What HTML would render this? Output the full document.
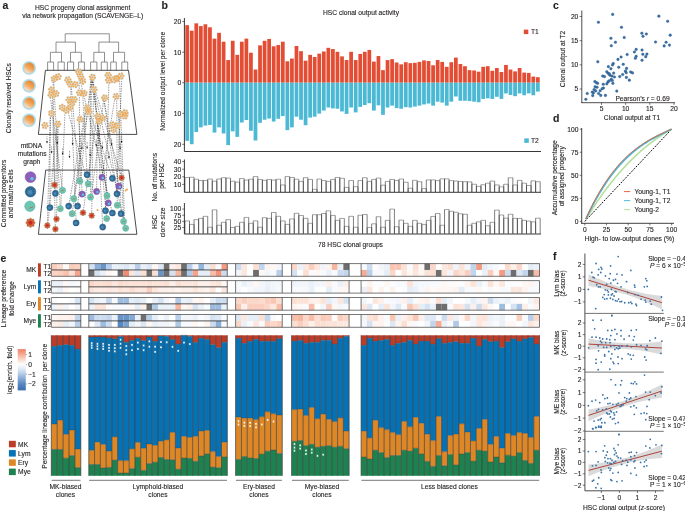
<!DOCTYPE html>
<html><head><meta charset="utf-8"><style>
html,body{margin:0;padding:0;background:#fff;overflow:hidden;}
svg{display:block;will-change:transform;}
text{font-family:"Liberation Sans", sans-serif;stroke:#231f20;stroke-width:0.12px;}
</style></head><body>
<svg width="685" height="511" viewBox="0 0 685 511">
<rect x="0" y="0" width="685" height="511" fill="#fff"/>
<rect x="185.3" y="25.17" width="3.75" height="57.53" fill="#e34d34" />
<rect x="185.3" y="82.7" width="3.75" height="58.14" fill="#4bb8d4" />
<rect x="189.85" y="30.68" width="3.75" height="52.02" fill="#e34d34" />
<rect x="189.85" y="82.7" width="3.75" height="61.51" fill="#4bb8d4" />
<rect x="194.41" y="23.34" width="3.75" height="59.36" fill="#e34d34" />
<rect x="194.41" y="82.7" width="3.75" height="49.27" fill="#4bb8d4" />
<rect x="198.96" y="26.09" width="3.75" height="56.61" fill="#e34d34" />
<rect x="198.96" y="82.7" width="3.75" height="44.68" fill="#4bb8d4" />
<rect x="203.52" y="24.25" width="3.75" height="58.45" fill="#e34d34" />
<rect x="203.52" y="82.7" width="3.75" height="42.84" fill="#4bb8d4" />
<rect x="208.07" y="27.31" width="3.75" height="55.39" fill="#e34d34" />
<rect x="208.07" y="82.7" width="3.75" height="42.23" fill="#4bb8d4" />
<rect x="212.62" y="38.64" width="3.75" height="44.06" fill="#e34d34" />
<rect x="212.62" y="82.7" width="3.75" height="49.88" fill="#4bb8d4" />
<rect x="217.18" y="32.82" width="3.75" height="49.88" fill="#e34d34" />
<rect x="217.18" y="82.7" width="3.75" height="44.68" fill="#4bb8d4" />
<rect x="221.73" y="41.7" width="3.75" height="41" fill="#e34d34" />
<rect x="221.73" y="82.7" width="3.75" height="50.8" fill="#4bb8d4" />
<rect x="226.29" y="60.06" width="3.75" height="22.64" fill="#e34d34" />
<rect x="226.29" y="82.7" width="3.75" height="62.42" fill="#4bb8d4" />
<rect x="230.84" y="40.78" width="3.75" height="41.92" fill="#e34d34" />
<rect x="230.84" y="82.7" width="3.75" height="48.65" fill="#4bb8d4" />
<rect x="235.39" y="54.85" width="3.75" height="27.85" fill="#e34d34" />
<rect x="235.39" y="82.7" width="3.75" height="54.16" fill="#4bb8d4" />
<rect x="239.95" y="41.7" width="3.75" height="41" fill="#e34d34" />
<rect x="239.95" y="82.7" width="3.75" height="39.78" fill="#4bb8d4" />
<rect x="244.5" y="38.64" width="3.75" height="44.06" fill="#e34d34" />
<rect x="244.5" y="82.7" width="3.75" height="37.33" fill="#4bb8d4" />
<rect x="249.06" y="52.71" width="3.75" height="29.99" fill="#e34d34" />
<rect x="249.06" y="82.7" width="3.75" height="48.04" fill="#4bb8d4" />
<rect x="253.61" y="69.54" width="3.75" height="13.16" fill="#e34d34" />
<rect x="253.61" y="82.7" width="3.75" height="57.83" fill="#4bb8d4" />
<rect x="258.16" y="45.37" width="3.75" height="37.33" fill="#e34d34" />
<rect x="258.16" y="82.7" width="3.75" height="40.09" fill="#4bb8d4" />
<rect x="262.72" y="40.78" width="3.75" height="41.92" fill="#e34d34" />
<rect x="262.72" y="82.7" width="3.75" height="37.03" fill="#4bb8d4" />
<rect x="267.27" y="38.94" width="3.75" height="43.76" fill="#e34d34" />
<rect x="267.27" y="82.7" width="3.75" height="35.8" fill="#4bb8d4" />
<rect x="271.83" y="46.29" width="3.75" height="36.41" fill="#e34d34" />
<rect x="271.83" y="82.7" width="3.75" height="38.86" fill="#4bb8d4" />
<rect x="276.38" y="45.06" width="3.75" height="37.64" fill="#e34d34" />
<rect x="276.38" y="82.7" width="3.75" height="36.11" fill="#4bb8d4" />
<rect x="280.93" y="41.7" width="3.75" height="41" fill="#e34d34" />
<rect x="280.93" y="82.7" width="3.75" height="33.35" fill="#4bb8d4" />
<rect x="285.49" y="61.28" width="3.75" height="21.42" fill="#e34d34" />
<rect x="285.49" y="82.7" width="3.75" height="47.43" fill="#4bb8d4" />
<rect x="290.04" y="58.53" width="3.75" height="24.17" fill="#e34d34" />
<rect x="290.04" y="82.7" width="3.75" height="44.68" fill="#4bb8d4" />
<rect x="294.6" y="45.98" width="3.75" height="36.72" fill="#e34d34" />
<rect x="294.6" y="82.7" width="3.75" height="33.97" fill="#4bb8d4" />
<rect x="299.15" y="51.18" width="3.75" height="31.52" fill="#e34d34" />
<rect x="299.15" y="82.7" width="3.75" height="37.03" fill="#4bb8d4" />
<rect x="303.7" y="60.67" width="3.75" height="22.03" fill="#e34d34" />
<rect x="303.7" y="82.7" width="3.75" height="42.53" fill="#4bb8d4" />
<rect x="308.26" y="54.85" width="3.75" height="27.85" fill="#e34d34" />
<rect x="308.26" y="82.7" width="3.75" height="34.88" fill="#4bb8d4" />
<rect x="312.81" y="57" width="3.75" height="25.7" fill="#e34d34" />
<rect x="312.81" y="82.7" width="3.75" height="33.97" fill="#4bb8d4" />
<rect x="317.37" y="53.63" width="3.75" height="29.07" fill="#e34d34" />
<rect x="317.37" y="82.7" width="3.75" height="30.91" fill="#4bb8d4" />
<rect x="321.92" y="51.49" width="3.75" height="31.21" fill="#e34d34" />
<rect x="321.92" y="82.7" width="3.75" height="27.85" fill="#4bb8d4" />
<rect x="326.47" y="47.82" width="3.75" height="34.88" fill="#e34d34" />
<rect x="326.47" y="82.7" width="3.75" height="24.79" fill="#4bb8d4" />
<rect x="331.03" y="49.04" width="3.75" height="33.66" fill="#e34d34" />
<rect x="331.03" y="82.7" width="3.75" height="25.7" fill="#4bb8d4" />
<rect x="335.58" y="51.79" width="3.75" height="30.91" fill="#e34d34" />
<rect x="335.58" y="82.7" width="3.75" height="26.01" fill="#4bb8d4" />
<rect x="340.14" y="56.38" width="3.75" height="26.32" fill="#e34d34" />
<rect x="340.14" y="82.7" width="3.75" height="28.76" fill="#4bb8d4" />
<rect x="344.69" y="60.06" width="3.75" height="22.64" fill="#e34d34" />
<rect x="344.69" y="82.7" width="3.75" height="31.21" fill="#4bb8d4" />
<rect x="349.24" y="51.79" width="3.75" height="30.91" fill="#e34d34" />
<rect x="349.24" y="82.7" width="3.75" height="24.79" fill="#4bb8d4" />
<rect x="353.8" y="60.06" width="3.75" height="22.64" fill="#e34d34" />
<rect x="353.8" y="82.7" width="3.75" height="29.68" fill="#4bb8d4" />
<rect x="358.35" y="53.94" width="3.75" height="28.76" fill="#e34d34" />
<rect x="358.35" y="82.7" width="3.75" height="24.17" fill="#4bb8d4" />
<rect x="362.91" y="51.79" width="3.75" height="30.91" fill="#e34d34" />
<rect x="362.91" y="82.7" width="3.75" height="22.34" fill="#4bb8d4" />
<rect x="367.46" y="49.96" width="3.75" height="32.74" fill="#e34d34" />
<rect x="367.46" y="82.7" width="3.75" height="20.5" fill="#4bb8d4" />
<rect x="372.01" y="61.59" width="3.75" height="21.11" fill="#e34d34" />
<rect x="372.01" y="82.7" width="3.75" height="27.85" fill="#4bb8d4" />
<rect x="376.57" y="56.08" width="3.75" height="26.62" fill="#e34d34" />
<rect x="376.57" y="82.7" width="3.75" height="22.64" fill="#4bb8d4" />
<rect x="381.12" y="70.15" width="3.75" height="12.55" fill="#e34d34" />
<rect x="381.12" y="82.7" width="3.75" height="32.13" fill="#4bb8d4" />
<rect x="385.68" y="60.06" width="3.75" height="22.64" fill="#e34d34" />
<rect x="385.68" y="82.7" width="3.75" height="24.79" fill="#4bb8d4" />
<rect x="390.23" y="59.14" width="3.75" height="23.56" fill="#e34d34" />
<rect x="390.23" y="82.7" width="3.75" height="22.95" fill="#4bb8d4" />
<rect x="394.78" y="62.5" width="3.75" height="20.2" fill="#e34d34" />
<rect x="394.78" y="82.7" width="3.75" height="25.4" fill="#4bb8d4" />
<rect x="399.34" y="64.34" width="3.75" height="18.36" fill="#e34d34" />
<rect x="399.34" y="82.7" width="3.75" height="26.01" fill="#4bb8d4" />
<rect x="403.89" y="62.2" width="3.75" height="20.5" fill="#e34d34" />
<rect x="403.89" y="82.7" width="3.75" height="24.48" fill="#4bb8d4" />
<rect x="408.45" y="63.12" width="3.75" height="19.58" fill="#e34d34" />
<rect x="408.45" y="82.7" width="3.75" height="24.79" fill="#4bb8d4" />
<rect x="413" y="62.81" width="3.75" height="19.89" fill="#e34d34" />
<rect x="413" y="82.7" width="3.75" height="23.87" fill="#4bb8d4" />
<rect x="417.55" y="61.89" width="3.75" height="20.81" fill="#e34d34" />
<rect x="417.55" y="82.7" width="3.75" height="22.95" fill="#4bb8d4" />
<rect x="422.11" y="60.36" width="3.75" height="22.34" fill="#e34d34" />
<rect x="422.11" y="82.7" width="3.75" height="21.73" fill="#4bb8d4" />
<rect x="426.66" y="60.97" width="3.75" height="21.73" fill="#e34d34" />
<rect x="426.66" y="82.7" width="3.75" height="20.81" fill="#4bb8d4" />
<rect x="431.22" y="65.26" width="3.75" height="17.44" fill="#e34d34" />
<rect x="431.22" y="82.7" width="3.75" height="22.95" fill="#4bb8d4" />
<rect x="435.77" y="60.06" width="3.75" height="22.64" fill="#e34d34" />
<rect x="435.77" y="82.7" width="3.75" height="18.97" fill="#4bb8d4" />
<rect x="440.32" y="61.89" width="3.75" height="20.81" fill="#e34d34" />
<rect x="440.32" y="82.7" width="3.75" height="19.89" fill="#4bb8d4" />
<rect x="444.88" y="66.79" width="3.75" height="15.91" fill="#e34d34" />
<rect x="444.88" y="82.7" width="3.75" height="22.95" fill="#4bb8d4" />
<rect x="449.43" y="62.2" width="3.75" height="20.5" fill="#e34d34" />
<rect x="449.43" y="82.7" width="3.75" height="18.97" fill="#4bb8d4" />
<rect x="453.99" y="57.61" width="3.75" height="25.09" fill="#e34d34" />
<rect x="453.99" y="82.7" width="3.75" height="13.77" fill="#4bb8d4" />
<rect x="458.54" y="64.03" width="3.75" height="18.67" fill="#e34d34" />
<rect x="458.54" y="82.7" width="3.75" height="18.05" fill="#4bb8d4" />
<rect x="463.09" y="66.18" width="3.75" height="16.52" fill="#e34d34" />
<rect x="463.09" y="82.7" width="3.75" height="18.05" fill="#4bb8d4" />
<rect x="467.65" y="70.15" width="3.75" height="12.55" fill="#e34d34" />
<rect x="467.65" y="82.7" width="3.75" height="18.36" fill="#4bb8d4" />
<rect x="472.2" y="70.46" width="3.75" height="12.24" fill="#e34d34" />
<rect x="472.2" y="82.7" width="3.75" height="18.97" fill="#4bb8d4" />
<rect x="476.76" y="71.68" width="3.75" height="11.02" fill="#e34d34" />
<rect x="476.76" y="82.7" width="3.75" height="19.58" fill="#4bb8d4" />
<rect x="481.31" y="66.79" width="3.75" height="15.91" fill="#e34d34" />
<rect x="481.31" y="82.7" width="3.75" height="16.22" fill="#4bb8d4" />
<rect x="485.86" y="66.18" width="3.75" height="16.52" fill="#e34d34" />
<rect x="485.86" y="82.7" width="3.75" height="15.61" fill="#4bb8d4" />
<rect x="490.42" y="70.77" width="3.75" height="11.93" fill="#e34d34" />
<rect x="490.42" y="82.7" width="3.75" height="16.22" fill="#4bb8d4" />
<rect x="494.97" y="68.01" width="3.75" height="14.69" fill="#e34d34" />
<rect x="494.97" y="82.7" width="3.75" height="14.08" fill="#4bb8d4" />
<rect x="499.53" y="71.99" width="3.75" height="10.71" fill="#e34d34" />
<rect x="499.53" y="82.7" width="3.75" height="16.22" fill="#4bb8d4" />
<rect x="504.08" y="64.95" width="3.75" height="17.75" fill="#e34d34" />
<rect x="504.08" y="82.7" width="3.75" height="10.71" fill="#4bb8d4" />
<rect x="508.63" y="69.54" width="3.75" height="13.16" fill="#e34d34" />
<rect x="508.63" y="82.7" width="3.75" height="12.24" fill="#4bb8d4" />
<rect x="513.19" y="71.38" width="3.75" height="11.32" fill="#e34d34" />
<rect x="513.19" y="82.7" width="3.75" height="13.46" fill="#4bb8d4" />
<rect x="517.74" y="68.01" width="3.75" height="14.69" fill="#e34d34" />
<rect x="517.74" y="82.7" width="3.75" height="10.71" fill="#4bb8d4" />
<rect x="522.3" y="72.6" width="3.75" height="10.1" fill="#e34d34" />
<rect x="522.3" y="82.7" width="3.75" height="12.55" fill="#4bb8d4" />
<rect x="526.85" y="72.91" width="3.75" height="9.79" fill="#e34d34" />
<rect x="526.85" y="82.7" width="3.75" height="10.71" fill="#4bb8d4" />
<rect x="531.4" y="76.58" width="3.75" height="6.12" fill="#e34d34" />
<rect x="531.4" y="82.7" width="3.75" height="12.55" fill="#4bb8d4" />
<rect x="535.96" y="77.19" width="3.75" height="5.51" fill="#e34d34" />
<rect x="535.96" y="82.7" width="3.75" height="8.87" fill="#4bb8d4" />
<line x1="184.4" y1="18" x2="184.4" y2="151.5" stroke="#231f20" stroke-width="0.9" />
<line x1="184.4" y1="151.5" x2="541" y2="151.5" stroke="#231f20" stroke-width="0.9" />
<line x1="182.2" y1="21.5" x2="184.4" y2="21.5" stroke="#231f20" stroke-width="0.6" />
<text x="181.2" y="23.8" font-size="6.68" text-anchor="end" font-weight="normal" fill="#231f20" >20</text>
<line x1="182.2" y1="52.2" x2="184.4" y2="52.2" stroke="#231f20" stroke-width="0.6" />
<text x="181.2" y="54.5" font-size="6.68" text-anchor="end" font-weight="normal" fill="#231f20" >10</text>
<line x1="182.2" y1="82.7" x2="184.4" y2="82.7" stroke="#231f20" stroke-width="0.6" />
<text x="181.2" y="85" font-size="6.68" text-anchor="end" font-weight="normal" fill="#231f20" >0</text>
<line x1="182.2" y1="113.4" x2="184.4" y2="113.4" stroke="#231f20" stroke-width="0.6" />
<text x="181.2" y="115.7" font-size="6.68" text-anchor="end" font-weight="normal" fill="#231f20" >10</text>
<line x1="182.2" y1="144.3" x2="184.4" y2="144.3" stroke="#231f20" stroke-width="0.6" />
<text x="181.2" y="146.6" font-size="6.68" text-anchor="end" font-weight="normal" fill="#231f20" >20</text>
<text x="161.4" y="8.8" font-size="10.5" text-anchor="start" font-weight="bold" fill="#231f20" >b</text>
<text x="361" y="14.75" font-size="6.68" text-anchor="middle" font-weight="normal" fill="#231f20" >HSC clonal output activity</text>
<text x="164.9" y="81.2" font-size="6.68" text-anchor="middle" font-weight="normal" fill="#231f20" transform="rotate(-90 164.9 81.2)" >Normalized output level per clone</text>
<rect x="523.8" y="29.6" width="4.5" height="4.5" fill="#e34d34" />
<text x="531" y="34.2" font-size="6.68" text-anchor="start" font-weight="normal" fill="#231f20" >T1</text>
<rect x="524.3" y="138.4" width="4.5" height="4.5" fill="#4bb8d4" />
<text x="531" y="143" font-size="6.68" text-anchor="start" font-weight="normal" fill="#231f20" >T2</text>
<line x1="184.95" y1="177.48" x2="189.5" y2="177.48" stroke="#6a6a6a" stroke-width="0.6" />
<line x1="184.95" y1="177.48" x2="184.95" y2="192" stroke="#3a3a3a" stroke-width="0.65" />
<line x1="189.5" y1="177.48" x2="189.5" y2="192" stroke="#3a3a3a" stroke-width="0.65" />
<line x1="189.5" y1="177.26" x2="194.06" y2="177.26" stroke="#6a6a6a" stroke-width="0.6" />
<line x1="189.5" y1="177.26" x2="189.5" y2="192" stroke="#3a3a3a" stroke-width="0.65" />
<line x1="194.06" y1="177.26" x2="194.06" y2="192" stroke="#3a3a3a" stroke-width="0.65" />
<line x1="194.06" y1="179.23" x2="198.61" y2="179.23" stroke="#6a6a6a" stroke-width="0.6" />
<line x1="194.06" y1="179.23" x2="194.06" y2="192" stroke="#3a3a3a" stroke-width="0.65" />
<line x1="198.61" y1="179.23" x2="198.61" y2="192" stroke="#3a3a3a" stroke-width="0.65" />
<line x1="198.61" y1="180.52" x2="203.17" y2="180.52" stroke="#6a6a6a" stroke-width="0.6" />
<line x1="198.61" y1="180.52" x2="198.61" y2="192" stroke="#3a3a3a" stroke-width="0.65" />
<line x1="203.17" y1="180.52" x2="203.17" y2="192" stroke="#3a3a3a" stroke-width="0.65" />
<line x1="203.17" y1="180.52" x2="207.72" y2="180.52" stroke="#6a6a6a" stroke-width="0.6" />
<line x1="203.17" y1="180.52" x2="203.17" y2="192" stroke="#3a3a3a" stroke-width="0.65" />
<line x1="207.72" y1="180.52" x2="207.72" y2="192" stroke="#3a3a3a" stroke-width="0.65" />
<line x1="207.72" y1="179" x2="212.27" y2="179" stroke="#6a6a6a" stroke-width="0.6" />
<line x1="207.72" y1="179" x2="207.72" y2="192" stroke="#3a3a3a" stroke-width="0.65" />
<line x1="212.27" y1="179" x2="212.27" y2="192" stroke="#3a3a3a" stroke-width="0.65" />
<line x1="212.27" y1="181.21" x2="216.83" y2="181.21" stroke="#6a6a6a" stroke-width="0.6" />
<line x1="212.27" y1="181.21" x2="212.27" y2="192" stroke="#3a3a3a" stroke-width="0.65" />
<line x1="216.83" y1="181.21" x2="216.83" y2="192" stroke="#3a3a3a" stroke-width="0.65" />
<line x1="216.83" y1="179" x2="221.38" y2="179" stroke="#6a6a6a" stroke-width="0.6" />
<line x1="216.83" y1="179" x2="216.83" y2="192" stroke="#3a3a3a" stroke-width="0.65" />
<line x1="221.38" y1="179" x2="221.38" y2="192" stroke="#3a3a3a" stroke-width="0.65" />
<line x1="221.38" y1="177.71" x2="225.94" y2="177.71" stroke="#6a6a6a" stroke-width="0.6" />
<line x1="221.38" y1="177.71" x2="221.38" y2="192" stroke="#3a3a3a" stroke-width="0.65" />
<line x1="225.94" y1="177.71" x2="225.94" y2="192" stroke="#3a3a3a" stroke-width="0.65" />
<line x1="225.94" y1="178.09" x2="230.49" y2="178.09" stroke="#6a6a6a" stroke-width="0.6" />
<line x1="225.94" y1="178.09" x2="225.94" y2="192" stroke="#3a3a3a" stroke-width="0.65" />
<line x1="230.49" y1="178.09" x2="230.49" y2="192" stroke="#3a3a3a" stroke-width="0.65" />
<line x1="230.49" y1="181.21" x2="235.04" y2="181.21" stroke="#6a6a6a" stroke-width="0.6" />
<line x1="230.49" y1="181.21" x2="230.49" y2="192" stroke="#3a3a3a" stroke-width="0.65" />
<line x1="235.04" y1="181.21" x2="235.04" y2="192" stroke="#3a3a3a" stroke-width="0.65" />
<line x1="235.04" y1="182.12" x2="239.6" y2="182.12" stroke="#6a6a6a" stroke-width="0.6" />
<line x1="235.04" y1="182.12" x2="235.04" y2="192" stroke="#3a3a3a" stroke-width="0.65" />
<line x1="239.6" y1="182.12" x2="239.6" y2="192" stroke="#3a3a3a" stroke-width="0.65" />
<line x1="239.6" y1="178.55" x2="244.15" y2="178.55" stroke="#6a6a6a" stroke-width="0.6" />
<line x1="239.6" y1="178.55" x2="239.6" y2="192" stroke="#3a3a3a" stroke-width="0.65" />
<line x1="244.15" y1="178.55" x2="244.15" y2="192" stroke="#3a3a3a" stroke-width="0.65" />
<line x1="244.15" y1="180.07" x2="248.71" y2="180.07" stroke="#6a6a6a" stroke-width="0.6" />
<line x1="244.15" y1="180.07" x2="244.15" y2="192" stroke="#3a3a3a" stroke-width="0.65" />
<line x1="248.71" y1="180.07" x2="248.71" y2="192" stroke="#3a3a3a" stroke-width="0.65" />
<line x1="248.71" y1="179.23" x2="253.26" y2="179.23" stroke="#6a6a6a" stroke-width="0.6" />
<line x1="248.71" y1="179.23" x2="248.71" y2="192" stroke="#3a3a3a" stroke-width="0.65" />
<line x1="253.26" y1="179.23" x2="253.26" y2="192" stroke="#3a3a3a" stroke-width="0.65" />
<line x1="253.26" y1="176.57" x2="257.81" y2="176.57" stroke="#6a6a6a" stroke-width="0.6" />
<line x1="253.26" y1="176.57" x2="253.26" y2="192" stroke="#3a3a3a" stroke-width="0.65" />
<line x1="257.81" y1="176.57" x2="257.81" y2="192" stroke="#3a3a3a" stroke-width="0.65" />
<line x1="257.81" y1="179.46" x2="262.37" y2="179.46" stroke="#6a6a6a" stroke-width="0.6" />
<line x1="257.81" y1="179.46" x2="257.81" y2="192" stroke="#3a3a3a" stroke-width="0.65" />
<line x1="262.37" y1="179.46" x2="262.37" y2="192" stroke="#3a3a3a" stroke-width="0.65" />
<line x1="262.37" y1="180.3" x2="266.92" y2="180.3" stroke="#6a6a6a" stroke-width="0.6" />
<line x1="262.37" y1="180.3" x2="262.37" y2="192" stroke="#3a3a3a" stroke-width="0.65" />
<line x1="266.92" y1="180.3" x2="266.92" y2="192" stroke="#3a3a3a" stroke-width="0.65" />
<line x1="266.92" y1="179.46" x2="271.48" y2="179.46" stroke="#6a6a6a" stroke-width="0.6" />
<line x1="266.92" y1="179.46" x2="266.92" y2="192" stroke="#3a3a3a" stroke-width="0.65" />
<line x1="271.48" y1="179.46" x2="271.48" y2="192" stroke="#3a3a3a" stroke-width="0.65" />
<line x1="271.48" y1="180.07" x2="276.03" y2="180.07" stroke="#6a6a6a" stroke-width="0.6" />
<line x1="271.48" y1="180.07" x2="271.48" y2="192" stroke="#3a3a3a" stroke-width="0.65" />
<line x1="276.03" y1="180.07" x2="276.03" y2="192" stroke="#3a3a3a" stroke-width="0.65" />
<line x1="276.03" y1="179.23" x2="280.58" y2="179.23" stroke="#6a6a6a" stroke-width="0.6" />
<line x1="276.03" y1="179.23" x2="276.03" y2="192" stroke="#3a3a3a" stroke-width="0.65" />
<line x1="280.58" y1="179.23" x2="280.58" y2="192" stroke="#3a3a3a" stroke-width="0.65" />
<line x1="280.58" y1="184.93" x2="285.14" y2="184.93" stroke="#6a6a6a" stroke-width="0.6" />
<line x1="280.58" y1="184.93" x2="280.58" y2="192" stroke="#3a3a3a" stroke-width="0.65" />
<line x1="285.14" y1="184.93" x2="285.14" y2="192" stroke="#3a3a3a" stroke-width="0.65" />
<line x1="285.14" y1="176.57" x2="289.69" y2="176.57" stroke="#6a6a6a" stroke-width="0.6" />
<line x1="285.14" y1="176.57" x2="285.14" y2="192" stroke="#3a3a3a" stroke-width="0.65" />
<line x1="289.69" y1="176.57" x2="289.69" y2="192" stroke="#3a3a3a" stroke-width="0.65" />
<line x1="289.69" y1="177.48" x2="294.25" y2="177.48" stroke="#6a6a6a" stroke-width="0.6" />
<line x1="289.69" y1="177.48" x2="289.69" y2="192" stroke="#3a3a3a" stroke-width="0.65" />
<line x1="294.25" y1="177.48" x2="294.25" y2="192" stroke="#3a3a3a" stroke-width="0.65" />
<line x1="294.25" y1="179.23" x2="298.8" y2="179.23" stroke="#6a6a6a" stroke-width="0.6" />
<line x1="294.25" y1="179.23" x2="294.25" y2="192" stroke="#3a3a3a" stroke-width="0.65" />
<line x1="298.8" y1="179.23" x2="298.8" y2="192" stroke="#3a3a3a" stroke-width="0.65" />
<line x1="298.8" y1="181.44" x2="303.35" y2="181.44" stroke="#6a6a6a" stroke-width="0.6" />
<line x1="298.8" y1="181.44" x2="298.8" y2="192" stroke="#3a3a3a" stroke-width="0.65" />
<line x1="303.35" y1="181.44" x2="303.35" y2="192" stroke="#3a3a3a" stroke-width="0.65" />
<line x1="303.35" y1="177.71" x2="307.91" y2="177.71" stroke="#6a6a6a" stroke-width="0.6" />
<line x1="303.35" y1="177.71" x2="303.35" y2="192" stroke="#3a3a3a" stroke-width="0.65" />
<line x1="307.91" y1="177.71" x2="307.91" y2="192" stroke="#3a3a3a" stroke-width="0.65" />
<line x1="307.91" y1="179.46" x2="312.46" y2="179.46" stroke="#6a6a6a" stroke-width="0.6" />
<line x1="307.91" y1="179.46" x2="307.91" y2="192" stroke="#3a3a3a" stroke-width="0.65" />
<line x1="312.46" y1="179.46" x2="312.46" y2="192" stroke="#3a3a3a" stroke-width="0.65" />
<line x1="312.46" y1="189.34" x2="317.02" y2="189.34" stroke="#6a6a6a" stroke-width="0.6" />
<line x1="312.46" y1="189.34" x2="312.46" y2="192" stroke="#3a3a3a" stroke-width="0.65" />
<line x1="317.02" y1="189.34" x2="317.02" y2="192" stroke="#3a3a3a" stroke-width="0.65" />
<line x1="317.02" y1="179" x2="321.57" y2="179" stroke="#6a6a6a" stroke-width="0.6" />
<line x1="317.02" y1="179" x2="317.02" y2="192" stroke="#3a3a3a" stroke-width="0.65" />
<line x1="321.57" y1="179" x2="321.57" y2="192" stroke="#3a3a3a" stroke-width="0.65" />
<line x1="321.57" y1="180.52" x2="326.12" y2="180.52" stroke="#6a6a6a" stroke-width="0.6" />
<line x1="321.57" y1="180.52" x2="321.57" y2="192" stroke="#3a3a3a" stroke-width="0.65" />
<line x1="326.12" y1="180.52" x2="326.12" y2="192" stroke="#3a3a3a" stroke-width="0.65" />
<line x1="326.12" y1="181.44" x2="330.68" y2="181.44" stroke="#6a6a6a" stroke-width="0.6" />
<line x1="326.12" y1="181.44" x2="326.12" y2="192" stroke="#3a3a3a" stroke-width="0.65" />
<line x1="330.68" y1="181.44" x2="330.68" y2="192" stroke="#3a3a3a" stroke-width="0.65" />
<line x1="330.68" y1="179.46" x2="335.23" y2="179.46" stroke="#6a6a6a" stroke-width="0.6" />
<line x1="330.68" y1="179.46" x2="330.68" y2="192" stroke="#3a3a3a" stroke-width="0.65" />
<line x1="335.23" y1="179.46" x2="335.23" y2="192" stroke="#3a3a3a" stroke-width="0.65" />
<line x1="335.23" y1="177.48" x2="339.79" y2="177.48" stroke="#6a6a6a" stroke-width="0.6" />
<line x1="335.23" y1="177.48" x2="335.23" y2="192" stroke="#3a3a3a" stroke-width="0.65" />
<line x1="339.79" y1="177.48" x2="339.79" y2="192" stroke="#3a3a3a" stroke-width="0.65" />
<line x1="339.79" y1="178.32" x2="344.34" y2="178.32" stroke="#6a6a6a" stroke-width="0.6" />
<line x1="339.79" y1="178.32" x2="339.79" y2="192" stroke="#3a3a3a" stroke-width="0.65" />
<line x1="344.34" y1="178.32" x2="344.34" y2="192" stroke="#3a3a3a" stroke-width="0.65" />
<line x1="344.34" y1="187.36" x2="348.89" y2="187.36" stroke="#6a6a6a" stroke-width="0.6" />
<line x1="344.34" y1="187.36" x2="344.34" y2="192" stroke="#3a3a3a" stroke-width="0.65" />
<line x1="348.89" y1="187.36" x2="348.89" y2="192" stroke="#3a3a3a" stroke-width="0.65" />
<line x1="348.89" y1="180.52" x2="353.45" y2="180.52" stroke="#6a6a6a" stroke-width="0.6" />
<line x1="348.89" y1="180.52" x2="348.89" y2="192" stroke="#3a3a3a" stroke-width="0.65" />
<line x1="353.45" y1="180.52" x2="353.45" y2="192" stroke="#3a3a3a" stroke-width="0.65" />
<line x1="353.45" y1="186.68" x2="358" y2="186.68" stroke="#6a6a6a" stroke-width="0.6" />
<line x1="353.45" y1="186.68" x2="353.45" y2="192" stroke="#3a3a3a" stroke-width="0.65" />
<line x1="358" y1="186.68" x2="358" y2="192" stroke="#3a3a3a" stroke-width="0.65" />
<line x1="358" y1="180.52" x2="362.56" y2="180.52" stroke="#6a6a6a" stroke-width="0.6" />
<line x1="358" y1="180.52" x2="358" y2="192" stroke="#3a3a3a" stroke-width="0.65" />
<line x1="362.56" y1="180.52" x2="362.56" y2="192" stroke="#3a3a3a" stroke-width="0.65" />
<line x1="362.56" y1="177.71" x2="367.11" y2="177.71" stroke="#6a6a6a" stroke-width="0.6" />
<line x1="362.56" y1="177.71" x2="362.56" y2="192" stroke="#3a3a3a" stroke-width="0.65" />
<line x1="367.11" y1="177.71" x2="367.11" y2="192" stroke="#3a3a3a" stroke-width="0.65" />
<line x1="367.11" y1="181.44" x2="371.66" y2="181.44" stroke="#6a6a6a" stroke-width="0.6" />
<line x1="367.11" y1="181.44" x2="367.11" y2="192" stroke="#3a3a3a" stroke-width="0.65" />
<line x1="371.66" y1="181.44" x2="371.66" y2="192" stroke="#3a3a3a" stroke-width="0.65" />
<line x1="371.66" y1="179.46" x2="376.22" y2="179.46" stroke="#6a6a6a" stroke-width="0.6" />
<line x1="371.66" y1="179.46" x2="371.66" y2="192" stroke="#3a3a3a" stroke-width="0.65" />
<line x1="376.22" y1="179.46" x2="376.22" y2="192" stroke="#3a3a3a" stroke-width="0.65" />
<line x1="376.22" y1="178.09" x2="380.77" y2="178.09" stroke="#6a6a6a" stroke-width="0.6" />
<line x1="376.22" y1="178.09" x2="376.22" y2="192" stroke="#3a3a3a" stroke-width="0.65" />
<line x1="380.77" y1="178.09" x2="380.77" y2="192" stroke="#3a3a3a" stroke-width="0.65" />
<line x1="380.77" y1="185.16" x2="385.33" y2="185.16" stroke="#6a6a6a" stroke-width="0.6" />
<line x1="380.77" y1="185.16" x2="380.77" y2="192" stroke="#3a3a3a" stroke-width="0.65" />
<line x1="385.33" y1="185.16" x2="385.33" y2="192" stroke="#3a3a3a" stroke-width="0.65" />
<line x1="385.33" y1="181.44" x2="389.88" y2="181.44" stroke="#6a6a6a" stroke-width="0.6" />
<line x1="385.33" y1="181.44" x2="385.33" y2="192" stroke="#3a3a3a" stroke-width="0.65" />
<line x1="389.88" y1="181.44" x2="389.88" y2="192" stroke="#3a3a3a" stroke-width="0.65" />
<line x1="389.88" y1="179.46" x2="394.43" y2="179.46" stroke="#6a6a6a" stroke-width="0.6" />
<line x1="389.88" y1="179.46" x2="389.88" y2="192" stroke="#3a3a3a" stroke-width="0.65" />
<line x1="394.43" y1="179.46" x2="394.43" y2="192" stroke="#3a3a3a" stroke-width="0.65" />
<line x1="394.43" y1="180.52" x2="398.99" y2="180.52" stroke="#6a6a6a" stroke-width="0.6" />
<line x1="394.43" y1="180.52" x2="394.43" y2="192" stroke="#3a3a3a" stroke-width="0.65" />
<line x1="398.99" y1="180.52" x2="398.99" y2="192" stroke="#3a3a3a" stroke-width="0.65" />
<line x1="398.99" y1="179" x2="403.54" y2="179" stroke="#6a6a6a" stroke-width="0.6" />
<line x1="398.99" y1="179" x2="398.99" y2="192" stroke="#3a3a3a" stroke-width="0.65" />
<line x1="403.54" y1="179" x2="403.54" y2="192" stroke="#3a3a3a" stroke-width="0.65" />
<line x1="403.54" y1="182.27" x2="408.1" y2="182.27" stroke="#6a6a6a" stroke-width="0.6" />
<line x1="403.54" y1="182.27" x2="403.54" y2="192" stroke="#3a3a3a" stroke-width="0.65" />
<line x1="408.1" y1="182.27" x2="408.1" y2="192" stroke="#3a3a3a" stroke-width="0.65" />
<line x1="408.1" y1="188.28" x2="412.65" y2="188.28" stroke="#6a6a6a" stroke-width="0.6" />
<line x1="408.1" y1="188.28" x2="408.1" y2="192" stroke="#3a3a3a" stroke-width="0.65" />
<line x1="412.65" y1="188.28" x2="412.65" y2="192" stroke="#3a3a3a" stroke-width="0.65" />
<line x1="412.65" y1="180.3" x2="417.2" y2="180.3" stroke="#6a6a6a" stroke-width="0.6" />
<line x1="412.65" y1="180.3" x2="412.65" y2="192" stroke="#3a3a3a" stroke-width="0.65" />
<line x1="417.2" y1="180.3" x2="417.2" y2="192" stroke="#3a3a3a" stroke-width="0.65" />
<line x1="417.2" y1="181.66" x2="421.76" y2="181.66" stroke="#6a6a6a" stroke-width="0.6" />
<line x1="417.2" y1="181.66" x2="417.2" y2="192" stroke="#3a3a3a" stroke-width="0.65" />
<line x1="421.76" y1="181.66" x2="421.76" y2="192" stroke="#3a3a3a" stroke-width="0.65" />
<line x1="421.76" y1="188.58" x2="426.31" y2="188.58" stroke="#6a6a6a" stroke-width="0.6" />
<line x1="421.76" y1="188.58" x2="421.76" y2="192" stroke="#3a3a3a" stroke-width="0.65" />
<line x1="426.31" y1="188.58" x2="426.31" y2="192" stroke="#3a3a3a" stroke-width="0.65" />
<line x1="426.31" y1="179.92" x2="430.87" y2="179.92" stroke="#6a6a6a" stroke-width="0.6" />
<line x1="426.31" y1="179.92" x2="426.31" y2="192" stroke="#3a3a3a" stroke-width="0.65" />
<line x1="430.87" y1="179.92" x2="430.87" y2="192" stroke="#3a3a3a" stroke-width="0.65" />
<line x1="430.87" y1="179.92" x2="435.42" y2="179.92" stroke="#6a6a6a" stroke-width="0.6" />
<line x1="430.87" y1="179.92" x2="430.87" y2="192" stroke="#3a3a3a" stroke-width="0.65" />
<line x1="435.42" y1="179.92" x2="435.42" y2="192" stroke="#3a3a3a" stroke-width="0.65" />
<line x1="435.42" y1="180.6" x2="439.97" y2="180.6" stroke="#6a6a6a" stroke-width="0.6" />
<line x1="435.42" y1="180.6" x2="435.42" y2="192" stroke="#3a3a3a" stroke-width="0.65" />
<line x1="439.97" y1="180.6" x2="439.97" y2="192" stroke="#3a3a3a" stroke-width="0.65" />
<line x1="439.97" y1="178.85" x2="444.53" y2="178.85" stroke="#6a6a6a" stroke-width="0.6" />
<line x1="439.97" y1="178.85" x2="439.97" y2="192" stroke="#3a3a3a" stroke-width="0.65" />
<line x1="444.53" y1="178.85" x2="444.53" y2="192" stroke="#3a3a3a" stroke-width="0.65" />
<line x1="444.53" y1="178.85" x2="449.08" y2="178.85" stroke="#6a6a6a" stroke-width="0.6" />
<line x1="444.53" y1="178.85" x2="444.53" y2="192" stroke="#3a3a3a" stroke-width="0.65" />
<line x1="449.08" y1="178.85" x2="449.08" y2="192" stroke="#3a3a3a" stroke-width="0.65" />
<line x1="449.08" y1="180.6" x2="453.64" y2="180.6" stroke="#6a6a6a" stroke-width="0.6" />
<line x1="449.08" y1="180.6" x2="449.08" y2="192" stroke="#3a3a3a" stroke-width="0.65" />
<line x1="453.64" y1="180.6" x2="453.64" y2="192" stroke="#3a3a3a" stroke-width="0.65" />
<line x1="453.64" y1="181.06" x2="458.19" y2="181.06" stroke="#6a6a6a" stroke-width="0.6" />
<line x1="453.64" y1="181.06" x2="453.64" y2="192" stroke="#3a3a3a" stroke-width="0.65" />
<line x1="458.19" y1="181.06" x2="458.19" y2="192" stroke="#3a3a3a" stroke-width="0.65" />
<line x1="458.19" y1="181.44" x2="462.74" y2="181.44" stroke="#6a6a6a" stroke-width="0.6" />
<line x1="458.19" y1="181.44" x2="458.19" y2="192" stroke="#3a3a3a" stroke-width="0.65" />
<line x1="462.74" y1="181.44" x2="462.74" y2="192" stroke="#3a3a3a" stroke-width="0.65" />
<line x1="462.74" y1="181.66" x2="467.3" y2="181.66" stroke="#6a6a6a" stroke-width="0.6" />
<line x1="462.74" y1="181.66" x2="462.74" y2="192" stroke="#3a3a3a" stroke-width="0.65" />
<line x1="467.3" y1="181.66" x2="467.3" y2="192" stroke="#3a3a3a" stroke-width="0.65" />
<line x1="467.3" y1="181.89" x2="471.85" y2="181.89" stroke="#6a6a6a" stroke-width="0.6" />
<line x1="467.3" y1="181.89" x2="467.3" y2="192" stroke="#3a3a3a" stroke-width="0.65" />
<line x1="471.85" y1="181.89" x2="471.85" y2="192" stroke="#3a3a3a" stroke-width="0.65" />
<line x1="471.85" y1="184.25" x2="476.41" y2="184.25" stroke="#6a6a6a" stroke-width="0.6" />
<line x1="471.85" y1="184.25" x2="471.85" y2="192" stroke="#3a3a3a" stroke-width="0.65" />
<line x1="476.41" y1="184.25" x2="476.41" y2="192" stroke="#3a3a3a" stroke-width="0.65" />
<line x1="476.41" y1="186.38" x2="480.96" y2="186.38" stroke="#6a6a6a" stroke-width="0.6" />
<line x1="476.41" y1="186.38" x2="476.41" y2="192" stroke="#3a3a3a" stroke-width="0.65" />
<line x1="480.96" y1="186.38" x2="480.96" y2="192" stroke="#3a3a3a" stroke-width="0.65" />
<line x1="480.96" y1="184.7" x2="485.51" y2="184.7" stroke="#6a6a6a" stroke-width="0.6" />
<line x1="480.96" y1="184.7" x2="480.96" y2="192" stroke="#3a3a3a" stroke-width="0.65" />
<line x1="485.51" y1="184.7" x2="485.51" y2="192" stroke="#3a3a3a" stroke-width="0.65" />
<line x1="485.51" y1="183.18" x2="490.07" y2="183.18" stroke="#6a6a6a" stroke-width="0.6" />
<line x1="485.51" y1="183.18" x2="485.51" y2="192" stroke="#3a3a3a" stroke-width="0.65" />
<line x1="490.07" y1="183.18" x2="490.07" y2="192" stroke="#3a3a3a" stroke-width="0.65" />
<line x1="490.07" y1="181.06" x2="494.62" y2="181.06" stroke="#6a6a6a" stroke-width="0.6" />
<line x1="490.07" y1="181.06" x2="490.07" y2="192" stroke="#3a3a3a" stroke-width="0.65" />
<line x1="494.62" y1="181.06" x2="494.62" y2="192" stroke="#3a3a3a" stroke-width="0.65" />
<line x1="494.62" y1="184.93" x2="499.18" y2="184.93" stroke="#6a6a6a" stroke-width="0.6" />
<line x1="494.62" y1="184.93" x2="494.62" y2="192" stroke="#3a3a3a" stroke-width="0.65" />
<line x1="499.18" y1="184.93" x2="499.18" y2="192" stroke="#3a3a3a" stroke-width="0.65" />
<line x1="499.18" y1="186.83" x2="503.73" y2="186.83" stroke="#6a6a6a" stroke-width="0.6" />
<line x1="499.18" y1="186.83" x2="499.18" y2="192" stroke="#3a3a3a" stroke-width="0.65" />
<line x1="503.73" y1="186.83" x2="503.73" y2="192" stroke="#3a3a3a" stroke-width="0.65" />
<line x1="503.73" y1="184.25" x2="508.28" y2="184.25" stroke="#6a6a6a" stroke-width="0.6" />
<line x1="503.73" y1="184.25" x2="503.73" y2="192" stroke="#3a3a3a" stroke-width="0.65" />
<line x1="508.28" y1="184.25" x2="508.28" y2="192" stroke="#3a3a3a" stroke-width="0.65" />
<line x1="508.28" y1="177.79" x2="512.84" y2="177.79" stroke="#6a6a6a" stroke-width="0.6" />
<line x1="508.28" y1="177.79" x2="508.28" y2="192" stroke="#3a3a3a" stroke-width="0.65" />
<line x1="512.84" y1="177.79" x2="512.84" y2="192" stroke="#3a3a3a" stroke-width="0.65" />
<line x1="512.84" y1="184.93" x2="517.39" y2="184.93" stroke="#6a6a6a" stroke-width="0.6" />
<line x1="512.84" y1="184.93" x2="512.84" y2="192" stroke="#3a3a3a" stroke-width="0.65" />
<line x1="517.39" y1="184.93" x2="517.39" y2="192" stroke="#3a3a3a" stroke-width="0.65" />
<line x1="517.39" y1="180.37" x2="521.95" y2="180.37" stroke="#6a6a6a" stroke-width="0.6" />
<line x1="517.39" y1="180.37" x2="517.39" y2="192" stroke="#3a3a3a" stroke-width="0.65" />
<line x1="521.95" y1="180.37" x2="521.95" y2="192" stroke="#3a3a3a" stroke-width="0.65" />
<line x1="521.95" y1="183.18" x2="526.5" y2="183.18" stroke="#6a6a6a" stroke-width="0.6" />
<line x1="521.95" y1="183.18" x2="521.95" y2="192" stroke="#3a3a3a" stroke-width="0.65" />
<line x1="526.5" y1="183.18" x2="526.5" y2="192" stroke="#3a3a3a" stroke-width="0.65" />
<line x1="526.5" y1="185.54" x2="531.05" y2="185.54" stroke="#6a6a6a" stroke-width="0.6" />
<line x1="526.5" y1="185.54" x2="526.5" y2="192" stroke="#3a3a3a" stroke-width="0.65" />
<line x1="531.05" y1="185.54" x2="531.05" y2="192" stroke="#3a3a3a" stroke-width="0.65" />
<line x1="531.05" y1="180.83" x2="535.61" y2="180.83" stroke="#6a6a6a" stroke-width="0.6" />
<line x1="531.05" y1="180.83" x2="531.05" y2="192" stroke="#3a3a3a" stroke-width="0.65" />
<line x1="535.61" y1="180.83" x2="535.61" y2="192" stroke="#3a3a3a" stroke-width="0.65" />
<line x1="535.61" y1="181.66" x2="540.16" y2="181.66" stroke="#6a6a6a" stroke-width="0.6" />
<line x1="535.61" y1="181.66" x2="535.61" y2="192" stroke="#3a3a3a" stroke-width="0.65" />
<line x1="540.16" y1="181.66" x2="540.16" y2="192" stroke="#3a3a3a" stroke-width="0.65" />
<line x1="184.4" y1="159.5" x2="184.4" y2="192.3" stroke="#231f20" stroke-width="0.9" />
<line x1="184.4" y1="192.3" x2="541" y2="192.3" stroke="#231f20" stroke-width="0.9" />
<line x1="182.2" y1="184.4" x2="184.4" y2="184.4" stroke="#231f20" stroke-width="0.6" />
<text x="181.2" y="186.7" font-size="6.68" text-anchor="end" font-weight="normal" fill="#231f20" >10</text>
<line x1="182.2" y1="176.8" x2="184.4" y2="176.8" stroke="#231f20" stroke-width="0.6" />
<text x="181.2" y="179.1" font-size="6.68" text-anchor="end" font-weight="normal" fill="#231f20" >20</text>
<line x1="182.2" y1="169.2" x2="184.4" y2="169.2" stroke="#231f20" stroke-width="0.6" />
<text x="181.2" y="171.5" font-size="6.68" text-anchor="end" font-weight="normal" fill="#231f20" >30</text>
<line x1="182.2" y1="161.6" x2="184.4" y2="161.6" stroke="#231f20" stroke-width="0.6" />
<text x="181.2" y="163.9" font-size="6.68" text-anchor="end" font-weight="normal" fill="#231f20" >40</text>
<text x="157.5" y="177.3" font-size="6.68" text-anchor="middle" font-weight="normal" fill="#231f20" transform="rotate(-90 157.5 177.3)" >No. of mutations</text>
<text x="164.3" y="176" font-size="6.68" text-anchor="middle" font-weight="normal" fill="#231f20" transform="rotate(-90 164.3 176)" >per HSC</text>
<line x1="184.95" y1="220.86" x2="189.5" y2="220.86" stroke="#6a6a6a" stroke-width="0.6" />
<line x1="184.95" y1="220.86" x2="184.95" y2="233.6" stroke="#3a3a3a" stroke-width="0.65" />
<line x1="189.5" y1="220.86" x2="189.5" y2="233.6" stroke="#3a3a3a" stroke-width="0.65" />
<line x1="189.5" y1="224.41" x2="194.06" y2="224.41" stroke="#6a6a6a" stroke-width="0.6" />
<line x1="189.5" y1="224.41" x2="189.5" y2="233.6" stroke="#3a3a3a" stroke-width="0.65" />
<line x1="194.06" y1="224.41" x2="194.06" y2="233.6" stroke="#3a3a3a" stroke-width="0.65" />
<line x1="194.06" y1="219.63" x2="198.61" y2="219.63" stroke="#6a6a6a" stroke-width="0.6" />
<line x1="194.06" y1="219.63" x2="194.06" y2="233.6" stroke="#3a3a3a" stroke-width="0.65" />
<line x1="198.61" y1="219.63" x2="198.61" y2="233.6" stroke="#3a3a3a" stroke-width="0.65" />
<line x1="198.61" y1="218.41" x2="203.17" y2="218.41" stroke="#6a6a6a" stroke-width="0.6" />
<line x1="198.61" y1="218.41" x2="198.61" y2="233.6" stroke="#3a3a3a" stroke-width="0.65" />
<line x1="203.17" y1="218.41" x2="203.17" y2="233.6" stroke="#3a3a3a" stroke-width="0.65" />
<line x1="203.17" y1="216.33" x2="207.72" y2="216.33" stroke="#6a6a6a" stroke-width="0.6" />
<line x1="203.17" y1="216.33" x2="203.17" y2="233.6" stroke="#3a3a3a" stroke-width="0.65" />
<line x1="207.72" y1="216.33" x2="207.72" y2="233.6" stroke="#3a3a3a" stroke-width="0.65" />
<line x1="207.72" y1="227.23" x2="212.27" y2="227.23" stroke="#6a6a6a" stroke-width="0.6" />
<line x1="207.72" y1="227.23" x2="207.72" y2="233.6" stroke="#3a3a3a" stroke-width="0.65" />
<line x1="212.27" y1="227.23" x2="212.27" y2="233.6" stroke="#3a3a3a" stroke-width="0.65" />
<line x1="212.27" y1="209.83" x2="216.83" y2="209.83" stroke="#6a6a6a" stroke-width="0.6" />
<line x1="212.27" y1="209.83" x2="212.27" y2="233.6" stroke="#3a3a3a" stroke-width="0.65" />
<line x1="216.83" y1="209.83" x2="216.83" y2="233.6" stroke="#3a3a3a" stroke-width="0.65" />
<line x1="216.83" y1="225.27" x2="221.38" y2="225.27" stroke="#6a6a6a" stroke-width="0.6" />
<line x1="216.83" y1="225.27" x2="216.83" y2="233.6" stroke="#3a3a3a" stroke-width="0.65" />
<line x1="221.38" y1="225.27" x2="221.38" y2="233.6" stroke="#3a3a3a" stroke-width="0.65" />
<line x1="221.38" y1="222.33" x2="225.94" y2="222.33" stroke="#6a6a6a" stroke-width="0.6" />
<line x1="221.38" y1="222.33" x2="221.38" y2="233.6" stroke="#3a3a3a" stroke-width="0.65" />
<line x1="225.94" y1="222.33" x2="225.94" y2="233.6" stroke="#3a3a3a" stroke-width="0.65" />
<line x1="225.94" y1="219.63" x2="230.49" y2="219.63" stroke="#6a6a6a" stroke-width="0.6" />
<line x1="225.94" y1="219.63" x2="225.94" y2="233.6" stroke="#3a3a3a" stroke-width="0.65" />
<line x1="230.49" y1="219.63" x2="230.49" y2="233.6" stroke="#3a3a3a" stroke-width="0.65" />
<line x1="230.49" y1="227.47" x2="235.04" y2="227.47" stroke="#6a6a6a" stroke-width="0.6" />
<line x1="230.49" y1="227.47" x2="230.49" y2="233.6" stroke="#3a3a3a" stroke-width="0.65" />
<line x1="235.04" y1="227.47" x2="235.04" y2="233.6" stroke="#3a3a3a" stroke-width="0.65" />
<line x1="235.04" y1="226.37" x2="239.6" y2="226.37" stroke="#6a6a6a" stroke-width="0.6" />
<line x1="235.04" y1="226.37" x2="235.04" y2="233.6" stroke="#3a3a3a" stroke-width="0.65" />
<line x1="239.6" y1="226.37" x2="239.6" y2="233.6" stroke="#3a3a3a" stroke-width="0.65" />
<line x1="239.6" y1="222.33" x2="244.15" y2="222.33" stroke="#6a6a6a" stroke-width="0.6" />
<line x1="239.6" y1="222.33" x2="239.6" y2="233.6" stroke="#3a3a3a" stroke-width="0.65" />
<line x1="244.15" y1="222.33" x2="244.15" y2="233.6" stroke="#3a3a3a" stroke-width="0.65" />
<line x1="244.15" y1="217.43" x2="248.71" y2="217.43" stroke="#6a6a6a" stroke-width="0.6" />
<line x1="244.15" y1="217.43" x2="244.15" y2="233.6" stroke="#3a3a3a" stroke-width="0.65" />
<line x1="248.71" y1="217.43" x2="248.71" y2="233.6" stroke="#3a3a3a" stroke-width="0.65" />
<line x1="248.71" y1="223.31" x2="253.26" y2="223.31" stroke="#6a6a6a" stroke-width="0.6" />
<line x1="248.71" y1="223.31" x2="248.71" y2="233.6" stroke="#3a3a3a" stroke-width="0.65" />
<line x1="253.26" y1="223.31" x2="253.26" y2="233.6" stroke="#3a3a3a" stroke-width="0.65" />
<line x1="253.26" y1="220.86" x2="257.81" y2="220.86" stroke="#6a6a6a" stroke-width="0.6" />
<line x1="253.26" y1="220.86" x2="253.26" y2="233.6" stroke="#3a3a3a" stroke-width="0.65" />
<line x1="257.81" y1="220.86" x2="257.81" y2="233.6" stroke="#3a3a3a" stroke-width="0.65" />
<line x1="257.81" y1="227.23" x2="262.37" y2="227.23" stroke="#6a6a6a" stroke-width="0.6" />
<line x1="257.81" y1="227.23" x2="257.81" y2="233.6" stroke="#3a3a3a" stroke-width="0.65" />
<line x1="262.37" y1="227.23" x2="262.37" y2="233.6" stroke="#3a3a3a" stroke-width="0.65" />
<line x1="262.37" y1="217.67" x2="266.92" y2="217.67" stroke="#6a6a6a" stroke-width="0.6" />
<line x1="262.37" y1="217.67" x2="262.37" y2="233.6" stroke="#3a3a3a" stroke-width="0.65" />
<line x1="266.92" y1="217.67" x2="266.92" y2="233.6" stroke="#3a3a3a" stroke-width="0.65" />
<line x1="266.92" y1="218.41" x2="271.48" y2="218.41" stroke="#6a6a6a" stroke-width="0.6" />
<line x1="266.92" y1="218.41" x2="266.92" y2="233.6" stroke="#3a3a3a" stroke-width="0.65" />
<line x1="271.48" y1="218.41" x2="271.48" y2="233.6" stroke="#3a3a3a" stroke-width="0.65" />
<line x1="271.48" y1="212.53" x2="276.03" y2="212.53" stroke="#6a6a6a" stroke-width="0.6" />
<line x1="271.48" y1="212.53" x2="271.48" y2="233.6" stroke="#3a3a3a" stroke-width="0.65" />
<line x1="276.03" y1="212.53" x2="276.03" y2="233.6" stroke="#3a3a3a" stroke-width="0.65" />
<line x1="276.03" y1="216.33" x2="280.58" y2="216.33" stroke="#6a6a6a" stroke-width="0.6" />
<line x1="276.03" y1="216.33" x2="276.03" y2="233.6" stroke="#3a3a3a" stroke-width="0.65" />
<line x1="280.58" y1="216.33" x2="280.58" y2="233.6" stroke="#3a3a3a" stroke-width="0.65" />
<line x1="280.58" y1="220.86" x2="285.14" y2="220.86" stroke="#6a6a6a" stroke-width="0.6" />
<line x1="280.58" y1="220.86" x2="280.58" y2="233.6" stroke="#3a3a3a" stroke-width="0.65" />
<line x1="285.14" y1="220.86" x2="285.14" y2="233.6" stroke="#3a3a3a" stroke-width="0.65" />
<line x1="285.14" y1="224.41" x2="289.69" y2="224.41" stroke="#6a6a6a" stroke-width="0.6" />
<line x1="285.14" y1="224.41" x2="285.14" y2="233.6" stroke="#3a3a3a" stroke-width="0.65" />
<line x1="289.69" y1="224.41" x2="289.69" y2="233.6" stroke="#3a3a3a" stroke-width="0.65" />
<line x1="289.69" y1="218.9" x2="294.25" y2="218.9" stroke="#6a6a6a" stroke-width="0.6" />
<line x1="289.69" y1="218.9" x2="289.69" y2="233.6" stroke="#3a3a3a" stroke-width="0.65" />
<line x1="294.25" y1="218.9" x2="294.25" y2="233.6" stroke="#3a3a3a" stroke-width="0.65" />
<line x1="294.25" y1="213.26" x2="298.8" y2="213.26" stroke="#6a6a6a" stroke-width="0.6" />
<line x1="294.25" y1="213.26" x2="294.25" y2="233.6" stroke="#3a3a3a" stroke-width="0.65" />
<line x1="298.8" y1="213.26" x2="298.8" y2="233.6" stroke="#3a3a3a" stroke-width="0.65" />
<line x1="298.8" y1="215.47" x2="303.35" y2="215.47" stroke="#6a6a6a" stroke-width="0.6" />
<line x1="298.8" y1="215.47" x2="298.8" y2="233.6" stroke="#3a3a3a" stroke-width="0.65" />
<line x1="303.35" y1="215.47" x2="303.35" y2="233.6" stroke="#3a3a3a" stroke-width="0.65" />
<line x1="303.35" y1="218.41" x2="307.91" y2="218.41" stroke="#6a6a6a" stroke-width="0.6" />
<line x1="303.35" y1="218.41" x2="303.35" y2="233.6" stroke="#3a3a3a" stroke-width="0.65" />
<line x1="307.91" y1="218.41" x2="307.91" y2="233.6" stroke="#3a3a3a" stroke-width="0.65" />
<line x1="307.91" y1="223.31" x2="312.46" y2="223.31" stroke="#6a6a6a" stroke-width="0.6" />
<line x1="307.91" y1="223.31" x2="307.91" y2="233.6" stroke="#3a3a3a" stroke-width="0.65" />
<line x1="312.46" y1="223.31" x2="312.46" y2="233.6" stroke="#3a3a3a" stroke-width="0.65" />
<line x1="312.46" y1="214.73" x2="317.02" y2="214.73" stroke="#6a6a6a" stroke-width="0.6" />
<line x1="312.46" y1="214.73" x2="312.46" y2="233.6" stroke="#3a3a3a" stroke-width="0.65" />
<line x1="317.02" y1="214.73" x2="317.02" y2="233.6" stroke="#3a3a3a" stroke-width="0.65" />
<line x1="317.02" y1="214.73" x2="321.57" y2="214.73" stroke="#6a6a6a" stroke-width="0.6" />
<line x1="317.02" y1="214.73" x2="317.02" y2="233.6" stroke="#3a3a3a" stroke-width="0.65" />
<line x1="321.57" y1="214.73" x2="321.57" y2="233.6" stroke="#3a3a3a" stroke-width="0.65" />
<line x1="321.57" y1="213.51" x2="326.12" y2="213.51" stroke="#6a6a6a" stroke-width="0.6" />
<line x1="321.57" y1="213.51" x2="321.57" y2="233.6" stroke="#3a3a3a" stroke-width="0.65" />
<line x1="326.12" y1="213.51" x2="326.12" y2="233.6" stroke="#3a3a3a" stroke-width="0.65" />
<line x1="326.12" y1="210.81" x2="330.68" y2="210.81" stroke="#6a6a6a" stroke-width="0.6" />
<line x1="326.12" y1="210.81" x2="326.12" y2="233.6" stroke="#3a3a3a" stroke-width="0.65" />
<line x1="330.68" y1="210.81" x2="330.68" y2="233.6" stroke="#3a3a3a" stroke-width="0.65" />
<line x1="330.68" y1="215.47" x2="335.23" y2="215.47" stroke="#6a6a6a" stroke-width="0.6" />
<line x1="330.68" y1="215.47" x2="330.68" y2="233.6" stroke="#3a3a3a" stroke-width="0.65" />
<line x1="335.23" y1="215.47" x2="335.23" y2="233.6" stroke="#3a3a3a" stroke-width="0.65" />
<line x1="335.23" y1="220.37" x2="339.79" y2="220.37" stroke="#6a6a6a" stroke-width="0.6" />
<line x1="335.23" y1="220.37" x2="335.23" y2="233.6" stroke="#3a3a3a" stroke-width="0.65" />
<line x1="339.79" y1="220.37" x2="339.79" y2="233.6" stroke="#3a3a3a" stroke-width="0.65" />
<line x1="339.79" y1="218.41" x2="344.34" y2="218.41" stroke="#6a6a6a" stroke-width="0.6" />
<line x1="339.79" y1="218.41" x2="339.79" y2="233.6" stroke="#3a3a3a" stroke-width="0.65" />
<line x1="344.34" y1="218.41" x2="344.34" y2="233.6" stroke="#3a3a3a" stroke-width="0.65" />
<line x1="344.34" y1="226.37" x2="348.89" y2="226.37" stroke="#6a6a6a" stroke-width="0.6" />
<line x1="344.34" y1="226.37" x2="344.34" y2="233.6" stroke="#3a3a3a" stroke-width="0.65" />
<line x1="348.89" y1="226.37" x2="348.89" y2="233.6" stroke="#3a3a3a" stroke-width="0.65" />
<line x1="348.89" y1="216.33" x2="353.45" y2="216.33" stroke="#6a6a6a" stroke-width="0.6" />
<line x1="348.89" y1="216.33" x2="348.89" y2="233.6" stroke="#3a3a3a" stroke-width="0.65" />
<line x1="353.45" y1="216.33" x2="353.45" y2="233.6" stroke="#3a3a3a" stroke-width="0.65" />
<line x1="353.45" y1="227.23" x2="358" y2="227.23" stroke="#6a6a6a" stroke-width="0.6" />
<line x1="353.45" y1="227.23" x2="353.45" y2="233.6" stroke="#3a3a3a" stroke-width="0.65" />
<line x1="358" y1="227.23" x2="358" y2="233.6" stroke="#3a3a3a" stroke-width="0.65" />
<line x1="358" y1="215.22" x2="362.56" y2="215.22" stroke="#6a6a6a" stroke-width="0.6" />
<line x1="358" y1="215.22" x2="358" y2="233.6" stroke="#3a3a3a" stroke-width="0.65" />
<line x1="362.56" y1="215.22" x2="362.56" y2="233.6" stroke="#3a3a3a" stroke-width="0.65" />
<line x1="362.56" y1="214.49" x2="367.11" y2="214.49" stroke="#6a6a6a" stroke-width="0.6" />
<line x1="362.56" y1="214.49" x2="362.56" y2="233.6" stroke="#3a3a3a" stroke-width="0.65" />
<line x1="367.11" y1="214.49" x2="367.11" y2="233.6" stroke="#3a3a3a" stroke-width="0.65" />
<line x1="367.11" y1="227.47" x2="371.66" y2="227.47" stroke="#6a6a6a" stroke-width="0.6" />
<line x1="367.11" y1="227.47" x2="367.11" y2="233.6" stroke="#3a3a3a" stroke-width="0.65" />
<line x1="371.66" y1="227.47" x2="371.66" y2="233.6" stroke="#3a3a3a" stroke-width="0.65" />
<line x1="371.66" y1="223.8" x2="376.22" y2="223.8" stroke="#6a6a6a" stroke-width="0.6" />
<line x1="371.66" y1="223.8" x2="371.66" y2="233.6" stroke="#3a3a3a" stroke-width="0.65" />
<line x1="376.22" y1="223.8" x2="376.22" y2="233.6" stroke="#3a3a3a" stroke-width="0.65" />
<line x1="376.22" y1="216.69" x2="380.77" y2="216.69" stroke="#6a6a6a" stroke-width="0.6" />
<line x1="376.22" y1="216.69" x2="376.22" y2="233.6" stroke="#3a3a3a" stroke-width="0.65" />
<line x1="380.77" y1="216.69" x2="380.77" y2="233.6" stroke="#3a3a3a" stroke-width="0.65" />
<line x1="380.77" y1="227.23" x2="385.33" y2="227.23" stroke="#6a6a6a" stroke-width="0.6" />
<line x1="380.77" y1="227.23" x2="380.77" y2="233.6" stroke="#3a3a3a" stroke-width="0.65" />
<line x1="385.33" y1="227.23" x2="385.33" y2="233.6" stroke="#3a3a3a" stroke-width="0.65" />
<line x1="385.33" y1="220.37" x2="389.88" y2="220.37" stroke="#6a6a6a" stroke-width="0.6" />
<line x1="385.33" y1="220.37" x2="385.33" y2="233.6" stroke="#3a3a3a" stroke-width="0.65" />
<line x1="389.88" y1="220.37" x2="389.88" y2="233.6" stroke="#3a3a3a" stroke-width="0.65" />
<line x1="389.88" y1="209.1" x2="394.43" y2="209.1" stroke="#6a6a6a" stroke-width="0.6" />
<line x1="389.88" y1="209.1" x2="389.88" y2="233.6" stroke="#3a3a3a" stroke-width="0.65" />
<line x1="394.43" y1="209.1" x2="394.43" y2="233.6" stroke="#3a3a3a" stroke-width="0.65" />
<line x1="394.43" y1="226.74" x2="398.99" y2="226.74" stroke="#6a6a6a" stroke-width="0.6" />
<line x1="394.43" y1="226.74" x2="394.43" y2="233.6" stroke="#3a3a3a" stroke-width="0.65" />
<line x1="398.99" y1="226.74" x2="398.99" y2="233.6" stroke="#3a3a3a" stroke-width="0.65" />
<line x1="398.99" y1="220.12" x2="403.54" y2="220.12" stroke="#6a6a6a" stroke-width="0.6" />
<line x1="398.99" y1="220.12" x2="398.99" y2="233.6" stroke="#3a3a3a" stroke-width="0.65" />
<line x1="403.54" y1="220.12" x2="403.54" y2="233.6" stroke="#3a3a3a" stroke-width="0.65" />
<line x1="403.54" y1="223.31" x2="408.1" y2="223.31" stroke="#6a6a6a" stroke-width="0.6" />
<line x1="403.54" y1="223.31" x2="403.54" y2="233.6" stroke="#3a3a3a" stroke-width="0.65" />
<line x1="408.1" y1="223.31" x2="408.1" y2="233.6" stroke="#3a3a3a" stroke-width="0.65" />
<line x1="408.1" y1="226.37" x2="412.65" y2="226.37" stroke="#6a6a6a" stroke-width="0.6" />
<line x1="408.1" y1="226.37" x2="408.1" y2="233.6" stroke="#3a3a3a" stroke-width="0.65" />
<line x1="412.65" y1="226.37" x2="412.65" y2="233.6" stroke="#3a3a3a" stroke-width="0.65" />
<line x1="412.65" y1="220.37" x2="417.2" y2="220.37" stroke="#6a6a6a" stroke-width="0.6" />
<line x1="412.65" y1="220.37" x2="412.65" y2="233.6" stroke="#3a3a3a" stroke-width="0.65" />
<line x1="417.2" y1="220.37" x2="417.2" y2="233.6" stroke="#3a3a3a" stroke-width="0.65" />
<line x1="417.2" y1="223.31" x2="421.76" y2="223.31" stroke="#6a6a6a" stroke-width="0.6" />
<line x1="417.2" y1="223.31" x2="417.2" y2="233.6" stroke="#3a3a3a" stroke-width="0.65" />
<line x1="421.76" y1="223.31" x2="421.76" y2="233.6" stroke="#3a3a3a" stroke-width="0.65" />
<line x1="421.76" y1="224.41" x2="426.31" y2="224.41" stroke="#6a6a6a" stroke-width="0.6" />
<line x1="421.76" y1="224.41" x2="421.76" y2="233.6" stroke="#3a3a3a" stroke-width="0.65" />
<line x1="426.31" y1="224.41" x2="426.31" y2="233.6" stroke="#3a3a3a" stroke-width="0.65" />
<line x1="426.31" y1="220.37" x2="430.87" y2="220.37" stroke="#6a6a6a" stroke-width="0.6" />
<line x1="426.31" y1="220.37" x2="426.31" y2="233.6" stroke="#3a3a3a" stroke-width="0.65" />
<line x1="430.87" y1="220.37" x2="430.87" y2="233.6" stroke="#3a3a3a" stroke-width="0.65" />
<line x1="430.87" y1="216.45" x2="435.42" y2="216.45" stroke="#6a6a6a" stroke-width="0.6" />
<line x1="430.87" y1="216.45" x2="430.87" y2="233.6" stroke="#3a3a3a" stroke-width="0.65" />
<line x1="435.42" y1="216.45" x2="435.42" y2="233.6" stroke="#3a3a3a" stroke-width="0.65" />
<line x1="435.42" y1="213.51" x2="439.97" y2="213.51" stroke="#6a6a6a" stroke-width="0.6" />
<line x1="435.42" y1="213.51" x2="435.42" y2="233.6" stroke="#3a3a3a" stroke-width="0.65" />
<line x1="439.97" y1="213.51" x2="439.97" y2="233.6" stroke="#3a3a3a" stroke-width="0.65" />
<line x1="439.97" y1="225.27" x2="444.53" y2="225.27" stroke="#6a6a6a" stroke-width="0.6" />
<line x1="439.97" y1="225.27" x2="439.97" y2="233.6" stroke="#3a3a3a" stroke-width="0.65" />
<line x1="444.53" y1="225.27" x2="444.53" y2="233.6" stroke="#3a3a3a" stroke-width="0.65" />
<line x1="444.53" y1="209.59" x2="449.08" y2="209.59" stroke="#6a6a6a" stroke-width="0.6" />
<line x1="444.53" y1="209.59" x2="444.53" y2="233.6" stroke="#3a3a3a" stroke-width="0.65" />
<line x1="449.08" y1="209.59" x2="449.08" y2="233.6" stroke="#3a3a3a" stroke-width="0.65" />
<line x1="449.08" y1="211.31" x2="453.64" y2="211.31" stroke="#6a6a6a" stroke-width="0.6" />
<line x1="449.08" y1="211.31" x2="449.08" y2="233.6" stroke="#3a3a3a" stroke-width="0.65" />
<line x1="453.64" y1="211.31" x2="453.64" y2="233.6" stroke="#3a3a3a" stroke-width="0.65" />
<line x1="453.64" y1="212.28" x2="458.19" y2="212.28" stroke="#6a6a6a" stroke-width="0.6" />
<line x1="453.64" y1="212.28" x2="453.64" y2="233.6" stroke="#3a3a3a" stroke-width="0.65" />
<line x1="458.19" y1="212.28" x2="458.19" y2="233.6" stroke="#3a3a3a" stroke-width="0.65" />
<line x1="458.19" y1="213.75" x2="462.74" y2="213.75" stroke="#6a6a6a" stroke-width="0.6" />
<line x1="458.19" y1="213.75" x2="458.19" y2="233.6" stroke="#3a3a3a" stroke-width="0.65" />
<line x1="462.74" y1="213.75" x2="462.74" y2="233.6" stroke="#3a3a3a" stroke-width="0.65" />
<line x1="462.74" y1="214.25" x2="467.3" y2="214.25" stroke="#6a6a6a" stroke-width="0.6" />
<line x1="462.74" y1="214.25" x2="462.74" y2="233.6" stroke="#3a3a3a" stroke-width="0.65" />
<line x1="467.3" y1="214.25" x2="467.3" y2="233.6" stroke="#3a3a3a" stroke-width="0.65" />
<line x1="467.3" y1="225.27" x2="471.85" y2="225.27" stroke="#6a6a6a" stroke-width="0.6" />
<line x1="467.3" y1="225.27" x2="467.3" y2="233.6" stroke="#3a3a3a" stroke-width="0.65" />
<line x1="471.85" y1="225.27" x2="471.85" y2="233.6" stroke="#3a3a3a" stroke-width="0.65" />
<line x1="471.85" y1="223.31" x2="476.41" y2="223.31" stroke="#6a6a6a" stroke-width="0.6" />
<line x1="471.85" y1="223.31" x2="471.85" y2="233.6" stroke="#3a3a3a" stroke-width="0.65" />
<line x1="476.41" y1="223.31" x2="476.41" y2="233.6" stroke="#3a3a3a" stroke-width="0.65" />
<line x1="476.41" y1="221.84" x2="480.96" y2="221.84" stroke="#6a6a6a" stroke-width="0.6" />
<line x1="476.41" y1="221.84" x2="476.41" y2="233.6" stroke="#3a3a3a" stroke-width="0.65" />
<line x1="480.96" y1="221.84" x2="480.96" y2="233.6" stroke="#3a3a3a" stroke-width="0.65" />
<line x1="480.96" y1="220.37" x2="485.51" y2="220.37" stroke="#6a6a6a" stroke-width="0.6" />
<line x1="480.96" y1="220.37" x2="480.96" y2="233.6" stroke="#3a3a3a" stroke-width="0.65" />
<line x1="485.51" y1="220.37" x2="485.51" y2="233.6" stroke="#3a3a3a" stroke-width="0.65" />
<line x1="485.51" y1="225.76" x2="490.07" y2="225.76" stroke="#6a6a6a" stroke-width="0.6" />
<line x1="485.51" y1="225.76" x2="485.51" y2="233.6" stroke="#3a3a3a" stroke-width="0.65" />
<line x1="490.07" y1="225.76" x2="490.07" y2="233.6" stroke="#3a3a3a" stroke-width="0.65" />
<line x1="490.07" y1="222.33" x2="494.62" y2="222.33" stroke="#6a6a6a" stroke-width="0.6" />
<line x1="490.07" y1="222.33" x2="490.07" y2="233.6" stroke="#3a3a3a" stroke-width="0.65" />
<line x1="494.62" y1="222.33" x2="494.62" y2="233.6" stroke="#3a3a3a" stroke-width="0.65" />
<line x1="494.62" y1="210.08" x2="499.18" y2="210.08" stroke="#6a6a6a" stroke-width="0.6" />
<line x1="494.62" y1="210.08" x2="494.62" y2="233.6" stroke="#3a3a3a" stroke-width="0.65" />
<line x1="499.18" y1="210.08" x2="499.18" y2="233.6" stroke="#3a3a3a" stroke-width="0.65" />
<line x1="499.18" y1="214.98" x2="503.73" y2="214.98" stroke="#6a6a6a" stroke-width="0.6" />
<line x1="499.18" y1="214.98" x2="499.18" y2="233.6" stroke="#3a3a3a" stroke-width="0.65" />
<line x1="503.73" y1="214.98" x2="503.73" y2="233.6" stroke="#3a3a3a" stroke-width="0.65" />
<line x1="503.73" y1="218.16" x2="508.28" y2="218.16" stroke="#6a6a6a" stroke-width="0.6" />
<line x1="503.73" y1="218.16" x2="503.73" y2="233.6" stroke="#3a3a3a" stroke-width="0.65" />
<line x1="508.28" y1="218.16" x2="508.28" y2="233.6" stroke="#3a3a3a" stroke-width="0.65" />
<line x1="508.28" y1="214.25" x2="512.84" y2="214.25" stroke="#6a6a6a" stroke-width="0.6" />
<line x1="508.28" y1="214.25" x2="508.28" y2="233.6" stroke="#3a3a3a" stroke-width="0.65" />
<line x1="512.84" y1="214.25" x2="512.84" y2="233.6" stroke="#3a3a3a" stroke-width="0.65" />
<line x1="512.84" y1="218.41" x2="517.39" y2="218.41" stroke="#6a6a6a" stroke-width="0.6" />
<line x1="512.84" y1="218.41" x2="512.84" y2="233.6" stroke="#3a3a3a" stroke-width="0.65" />
<line x1="517.39" y1="218.41" x2="517.39" y2="233.6" stroke="#3a3a3a" stroke-width="0.65" />
<line x1="517.39" y1="218.41" x2="521.95" y2="218.41" stroke="#6a6a6a" stroke-width="0.6" />
<line x1="517.39" y1="218.41" x2="517.39" y2="233.6" stroke="#3a3a3a" stroke-width="0.65" />
<line x1="521.95" y1="218.41" x2="521.95" y2="233.6" stroke="#3a3a3a" stroke-width="0.65" />
<line x1="521.95" y1="220.37" x2="526.5" y2="220.37" stroke="#6a6a6a" stroke-width="0.6" />
<line x1="521.95" y1="220.37" x2="521.95" y2="233.6" stroke="#3a3a3a" stroke-width="0.65" />
<line x1="526.5" y1="220.37" x2="526.5" y2="233.6" stroke="#3a3a3a" stroke-width="0.65" />
<line x1="526.5" y1="221.1" x2="531.05" y2="221.1" stroke="#6a6a6a" stroke-width="0.6" />
<line x1="526.5" y1="221.1" x2="526.5" y2="233.6" stroke="#3a3a3a" stroke-width="0.65" />
<line x1="531.05" y1="221.1" x2="531.05" y2="233.6" stroke="#3a3a3a" stroke-width="0.65" />
<line x1="531.05" y1="221.84" x2="535.61" y2="221.84" stroke="#6a6a6a" stroke-width="0.6" />
<line x1="531.05" y1="221.84" x2="531.05" y2="233.6" stroke="#3a3a3a" stroke-width="0.65" />
<line x1="535.61" y1="221.84" x2="535.61" y2="233.6" stroke="#3a3a3a" stroke-width="0.65" />
<line x1="535.61" y1="218.16" x2="540.16" y2="218.16" stroke="#6a6a6a" stroke-width="0.6" />
<line x1="535.61" y1="218.16" x2="535.61" y2="233.6" stroke="#3a3a3a" stroke-width="0.65" />
<line x1="540.16" y1="218.16" x2="540.16" y2="233.6" stroke="#3a3a3a" stroke-width="0.65" />
<line x1="184.4" y1="203" x2="184.4" y2="234" stroke="#231f20" stroke-width="0.9" />
<line x1="184.4" y1="234" x2="541" y2="234" stroke="#231f20" stroke-width="0.9" />
<line x1="182.2" y1="227.47" x2="184.4" y2="227.47" stroke="#231f20" stroke-width="0.6" />
<text x="181.2" y="229.78" font-size="6.68" text-anchor="end" font-weight="normal" fill="#231f20" >25</text>
<line x1="182.2" y1="221.35" x2="184.4" y2="221.35" stroke="#231f20" stroke-width="0.6" />
<text x="181.2" y="223.65" font-size="6.68" text-anchor="end" font-weight="normal" fill="#231f20" >50</text>
<line x1="182.2" y1="215.22" x2="184.4" y2="215.22" stroke="#231f20" stroke-width="0.6" />
<text x="181.2" y="217.53" font-size="6.68" text-anchor="end" font-weight="normal" fill="#231f20" >75</text>
<line x1="182.2" y1="209.1" x2="184.4" y2="209.1" stroke="#231f20" stroke-width="0.6" />
<text x="181.2" y="211.4" font-size="6.68" text-anchor="end" font-weight="normal" fill="#231f20" >100</text>
<text x="156.6" y="221.9" font-size="6.68" text-anchor="middle" font-weight="normal" fill="#231f20" transform="rotate(-90 156.6 221.9)" >HSC</text>
<text x="165.2" y="222.4" font-size="6.68" text-anchor="middle" font-weight="normal" fill="#231f20" transform="rotate(-90 165.2 222.4)" >clone size</text>
<text x="350.5" y="246.8" font-size="6.68" text-anchor="middle" font-weight="normal" fill="#231f20" >78 HSC clonal groups</text>
<circle cx="612.68" cy="14.39" r="1.3" fill="#3a72a8" stroke="#27527e" stroke-width="0.35"/>
<circle cx="658.86" cy="16.15" r="1.3" fill="#3a72a8" stroke="#27527e" stroke-width="0.35"/>
<circle cx="598.4" cy="22.22" r="1.3" fill="#3a72a8" stroke="#27527e" stroke-width="0.35"/>
<circle cx="667.67" cy="21.24" r="1.3" fill="#3a72a8" stroke="#27527e" stroke-width="0.35"/>
<circle cx="621.49" cy="27.31" r="1.3" fill="#3a72a8" stroke="#27527e" stroke-width="0.35"/>
<circle cx="641.84" cy="33.18" r="1.3" fill="#3a72a8" stroke="#27527e" stroke-width="0.35"/>
<circle cx="646.34" cy="33.96" r="1.3" fill="#3a72a8" stroke="#27527e" stroke-width="0.35"/>
<circle cx="643.01" cy="36.31" r="1.3" fill="#3a72a8" stroke="#27527e" stroke-width="0.35"/>
<circle cx="670.22" cy="35.14" r="1.3" fill="#3a72a8" stroke="#27527e" stroke-width="0.35"/>
<circle cx="610.92" cy="38.27" r="1.3" fill="#3a72a8" stroke="#27527e" stroke-width="0.35"/>
<circle cx="624.23" cy="37.49" r="1.3" fill="#3a72a8" stroke="#27527e" stroke-width="0.35"/>
<circle cx="615.42" cy="42.18" r="1.3" fill="#3a72a8" stroke="#27527e" stroke-width="0.35"/>
<circle cx="655.54" cy="41.99" r="1.3" fill="#3a72a8" stroke="#27527e" stroke-width="0.35"/>
<circle cx="666.11" cy="42.18" r="1.3" fill="#3a72a8" stroke="#27527e" stroke-width="0.35"/>
<circle cx="611.31" cy="45.7" r="1.3" fill="#3a72a8" stroke="#27527e" stroke-width="0.35"/>
<circle cx="664.15" cy="45.9" r="1.3" fill="#3a72a8" stroke="#27527e" stroke-width="0.35"/>
<circle cx="669.43" cy="45.12" r="1.3" fill="#3a72a8" stroke="#27527e" stroke-width="0.35"/>
<circle cx="636.16" cy="49.42" r="1.3" fill="#3a72a8" stroke="#27527e" stroke-width="0.35"/>
<circle cx="634.4" cy="51.97" r="1.3" fill="#3a72a8" stroke="#27527e" stroke-width="0.35"/>
<circle cx="642.04" cy="50.01" r="1.3" fill="#3a72a8" stroke="#27527e" stroke-width="0.35"/>
<circle cx="646.93" cy="54.12" r="1.3" fill="#3a72a8" stroke="#27527e" stroke-width="0.35"/>
<circle cx="642.82" cy="54.32" r="1.3" fill="#3a72a8" stroke="#27527e" stroke-width="0.35"/>
<circle cx="636.16" cy="56.27" r="1.3" fill="#3a72a8" stroke="#27527e" stroke-width="0.35"/>
<circle cx="635.38" cy="58.23" r="1.3" fill="#3a72a8" stroke="#27527e" stroke-width="0.35"/>
<circle cx="645.75" cy="56.66" r="1.3" fill="#3a72a8" stroke="#27527e" stroke-width="0.35"/>
<circle cx="642.04" cy="60.19" r="1.3" fill="#3a72a8" stroke="#27527e" stroke-width="0.35"/>
<circle cx="627.16" cy="54.51" r="1.3" fill="#3a72a8" stroke="#27527e" stroke-width="0.35"/>
<circle cx="621.1" cy="57.05" r="1.3" fill="#3a72a8" stroke="#27527e" stroke-width="0.35"/>
<circle cx="617.96" cy="59.4" r="1.3" fill="#3a72a8" stroke="#27527e" stroke-width="0.35"/>
<circle cx="597.81" cy="61.75" r="1.3" fill="#3a72a8" stroke="#27527e" stroke-width="0.35"/>
<circle cx="613.27" cy="63.51" r="1.3" fill="#3a72a8" stroke="#27527e" stroke-width="0.35"/>
<circle cx="612.49" cy="64.88" r="1.3" fill="#3a72a8" stroke="#27527e" stroke-width="0.35"/>
<circle cx="623.25" cy="64.3" r="1.3" fill="#3a72a8" stroke="#27527e" stroke-width="0.35"/>
<circle cx="608.38" cy="66.64" r="1.3" fill="#3a72a8" stroke="#27527e" stroke-width="0.35"/>
<circle cx="618.75" cy="67.23" r="1.3" fill="#3a72a8" stroke="#27527e" stroke-width="0.35"/>
<circle cx="610.92" cy="68.8" r="1.3" fill="#3a72a8" stroke="#27527e" stroke-width="0.35"/>
<circle cx="626.58" cy="68.41" r="1.3" fill="#3a72a8" stroke="#27527e" stroke-width="0.35"/>
<circle cx="625.4" cy="71.14" r="1.3" fill="#3a72a8" stroke="#27527e" stroke-width="0.35"/>
<circle cx="630.68" cy="71.93" r="1.3" fill="#3a72a8" stroke="#27527e" stroke-width="0.35"/>
<circle cx="632.45" cy="72.91" r="1.3" fill="#3a72a8" stroke="#27527e" stroke-width="0.35"/>
<circle cx="606.81" cy="71.73" r="1.3" fill="#3a72a8" stroke="#27527e" stroke-width="0.35"/>
<circle cx="608.18" cy="73.3" r="1.3" fill="#3a72a8" stroke="#27527e" stroke-width="0.35"/>
<circle cx="609.35" cy="73.88" r="1.3" fill="#3a72a8" stroke="#27527e" stroke-width="0.35"/>
<circle cx="613.66" cy="73.1" r="1.3" fill="#3a72a8" stroke="#27527e" stroke-width="0.35"/>
<circle cx="626.18" cy="72.71" r="1.3" fill="#3a72a8" stroke="#27527e" stroke-width="0.35"/>
<circle cx="622.66" cy="74.47" r="1.3" fill="#3a72a8" stroke="#27527e" stroke-width="0.35"/>
<circle cx="602.7" cy="76.04" r="1.3" fill="#3a72a8" stroke="#27527e" stroke-width="0.35"/>
<circle cx="604.46" cy="76.62" r="1.3" fill="#3a72a8" stroke="#27527e" stroke-width="0.35"/>
<circle cx="609.94" cy="75.25" r="1.3" fill="#3a72a8" stroke="#27527e" stroke-width="0.35"/>
<circle cx="611.9" cy="76.04" r="1.3" fill="#3a72a8" stroke="#27527e" stroke-width="0.35"/>
<circle cx="619.73" cy="76.62" r="1.3" fill="#3a72a8" stroke="#27527e" stroke-width="0.35"/>
<circle cx="626.38" cy="77.41" r="1.3" fill="#3a72a8" stroke="#27527e" stroke-width="0.35"/>
<circle cx="629.32" cy="80.15" r="1.3" fill="#3a72a8" stroke="#27527e" stroke-width="0.35"/>
<circle cx="614.44" cy="77.02" r="1.3" fill="#3a72a8" stroke="#27527e" stroke-width="0.35"/>
<circle cx="611.31" cy="79.36" r="1.3" fill="#3a72a8" stroke="#27527e" stroke-width="0.35"/>
<circle cx="609.35" cy="80.73" r="1.3" fill="#3a72a8" stroke="#27527e" stroke-width="0.35"/>
<circle cx="612.29" cy="80.54" r="1.3" fill="#3a72a8" stroke="#27527e" stroke-width="0.35"/>
<circle cx="607.98" cy="81.91" r="1.3" fill="#3a72a8" stroke="#27527e" stroke-width="0.35"/>
<circle cx="612.88" cy="83.28" r="1.3" fill="#3a72a8" stroke="#27527e" stroke-width="0.35"/>
<circle cx="606.81" cy="83.86" r="1.3" fill="#3a72a8" stroke="#27527e" stroke-width="0.35"/>
<circle cx="603.29" cy="84.26" r="1.3" fill="#3a72a8" stroke="#27527e" stroke-width="0.35"/>
<circle cx="594.87" cy="81.52" r="1.3" fill="#3a72a8" stroke="#27527e" stroke-width="0.35"/>
<circle cx="596.44" cy="82.69" r="1.3" fill="#3a72a8" stroke="#27527e" stroke-width="0.35"/>
<circle cx="597.61" cy="83.28" r="1.3" fill="#3a72a8" stroke="#27527e" stroke-width="0.35"/>
<circle cx="595.07" cy="86.8" r="1.3" fill="#3a72a8" stroke="#27527e" stroke-width="0.35"/>
<circle cx="597.03" cy="87.19" r="1.3" fill="#3a72a8" stroke="#27527e" stroke-width="0.35"/>
<circle cx="594.09" cy="89.54" r="1.3" fill="#3a72a8" stroke="#27527e" stroke-width="0.35"/>
<circle cx="600.16" cy="90.71" r="1.3" fill="#3a72a8" stroke="#27527e" stroke-width="0.35"/>
<circle cx="603.48" cy="87.97" r="1.3" fill="#3a72a8" stroke="#27527e" stroke-width="0.35"/>
<circle cx="602.11" cy="88.76" r="1.3" fill="#3a72a8" stroke="#27527e" stroke-width="0.35"/>
<circle cx="592.33" cy="92.08" r="1.3" fill="#3a72a8" stroke="#27527e" stroke-width="0.35"/>
<circle cx="593.31" cy="93.06" r="1.3" fill="#3a72a8" stroke="#27527e" stroke-width="0.35"/>
<circle cx="598.59" cy="93.45" r="1.3" fill="#3a72a8" stroke="#27527e" stroke-width="0.35"/>
<circle cx="587.24" cy="93.45" r="1.3" fill="#3a72a8" stroke="#27527e" stroke-width="0.35"/>
<circle cx="592.72" cy="95.61" r="1.3" fill="#3a72a8" stroke="#27527e" stroke-width="0.35"/>
<circle cx="600.74" cy="95.41" r="1.3" fill="#3a72a8" stroke="#27527e" stroke-width="0.35"/>
<circle cx="605.44" cy="95.41" r="1.3" fill="#3a72a8" stroke="#27527e" stroke-width="0.35"/>
<circle cx="616.79" cy="91.11" r="1.3" fill="#3a72a8" stroke="#27527e" stroke-width="0.35"/>
<circle cx="585.87" cy="99.32" r="1.3" fill="#3a72a8" stroke="#27527e" stroke-width="0.35"/>
<circle cx="595.66" cy="90.91" r="1.3" fill="#3a72a8" stroke="#27527e" stroke-width="0.35"/>
<line x1="581.8" y1="10.5" x2="581.8" y2="103" stroke="#231f20" stroke-width="0.8" />
<line x1="581.4" y1="102.7" x2="675" y2="102.7" stroke="#231f20" stroke-width="0.8" />
<line x1="579.6" y1="16.5" x2="581.8" y2="16.5" stroke="#231f20" stroke-width="0.6" />
<text x="578.3" y="18.8" font-size="6.68" text-anchor="end" font-weight="normal" fill="#231f20" >20</text>
<line x1="579.6" y1="40.7" x2="581.8" y2="40.7" stroke="#231f20" stroke-width="0.6" />
<text x="578.3" y="43" font-size="6.68" text-anchor="end" font-weight="normal" fill="#231f20" >15</text>
<line x1="579.6" y1="64.8" x2="581.8" y2="64.8" stroke="#231f20" stroke-width="0.6" />
<text x="578.3" y="67.1" font-size="6.68" text-anchor="end" font-weight="normal" fill="#231f20" >10</text>
<line x1="579.6" y1="89" x2="581.8" y2="89" stroke="#231f20" stroke-width="0.6" />
<text x="578.3" y="91.3" font-size="6.68" text-anchor="end" font-weight="normal" fill="#231f20" >5</text>
<line x1="601.5" y1="102.7" x2="601.5" y2="104.9" stroke="#231f20" stroke-width="0.6" />
<text x="601.5" y="111" font-size="6.68" text-anchor="middle" font-weight="normal" fill="#231f20" >5</text>
<line x1="625.6" y1="102.7" x2="625.6" y2="104.9" stroke="#231f20" stroke-width="0.6" />
<text x="625.6" y="111" font-size="6.68" text-anchor="middle" font-weight="normal" fill="#231f20" >10</text>
<line x1="649.8" y1="102.7" x2="649.8" y2="104.9" stroke="#231f20" stroke-width="0.6" />
<text x="649.8" y="111" font-size="6.68" text-anchor="middle" font-weight="normal" fill="#231f20" >15</text>
<line x1="674" y1="102.7" x2="674" y2="104.9" stroke="#231f20" stroke-width="0.6" />
<text x="674" y="111" font-size="6.68" text-anchor="middle" font-weight="normal" fill="#231f20" >20</text>
<text x="553" y="8.8" font-size="10.5" text-anchor="start" font-weight="bold" fill="#231f20" >c</text>
<text x="642.5" y="100.6" font-size="6.68" text-anchor="middle" font-weight="normal" fill="#231f20" >Pearson’s <tspan font-style="italic">r</tspan> = 0.69</text>
<text x="632" y="120.2" font-size="6.68" text-anchor="middle" font-weight="normal" fill="#231f20" >Clonal output at T1</text>
<text x="564.8" y="59" font-size="6.68" text-anchor="middle" font-weight="normal" fill="#231f20" transform="rotate(-90 564.8 59)" >Clonal output at T2</text>
<text x="553" y="121.6" font-size="10.5" text-anchor="start" font-weight="bold" fill="#231f20" >d</text>
<line x1="581.7" y1="128" x2="581.7" y2="223.7" stroke="#231f20" stroke-width="0.85" />
<line x1="581.3" y1="223.3" x2="674" y2="223.3" stroke="#231f20" stroke-width="0.85" />
<line x1="579.8" y1="221.4" x2="581.7" y2="221.4" stroke="#231f20" stroke-width="0.6" />
<text x="578.5" y="223.7" font-size="6.68" text-anchor="end" font-weight="normal" fill="#231f20" >0</text>
<line x1="584.8" y1="223.3" x2="584.8" y2="225.4" stroke="#231f20" stroke-width="0.6" />
<text x="584.8" y="231.7" font-size="6.68" text-anchor="middle" font-weight="normal" fill="#231f20" >0</text>
<line x1="579.8" y1="198.35" x2="581.7" y2="198.35" stroke="#231f20" stroke-width="0.6" />
<text x="578.5" y="200.65" font-size="6.68" text-anchor="end" font-weight="normal" fill="#231f20" >25</text>
<line x1="606.5" y1="223.3" x2="606.5" y2="225.4" stroke="#231f20" stroke-width="0.6" />
<text x="606.5" y="231.7" font-size="6.68" text-anchor="middle" font-weight="normal" fill="#231f20" >25</text>
<line x1="579.8" y1="175.3" x2="581.7" y2="175.3" stroke="#231f20" stroke-width="0.6" />
<text x="578.5" y="177.6" font-size="6.68" text-anchor="end" font-weight="normal" fill="#231f20" >50</text>
<line x1="628.2" y1="223.3" x2="628.2" y2="225.4" stroke="#231f20" stroke-width="0.6" />
<text x="628.2" y="231.7" font-size="6.68" text-anchor="middle" font-weight="normal" fill="#231f20" >50</text>
<line x1="579.8" y1="152.25" x2="581.7" y2="152.25" stroke="#231f20" stroke-width="0.6" />
<text x="578.5" y="154.55" font-size="6.68" text-anchor="end" font-weight="normal" fill="#231f20" >75</text>
<line x1="649.9" y1="223.3" x2="649.9" y2="225.4" stroke="#231f20" stroke-width="0.6" />
<text x="649.9" y="231.7" font-size="6.68" text-anchor="middle" font-weight="normal" fill="#231f20" >75</text>
<line x1="579.8" y1="129.2" x2="581.7" y2="129.2" stroke="#231f20" stroke-width="0.6" />
<text x="578.5" y="131.5" font-size="6.68" text-anchor="end" font-weight="normal" fill="#231f20" >100</text>
<line x1="671.6" y1="223.3" x2="671.6" y2="225.4" stroke="#231f20" stroke-width="0.6" />
<text x="671.6" y="231.7" font-size="6.68" text-anchor="middle" font-weight="normal" fill="#231f20" >100</text>
<line x1="584.8" y1="221.4" x2="671.6" y2="129.2" stroke="#000" stroke-width="1" stroke-dasharray="1.8 1.3"/>
<path d="M585.91 219.52 L586.77 218.07 L587.63 216.65 L588.48 215.24 L589.34 213.84 L590.2 212.46 L591.05 211.09 L591.91 209.74 L592.77 208.4 L593.62 207.07 L594.48 205.76 L595.34 204.46 L596.2 203.17 L597.05 201.9 L597.91 200.63 L598.77 199.38 L599.62 198.15 L600.48 196.92 L601.34 195.71 L602.19 194.51 L603.05 193.32 L603.91 192.14 L604.76 190.98 L605.62 189.82 L606.48 188.68 L607.33 187.55 L608.19 186.43 L609.05 185.32 L609.91 184.22 L610.76 183.13 L611.62 182.05 L612.48 180.99 L613.33 179.93 L614.19 178.89 L615.05 177.85 L615.9 176.83 L616.76 175.81 L617.62 174.81 L618.47 173.81 L619.33 172.83 L620.19 171.85 L621.04 170.89 L621.9 169.93 L622.76 168.98 L623.62 168.05 L624.47 167.12 L625.33 166.2 L626.19 165.29 L627.04 164.39 L627.9 163.5 L628.76 162.62 L629.61 161.75 L630.47 160.88 L631.33 160.03 L632.18 159.18 L633.04 158.34 L633.9 157.52 L634.75 156.7 L635.61 155.88 L636.47 155.08 L637.33 154.29 L638.18 153.5 L639.04 152.72 L639.9 151.95 L640.75 151.19 L641.61 150.44 L642.47 149.69 L643.32 148.96 L644.18 148.23 L645.04 147.51 L645.89 146.8 L646.75 146.09 L647.61 145.4 L648.46 144.71 L649.32 144.03 L650.18 143.36 L651.04 142.7 L651.89 142.04 L652.75 141.39 L653.61 140.75 L654.46 140.12 L655.32 139.5 L656.18 138.88 L657.03 138.28 L657.89 137.68 L658.75 137.09 L659.6 136.5 L660.46 135.93 L661.32 135.36 L662.17 134.8 L663.03 134.25 L663.89 133.71 L664.75 133.18 L665.6 132.65 L666.46 132.13 L667.32 131.62 L668.17 131.12 L669.03 130.63 L669.89 130.15 L670.74 129.67 L671.6 129.2" fill="none" stroke="#b5df9a" stroke-width="1.6"/>
<path d="M585.91 219.01 L586.77 217.18 L587.63 215.38 L588.48 213.61 L589.34 211.87 L590.2 210.15 L591.05 208.46 L591.91 206.79 L592.77 205.15 L593.62 203.53 L594.48 201.94 L595.34 200.37 L596.2 198.82 L597.05 197.3 L597.91 195.8 L598.77 194.33 L599.62 192.88 L600.48 191.45 L601.34 190.05 L602.19 188.66 L603.05 187.3 L603.91 185.97 L604.76 184.65 L605.62 183.36 L606.48 182.08 L607.33 180.83 L608.19 179.6 L609.05 178.4 L609.91 177.21 L610.76 176.04 L611.62 174.89 L612.48 173.76 L613.33 172.65 L614.19 171.57 L615.05 170.5 L615.9 169.45 L616.76 168.41 L617.62 167.4 L618.47 166.41 L619.33 165.43 L620.19 164.47 L621.04 163.53 L621.9 162.6 L622.76 161.7 L623.62 160.81 L624.47 159.93 L625.33 159.07 L626.19 158.23 L627.04 157.41 L627.9 156.59 L628.76 155.8 L629.61 155.02 L630.47 154.25 L631.33 153.5 L632.18 152.76 L633.04 152.04 L633.9 151.33 L634.75 150.63 L635.61 149.95 L636.47 149.28 L637.33 148.62 L638.18 147.98 L639.04 147.34 L639.9 146.72 L640.75 146.11 L641.61 145.51 L642.47 144.92 L643.32 144.34 L644.18 143.77 L645.04 143.22 L645.89 142.67 L646.75 142.13 L647.61 141.6 L648.46 141.08 L649.32 140.57 L650.18 140.06 L651.04 139.56 L651.89 139.08 L652.75 138.59 L653.61 138.12 L654.46 137.65 L655.32 137.19 L656.18 136.73 L657.03 136.28 L657.89 135.84 L658.75 135.4 L659.6 134.96 L660.46 134.53 L661.32 134.11 L662.17 133.69 L663.03 133.27 L663.89 132.85 L664.75 132.44 L665.6 132.03 L666.46 131.62 L667.32 131.21 L668.17 130.81 L669.03 130.41 L669.89 130 L670.74 129.6 L671.6 129.2" fill="none" stroke="#4cb8d5" stroke-width="1.8"/>
<path d="M585.91 218.86 L586.77 216.93 L587.63 215.03 L588.48 213.17 L589.34 211.34 L590.2 209.54 L591.05 207.77 L591.91 206.04 L592.77 204.33 L593.62 202.65 L594.48 201 L595.34 199.38 L596.2 197.79 L597.05 196.22 L597.91 194.69 L598.77 193.18 L599.62 191.69 L600.48 190.24 L601.34 188.81 L602.19 187.4 L603.05 186.02 L603.91 184.67 L604.76 183.34 L605.62 182.04 L606.48 180.75 L607.33 179.5 L608.19 178.26 L609.05 177.05 L609.91 175.86 L610.76 174.7 L611.62 173.55 L612.48 172.43 L613.33 171.33 L614.19 170.25 L615.05 169.19 L615.9 168.15 L616.76 167.13 L617.62 166.13 L618.47 165.14 L619.33 164.18 L620.19 163.24 L621.04 162.31 L621.9 161.4 L622.76 160.51 L623.62 159.64 L624.47 158.78 L625.33 157.94 L626.19 157.12 L627.04 156.31 L627.9 155.52 L628.76 154.74 L629.61 153.98 L630.47 153.23 L631.33 152.5 L632.18 151.78 L633.04 151.08 L633.9 150.39 L634.75 149.71 L635.61 149.05 L636.47 148.4 L637.33 147.76 L638.18 147.13 L639.04 146.51 L639.9 145.91 L640.75 145.32 L641.61 144.74 L642.47 144.16 L643.32 143.6 L644.18 143.05 L645.04 142.51 L645.89 141.98 L646.75 141.46 L647.61 140.95 L648.46 140.44 L649.32 139.95 L650.18 139.46 L651.04 138.98 L651.89 138.51 L652.75 138.04 L653.61 137.59 L654.46 137.14 L655.32 136.69 L656.18 136.25 L657.03 135.82 L657.89 135.4 L658.75 134.98 L659.6 134.56 L660.46 134.15 L661.32 133.75 L662.17 133.35 L663.03 132.96 L663.89 132.57 L664.75 132.18 L665.6 131.8 L666.46 131.42 L667.32 131.04 L668.17 130.67 L669.03 130.3 L669.89 129.93 L670.74 129.56 L671.6 129.2" fill="none" stroke="#e5643f" stroke-width="1"/>
<line x1="624" y1="191.6" x2="630.2" y2="191.6" stroke="#e5643f" stroke-width="1" />
<text x="634.4" y="193.9" font-size="6.68" text-anchor="start" font-weight="normal" fill="#231f20" >Young-1, T1</text>
<line x1="624" y1="200.65" x2="630.2" y2="200.65" stroke="#4cb8d5" stroke-width="1" />
<text x="634.4" y="202.95" font-size="6.68" text-anchor="start" font-weight="normal" fill="#231f20" >Young-1, T2</text>
<line x1="624" y1="209.7" x2="630.2" y2="209.7" stroke="#b5df9a" stroke-width="1" />
<text x="634.4" y="212" font-size="6.68" text-anchor="start" font-weight="normal" fill="#231f20" >Young-2</text>
<text x="557.4" y="177.8" font-size="6.68" text-anchor="middle" font-weight="normal" fill="#231f20" transform="rotate(-90 557.4 177.8)" >Accumulative percentage</text>
<text x="564.4" y="176.3" font-size="6.68" text-anchor="middle" font-weight="normal" fill="#231f20" transform="rotate(-90 564.4 176.3)" >of assigned progeny</text>
<text x="629.5" y="240.8" font-size="6.68" text-anchor="middle" font-weight="normal" fill="#231f20" >High- to low-output clones (%)</text>
<rect x="51.3" y="263.6" width="5.95" height="6.4" fill="#f9cebe" />
<rect x="57.2" y="263.6" width="5.95" height="6.4" fill="#fadbce" />
<rect x="63.1" y="263.6" width="5.95" height="6.4" fill="#fefbfa" />
<rect x="69" y="263.6" width="5.95" height="6.4" fill="#f9cebe" />
<rect x="74.9" y="263.6" width="5.95" height="6.4" fill="#fad3c3" />
<rect x="51.3" y="269.95" width="5.95" height="6.4" fill="#fad3c3" />
<rect x="57.2" y="269.95" width="5.95" height="6.4" fill="#f9cebe" />
<rect x="63.1" y="269.95" width="5.95" height="6.4" fill="#f8c2ae" />
<rect x="69" y="269.95" width="5.95" height="6.4" fill="#fbdfd3" />
<rect x="74.9" y="269.95" width="5.95" height="6.4" fill="#f4a48c" />
<line x1="51.3" y1="269.95" x2="80.8" y2="269.95" stroke="#1e1e1e" stroke-width="0.75" />
<line x1="51.3" y1="263.6" x2="51.3" y2="276.3" stroke="#3c3c3c" stroke-width="0.7" />
<line x1="80.8" y1="263.6" x2="80.8" y2="276.3" stroke="#3c3c3c" stroke-width="0.7" />
<rect x="88.8" y="263.6" width="5.82" height="6.4" fill="#d5e2f1" />
<rect x="94.57" y="263.6" width="5.82" height="6.4" fill="#8dafd7" />
<rect x="100.34" y="263.6" width="5.82" height="6.4" fill="#6a95c8" />
<rect x="106.11" y="263.6" width="5.82" height="6.4" fill="#b9cfe9" />
<rect x="111.88" y="263.6" width="5.82" height="6.4" fill="#ebf1f8" />
<rect x="117.65" y="263.6" width="5.82" height="6.4" fill="#e5edf6" />
<rect x="123.42" y="263.6" width="5.82" height="6.4" fill="#dee8f4" />
<rect x="129.19" y="263.6" width="5.82" height="6.4" fill="#ebf1f8" />
<rect x="134.96" y="263.6" width="5.82" height="6.4" fill="#b9cfe9" />
<rect x="140.73" y="263.6" width="5.82" height="6.4" fill="#ebf1f8" />
<rect x="146.5" y="263.6" width="5.82" height="6.4" fill="#dee8f4" />
<rect x="152.27" y="263.6" width="5.82" height="6.4" fill="#fef7f4" />
<rect x="158.04" y="263.6" width="5.82" height="6.4" fill="#dee8f4" />
<rect x="163.81" y="263.6" width="5.82" height="6.4" fill="#6e6e6e" />
<rect x="169.58" y="263.6" width="5.82" height="6.4" fill="#fdefe9" />
<rect x="175.35" y="263.6" width="5.82" height="6.4" fill="#fce7de" />
<rect x="181.12" y="263.6" width="5.82" height="6.4" fill="#6e6e6e" />
<rect x="186.89" y="263.6" width="5.82" height="6.4" fill="#b9cfe9" />
<rect x="192.66" y="263.6" width="5.82" height="6.4" fill="#f2f6fb" />
<rect x="198.43" y="263.6" width="5.82" height="6.4" fill="#96b6db" />
<rect x="204.2" y="263.6" width="5.82" height="6.4" fill="#e5edf6" />
<rect x="209.97" y="263.6" width="5.82" height="6.4" fill="#fbdfd3" />
<rect x="215.74" y="263.6" width="5.82" height="6.4" fill="#f8fafd" />
<rect x="221.51" y="263.6" width="5.82" height="6.4" fill="#f29c83" />
<rect x="88.8" y="269.95" width="5.82" height="6.4" fill="#6e6e6e" />
<rect x="94.57" y="269.95" width="5.82" height="6.4" fill="#d5e2f1" />
<rect x="100.34" y="269.95" width="5.82" height="6.4" fill="#ebf1f8" />
<rect x="106.11" y="269.95" width="5.82" height="6.4" fill="#fef7f4" />
<rect x="111.88" y="269.95" width="5.82" height="6.4" fill="#ffffff" />
<rect x="117.65" y="269.95" width="5.82" height="6.4" fill="#6e6e6e" />
<rect x="123.42" y="269.95" width="5.82" height="6.4" fill="#ef8c73" />
<rect x="129.19" y="269.95" width="5.82" height="6.4" fill="#fce7de" />
<rect x="134.96" y="269.95" width="5.82" height="6.4" fill="#dee8f4" />
<rect x="140.73" y="269.95" width="5.82" height="6.4" fill="#fbdfd3" />
<rect x="146.5" y="269.95" width="5.82" height="6.4" fill="#6e6e6e" />
<rect x="152.27" y="269.95" width="5.82" height="6.4" fill="#fbdfd3" />
<rect x="158.04" y="269.95" width="5.82" height="6.4" fill="#6a95c8" />
<rect x="163.81" y="269.95" width="5.82" height="6.4" fill="#6e6e6e" />
<rect x="169.58" y="269.95" width="5.82" height="6.4" fill="#d5e2f1" />
<rect x="175.35" y="269.95" width="5.82" height="6.4" fill="#f6b59e" />
<rect x="181.12" y="269.95" width="5.82" height="6.4" fill="#6e6e6e" />
<rect x="186.89" y="269.95" width="5.82" height="6.4" fill="#b0c9e6" />
<rect x="192.66" y="269.95" width="5.82" height="6.4" fill="#f4a48c" />
<rect x="198.43" y="269.95" width="5.82" height="6.4" fill="#e5edf6" />
<rect x="204.2" y="269.95" width="5.82" height="6.4" fill="#e5edf6" />
<rect x="209.97" y="269.95" width="5.82" height="6.4" fill="#f7bda9" />
<rect x="215.74" y="269.95" width="5.82" height="6.4" fill="#f0947b" />
<rect x="221.51" y="269.95" width="5.82" height="6.4" fill="#ccdcee" />
<line x1="88.8" y1="269.95" x2="227.28" y2="269.95" stroke="#1e1e1e" stroke-width="0.75" />
<line x1="88.8" y1="263.6" x2="88.8" y2="276.3" stroke="#3c3c3c" stroke-width="0.7" />
<line x1="227.28" y1="263.6" x2="227.28" y2="276.3" stroke="#3c3c3c" stroke-width="0.7" />
<rect x="235.6" y="263.6" width="5.88" height="6.4" fill="#ccdcee" />
<rect x="241.43" y="263.6" width="5.88" height="6.4" fill="#fce7de" />
<rect x="247.26" y="263.6" width="5.88" height="6.4" fill="#ffffff" />
<rect x="253.09" y="263.6" width="5.88" height="6.4" fill="#fbdfd3" />
<rect x="258.92" y="263.6" width="5.88" height="6.4" fill="#c2d5ec" />
<rect x="264.75" y="263.6" width="5.88" height="6.4" fill="#fef3ee" />
<rect x="270.58" y="263.6" width="5.88" height="6.4" fill="#fef7f4" />
<rect x="276.41" y="263.6" width="5.88" height="6.4" fill="#f2f6fb" />
<rect x="235.6" y="269.95" width="5.88" height="6.4" fill="#f2f6fb" />
<rect x="241.43" y="269.95" width="5.88" height="6.4" fill="#fce7de" />
<rect x="247.26" y="269.95" width="5.88" height="6.4" fill="#ffffff" />
<rect x="253.09" y="269.95" width="5.88" height="6.4" fill="#6e6e6e" />
<rect x="258.92" y="269.95" width="5.88" height="6.4" fill="#fef7f4" />
<rect x="264.75" y="269.95" width="5.88" height="6.4" fill="#f2f6fb" />
<rect x="270.58" y="269.95" width="5.88" height="6.4" fill="#f8fafd" />
<rect x="276.41" y="269.95" width="5.88" height="6.4" fill="#b9cfe9" />
<line x1="235.6" y1="263.6" x2="235.6" y2="276.3" stroke="#3c3c3c" stroke-width="0.7" />
<line x1="282.24" y1="263.6" x2="282.24" y2="276.3" stroke="#3c3c3c" stroke-width="0.7" />
<rect x="291.6" y="263.6" width="5.8" height="6.4" fill="#fad7c8" />
<rect x="297.35" y="263.6" width="5.8" height="6.4" fill="#ebf1f8" />
<rect x="303.1" y="263.6" width="5.8" height="6.4" fill="#fce7de" />
<rect x="308.85" y="263.6" width="5.8" height="6.4" fill="#f9cebe" />
<rect x="314.6" y="263.6" width="5.8" height="6.4" fill="#fce7de" />
<rect x="320.35" y="263.6" width="5.8" height="6.4" fill="#f2f6fb" />
<rect x="326.1" y="263.6" width="5.8" height="6.4" fill="#fef3ee" />
<rect x="331.85" y="263.6" width="5.8" height="6.4" fill="#f6b59e" />
<rect x="337.6" y="263.6" width="5.8" height="6.4" fill="#ebf1f8" />
<rect x="343.35" y="263.6" width="5.8" height="6.4" fill="#6e6e6e" />
<rect x="291.6" y="269.95" width="5.8" height="6.4" fill="#d5e2f1" />
<rect x="297.35" y="269.95" width="5.8" height="6.4" fill="#fcfdfe" />
<rect x="303.1" y="269.95" width="5.8" height="6.4" fill="#fbdfd3" />
<rect x="308.85" y="269.95" width="5.8" height="6.4" fill="#f8fafd" />
<rect x="314.6" y="269.95" width="5.8" height="6.4" fill="#fef7f4" />
<rect x="320.35" y="269.95" width="5.8" height="6.4" fill="#f8fafd" />
<rect x="326.1" y="269.95" width="5.8" height="6.4" fill="#ebf1f8" />
<rect x="331.85" y="269.95" width="5.8" height="6.4" fill="#f8fafd" />
<rect x="337.6" y="269.95" width="5.8" height="6.4" fill="#ccdcee" />
<rect x="343.35" y="269.95" width="5.8" height="6.4" fill="#c2d5ec" />
<line x1="291.6" y1="263.6" x2="291.6" y2="276.3" stroke="#3c3c3c" stroke-width="0.7" />
<line x1="349.1" y1="263.6" x2="349.1" y2="276.3" stroke="#3c3c3c" stroke-width="0.7" />
<rect x="361.1" y="263.6" width="5.8" height="6.4" fill="#f8fafd" />
<rect x="366.86" y="263.6" width="5.8" height="6.4" fill="#ccdcee" />
<rect x="372.61" y="263.6" width="5.8" height="6.4" fill="#fefbfa" />
<rect x="378.37" y="263.6" width="5.8" height="6.4" fill="#f2f6fb" />
<rect x="384.12" y="263.6" width="5.8" height="6.4" fill="#ebf1f8" />
<rect x="389.88" y="263.6" width="5.8" height="6.4" fill="#f8c6b3" />
<rect x="395.63" y="263.6" width="5.8" height="6.4" fill="#f8c6b3" />
<rect x="401.38" y="263.6" width="5.8" height="6.4" fill="#fce3d8" />
<rect x="407.14" y="263.6" width="5.8" height="6.4" fill="#f8fafd" />
<rect x="412.9" y="263.6" width="5.8" height="6.4" fill="#fbdfd3" />
<rect x="418.65" y="263.6" width="5.8" height="6.4" fill="#fef7f4" />
<rect x="424.41" y="263.6" width="5.8" height="6.4" fill="#6e6e6e" />
<rect x="430.16" y="263.6" width="5.8" height="6.4" fill="#fad7c8" />
<rect x="435.92" y="263.6" width="5.8" height="6.4" fill="#ffffff" />
<rect x="441.67" y="263.6" width="5.8" height="6.4" fill="#fce7de" />
<rect x="447.43" y="263.6" width="5.8" height="6.4" fill="#fbdfd3" />
<rect x="453.18" y="263.6" width="5.8" height="6.4" fill="#eef4fa" />
<rect x="458.94" y="263.6" width="5.8" height="6.4" fill="#fce3d8" />
<rect x="464.69" y="263.6" width="5.8" height="6.4" fill="#f2f6fb" />
<rect x="470.45" y="263.6" width="5.8" height="6.4" fill="#c2d5ec" />
<rect x="476.2" y="263.6" width="5.8" height="6.4" fill="#f29c83" />
<rect x="481.96" y="263.6" width="5.8" height="6.4" fill="#e5edf6" />
<rect x="487.71" y="263.6" width="5.8" height="6.4" fill="#f2f6fb" />
<rect x="493.47" y="263.6" width="5.8" height="6.4" fill="#f5f8fc" />
<rect x="499.22" y="263.6" width="5.8" height="6.4" fill="#ffffff" />
<rect x="504.98" y="263.6" width="5.8" height="6.4" fill="#fadbce" />
<rect x="510.73" y="263.6" width="5.8" height="6.4" fill="#fdefe9" />
<rect x="516.49" y="263.6" width="5.8" height="6.4" fill="#fad7c8" />
<rect x="522.24" y="263.6" width="5.8" height="6.4" fill="#ffffff" />
<rect x="528" y="263.6" width="5.8" height="6.4" fill="#e5edf6" />
<rect x="533.75" y="263.6" width="5.8" height="6.4" fill="#ebf1f8" />
<rect x="361.1" y="269.95" width="5.8" height="6.4" fill="#f5ac94" />
<rect x="366.86" y="269.95" width="5.8" height="6.4" fill="#b9cfe9" />
<rect x="372.61" y="269.95" width="5.8" height="6.4" fill="#f5f8fc" />
<rect x="378.37" y="269.95" width="5.8" height="6.4" fill="#f5f8fc" />
<rect x="384.12" y="269.95" width="5.8" height="6.4" fill="#e5edf6" />
<rect x="389.88" y="269.95" width="5.8" height="6.4" fill="#fad7c8" />
<rect x="395.63" y="269.95" width="5.8" height="6.4" fill="#ffffff" />
<rect x="401.38" y="269.95" width="5.8" height="6.4" fill="#fce7de" />
<rect x="407.14" y="269.95" width="5.8" height="6.4" fill="#fef7f4" />
<rect x="412.9" y="269.95" width="5.8" height="6.4" fill="#fce7de" />
<rect x="418.65" y="269.95" width="5.8" height="6.4" fill="#fef7f4" />
<rect x="424.41" y="269.95" width="5.8" height="6.4" fill="#fce3d8" />
<rect x="430.16" y="269.95" width="5.8" height="6.4" fill="#fbdfd3" />
<rect x="435.92" y="269.95" width="5.8" height="6.4" fill="#6e6e6e" />
<rect x="441.67" y="269.95" width="5.8" height="6.4" fill="#fce7de" />
<rect x="447.43" y="269.95" width="5.8" height="6.4" fill="#f2f6fb" />
<rect x="453.18" y="269.95" width="5.8" height="6.4" fill="#fad7c8" />
<rect x="458.94" y="269.95" width="5.8" height="6.4" fill="#fce3d8" />
<rect x="464.69" y="269.95" width="5.8" height="6.4" fill="#f9cebe" />
<rect x="470.45" y="269.95" width="5.8" height="6.4" fill="#c2d5ec" />
<rect x="476.2" y="269.95" width="5.8" height="6.4" fill="#ffffff" />
<rect x="481.96" y="269.95" width="5.8" height="6.4" fill="#ebf1f8" />
<rect x="487.71" y="269.95" width="5.8" height="6.4" fill="#f9cebe" />
<rect x="493.47" y="269.95" width="5.8" height="6.4" fill="#fef7f4" />
<rect x="499.22" y="269.95" width="5.8" height="6.4" fill="#f29c83" />
<rect x="504.98" y="269.95" width="5.8" height="6.4" fill="#ccdcee" />
<rect x="510.73" y="269.95" width="5.8" height="6.4" fill="#6e6e6e" />
<rect x="516.49" y="269.95" width="5.8" height="6.4" fill="#dee8f4" />
<rect x="522.24" y="269.95" width="5.8" height="6.4" fill="#c2d5ec" />
<rect x="528" y="269.95" width="5.8" height="6.4" fill="#6e6e6e" />
<rect x="533.75" y="269.95" width="5.8" height="6.4" fill="#f7bda9" />
<line x1="361.1" y1="263.6" x2="361.1" y2="276.3" stroke="#3c3c3c" stroke-width="0.7" />
<line x1="539.5" y1="263.6" x2="539.5" y2="276.3" stroke="#3c3c3c" stroke-width="0.7" />
<line x1="51.3" y1="263.6" x2="539.6" y2="263.6" stroke="#3c3c3c" stroke-width="0.7" />
<line x1="51.3" y1="276.3" x2="539.6" y2="276.3" stroke="#555" stroke-width="0.8" />
<rect x="51.3" y="280.6" width="5.95" height="6.3" fill="#ebf1f8" />
<rect x="57.2" y="280.6" width="5.95" height="6.3" fill="#ebf1f8" />
<rect x="63.1" y="280.6" width="5.95" height="6.3" fill="#fef7f4" />
<rect x="69" y="280.6" width="5.95" height="6.3" fill="#f5f8fc" />
<rect x="74.9" y="280.6" width="5.95" height="6.3" fill="#f8fafd" />
<rect x="51.3" y="286.85" width="5.95" height="6.3" fill="#f2f6fb" />
<rect x="57.2" y="286.85" width="5.95" height="6.3" fill="#ebf1f8" />
<rect x="63.1" y="286.85" width="5.95" height="6.3" fill="#fef7f4" />
<rect x="69" y="286.85" width="5.95" height="6.3" fill="#ffffff" />
<rect x="74.9" y="286.85" width="5.95" height="6.3" fill="#fefbfa" />
<line x1="51.3" y1="286.85" x2="80.8" y2="286.85" stroke="#1e1e1e" stroke-width="0.75" />
<line x1="51.3" y1="280.6" x2="51.3" y2="293.1" stroke="#3c3c3c" stroke-width="0.7" />
<line x1="80.8" y1="280.6" x2="80.8" y2="293.1" stroke="#3c3c3c" stroke-width="0.7" />
<rect x="88.8" y="280.6" width="5.82" height="6.3" fill="#fad7c8" />
<rect x="94.57" y="280.6" width="5.82" height="6.3" fill="#fbdfd3" />
<rect x="100.34" y="280.6" width="5.82" height="6.3" fill="#fbdfd3" />
<rect x="106.11" y="280.6" width="5.82" height="6.3" fill="#fadbce" />
<rect x="111.88" y="280.6" width="5.82" height="6.3" fill="#fce7de" />
<rect x="117.65" y="280.6" width="5.82" height="6.3" fill="#fadbce" />
<rect x="123.42" y="280.6" width="5.82" height="6.3" fill="#fbdfd3" />
<rect x="129.19" y="280.6" width="5.82" height="6.3" fill="#fce3d8" />
<rect x="134.96" y="280.6" width="5.82" height="6.3" fill="#fce3d8" />
<rect x="140.73" y="280.6" width="5.82" height="6.3" fill="#fce3d8" />
<rect x="146.5" y="280.6" width="5.82" height="6.3" fill="#fbdfd3" />
<rect x="152.27" y="280.6" width="5.82" height="6.3" fill="#fce3d8" />
<rect x="158.04" y="280.6" width="5.82" height="6.3" fill="#fce3d8" />
<rect x="163.81" y="280.6" width="5.82" height="6.3" fill="#fbdfd3" />
<rect x="169.58" y="280.6" width="5.82" height="6.3" fill="#fdefe9" />
<rect x="175.35" y="280.6" width="5.82" height="6.3" fill="#fbdfd3" />
<rect x="181.12" y="280.6" width="5.82" height="6.3" fill="#fce7de" />
<rect x="186.89" y="280.6" width="5.82" height="6.3" fill="#fce7de" />
<rect x="192.66" y="280.6" width="5.82" height="6.3" fill="#fce3d8" />
<rect x="198.43" y="280.6" width="5.82" height="6.3" fill="#fdefe9" />
<rect x="204.2" y="280.6" width="5.82" height="6.3" fill="#fdefe9" />
<rect x="209.97" y="280.6" width="5.82" height="6.3" fill="#fce7de" />
<rect x="215.74" y="280.6" width="5.82" height="6.3" fill="#fce3d8" />
<rect x="221.51" y="280.6" width="5.82" height="6.3" fill="#fef7f4" />
<rect x="88.8" y="286.85" width="5.82" height="6.3" fill="#fce3d8" />
<rect x="94.57" y="286.85" width="5.82" height="6.3" fill="#fcebe4" />
<rect x="100.34" y="286.85" width="5.82" height="6.3" fill="#fcebe4" />
<rect x="106.11" y="286.85" width="5.82" height="6.3" fill="#fce7de" />
<rect x="111.88" y="286.85" width="5.82" height="6.3" fill="#fcebe4" />
<rect x="117.65" y="286.85" width="5.82" height="6.3" fill="#fce3d8" />
<rect x="123.42" y="286.85" width="5.82" height="6.3" fill="#fce7de" />
<rect x="129.19" y="286.85" width="5.82" height="6.3" fill="#fbdfd3" />
<rect x="134.96" y="286.85" width="5.82" height="6.3" fill="#fce7de" />
<rect x="140.73" y="286.85" width="5.82" height="6.3" fill="#fce7de" />
<rect x="146.5" y="286.85" width="5.82" height="6.3" fill="#f9cebe" />
<rect x="152.27" y="286.85" width="5.82" height="6.3" fill="#fce7de" />
<rect x="158.04" y="286.85" width="5.82" height="6.3" fill="#fdefe9" />
<rect x="163.81" y="286.85" width="5.82" height="6.3" fill="#fdefe9" />
<rect x="169.58" y="286.85" width="5.82" height="6.3" fill="#fdefe9" />
<rect x="175.35" y="286.85" width="5.82" height="6.3" fill="#fef3ee" />
<rect x="181.12" y="286.85" width="5.82" height="6.3" fill="#fdefe9" />
<rect x="186.89" y="286.85" width="5.82" height="6.3" fill="#fdefe9" />
<rect x="192.66" y="286.85" width="5.82" height="6.3" fill="#fce7de" />
<rect x="198.43" y="286.85" width="5.82" height="6.3" fill="#fdefe9" />
<rect x="204.2" y="286.85" width="5.82" height="6.3" fill="#fef3ee" />
<rect x="209.97" y="286.85" width="5.82" height="6.3" fill="#fce7de" />
<rect x="215.74" y="286.85" width="5.82" height="6.3" fill="#ffffff" />
<rect x="221.51" y="286.85" width="5.82" height="6.3" fill="#fce7de" />
<line x1="88.8" y1="286.85" x2="227.28" y2="286.85" stroke="#1e1e1e" stroke-width="0.75" />
<line x1="88.8" y1="280.6" x2="88.8" y2="293.1" stroke="#3c3c3c" stroke-width="0.7" />
<line x1="227.28" y1="280.6" x2="227.28" y2="293.1" stroke="#3c3c3c" stroke-width="0.7" />
<rect x="235.6" y="280.6" width="5.88" height="6.3" fill="#f8fafd" />
<rect x="241.43" y="280.6" width="5.88" height="6.3" fill="#ebf1f8" />
<rect x="247.26" y="280.6" width="5.88" height="6.3" fill="#f2f6fb" />
<rect x="253.09" y="280.6" width="5.88" height="6.3" fill="#fef7f4" />
<rect x="258.92" y="280.6" width="5.88" height="6.3" fill="#f2f6fb" />
<rect x="264.75" y="280.6" width="5.88" height="6.3" fill="#ebf1f8" />
<rect x="270.58" y="280.6" width="5.88" height="6.3" fill="#f2f6fb" />
<rect x="276.41" y="280.6" width="5.88" height="6.3" fill="#f2f6fb" />
<rect x="235.6" y="286.85" width="5.88" height="6.3" fill="#f5f8fc" />
<rect x="241.43" y="286.85" width="5.88" height="6.3" fill="#ffffff" />
<rect x="247.26" y="286.85" width="5.88" height="6.3" fill="#f8fafd" />
<rect x="253.09" y="286.85" width="5.88" height="6.3" fill="#f2f6fb" />
<rect x="258.92" y="286.85" width="5.88" height="6.3" fill="#f2f6fb" />
<rect x="264.75" y="286.85" width="5.88" height="6.3" fill="#e8eff7" />
<rect x="270.58" y="286.85" width="5.88" height="6.3" fill="#f2f6fb" />
<rect x="276.41" y="286.85" width="5.88" height="6.3" fill="#f5f8fc" />
<line x1="235.6" y1="280.6" x2="235.6" y2="293.1" stroke="#3c3c3c" stroke-width="0.7" />
<line x1="282.24" y1="280.6" x2="282.24" y2="293.1" stroke="#3c3c3c" stroke-width="0.7" />
<rect x="291.6" y="280.6" width="5.8" height="6.3" fill="#eef4fa" />
<rect x="297.35" y="280.6" width="5.8" height="6.3" fill="#f2f6fb" />
<rect x="303.1" y="280.6" width="5.8" height="6.3" fill="#f2f6fb" />
<rect x="308.85" y="280.6" width="5.8" height="6.3" fill="#ebf1f8" />
<rect x="314.6" y="280.6" width="5.8" height="6.3" fill="#f2f6fb" />
<rect x="320.35" y="280.6" width="5.8" height="6.3" fill="#f2f6fb" />
<rect x="326.1" y="280.6" width="5.8" height="6.3" fill="#fdefe9" />
<rect x="331.85" y="280.6" width="5.8" height="6.3" fill="#f8fafd" />
<rect x="337.6" y="280.6" width="5.8" height="6.3" fill="#ebf1f8" />
<rect x="343.35" y="280.6" width="5.8" height="6.3" fill="#fdefe9" />
<rect x="291.6" y="286.85" width="5.8" height="6.3" fill="#f8fafd" />
<rect x="297.35" y="286.85" width="5.8" height="6.3" fill="#f8fafd" />
<rect x="303.1" y="286.85" width="5.8" height="6.3" fill="#f5f8fc" />
<rect x="308.85" y="286.85" width="5.8" height="6.3" fill="#ebf1f8" />
<rect x="314.6" y="286.85" width="5.8" height="6.3" fill="#fcfdfe" />
<rect x="320.35" y="286.85" width="5.8" height="6.3" fill="#ffffff" />
<rect x="326.1" y="286.85" width="5.8" height="6.3" fill="#e5edf6" />
<rect x="331.85" y="286.85" width="5.8" height="6.3" fill="#f8fafd" />
<rect x="337.6" y="286.85" width="5.8" height="6.3" fill="#fef7f4" />
<rect x="343.35" y="286.85" width="5.8" height="6.3" fill="#fef7f4" />
<line x1="291.6" y1="280.6" x2="291.6" y2="293.1" stroke="#3c3c3c" stroke-width="0.7" />
<line x1="349.1" y1="280.6" x2="349.1" y2="293.1" stroke="#3c3c3c" stroke-width="0.7" />
<rect x="361.1" y="280.6" width="5.8" height="6.3" fill="#fcfdfe" />
<rect x="366.86" y="280.6" width="5.8" height="6.3" fill="#fef3ee" />
<rect x="372.61" y="280.6" width="5.8" height="6.3" fill="#fcfdfe" />
<rect x="378.37" y="280.6" width="5.8" height="6.3" fill="#fcfdfe" />
<rect x="384.12" y="280.6" width="5.8" height="6.3" fill="#fef7f4" />
<rect x="389.88" y="280.6" width="5.8" height="6.3" fill="#fcfdfe" />
<rect x="395.63" y="280.6" width="5.8" height="6.3" fill="#f8fafd" />
<rect x="401.38" y="280.6" width="5.8" height="6.3" fill="#f8fafd" />
<rect x="407.14" y="280.6" width="5.8" height="6.3" fill="#fce3d8" />
<rect x="412.9" y="280.6" width="5.8" height="6.3" fill="#f2f6fb" />
<rect x="418.65" y="280.6" width="5.8" height="6.3" fill="#f5f8fc" />
<rect x="424.41" y="280.6" width="5.8" height="6.3" fill="#f5f8fc" />
<rect x="430.16" y="280.6" width="5.8" height="6.3" fill="#f8fafd" />
<rect x="435.92" y="280.6" width="5.8" height="6.3" fill="#f8fafd" />
<rect x="441.67" y="280.6" width="5.8" height="6.3" fill="#fef7f4" />
<rect x="447.43" y="280.6" width="5.8" height="6.3" fill="#fefbfa" />
<rect x="453.18" y="280.6" width="5.8" height="6.3" fill="#fefbfa" />
<rect x="458.94" y="280.6" width="5.8" height="6.3" fill="#fcfdfe" />
<rect x="464.69" y="280.6" width="5.8" height="6.3" fill="#fef3ee" />
<rect x="470.45" y="280.6" width="5.8" height="6.3" fill="#fce3d8" />
<rect x="476.2" y="280.6" width="5.8" height="6.3" fill="#ebf1f8" />
<rect x="481.96" y="280.6" width="5.8" height="6.3" fill="#f8fafd" />
<rect x="487.71" y="280.6" width="5.8" height="6.3" fill="#fce3d8" />
<rect x="493.47" y="280.6" width="5.8" height="6.3" fill="#fef7f4" />
<rect x="499.22" y="280.6" width="5.8" height="6.3" fill="#fce7de" />
<rect x="504.98" y="280.6" width="5.8" height="6.3" fill="#fcfdfe" />
<rect x="510.73" y="280.6" width="5.8" height="6.3" fill="#fcfdfe" />
<rect x="516.49" y="280.6" width="5.8" height="6.3" fill="#fcfdfe" />
<rect x="522.24" y="280.6" width="5.8" height="6.3" fill="#fef7f4" />
<rect x="528" y="280.6" width="5.8" height="6.3" fill="#fef3ee" />
<rect x="533.75" y="280.6" width="5.8" height="6.3" fill="#f5f8fc" />
<rect x="361.1" y="286.85" width="5.8" height="6.3" fill="#ebf1f8" />
<rect x="366.86" y="286.85" width="5.8" height="6.3" fill="#fce7de" />
<rect x="372.61" y="286.85" width="5.8" height="6.3" fill="#ffffff" />
<rect x="378.37" y="286.85" width="5.8" height="6.3" fill="#fef3ee" />
<rect x="384.12" y="286.85" width="5.8" height="6.3" fill="#fcfdfe" />
<rect x="389.88" y="286.85" width="5.8" height="6.3" fill="#fef3ee" />
<rect x="395.63" y="286.85" width="5.8" height="6.3" fill="#ffffff" />
<rect x="401.38" y="286.85" width="5.8" height="6.3" fill="#fcfdfe" />
<rect x="407.14" y="286.85" width="5.8" height="6.3" fill="#e5edf6" />
<rect x="412.9" y="286.85" width="5.8" height="6.3" fill="#ebf1f8" />
<rect x="418.65" y="286.85" width="5.8" height="6.3" fill="#f8fafd" />
<rect x="424.41" y="286.85" width="5.8" height="6.3" fill="#fef3ee" />
<rect x="430.16" y="286.85" width="5.8" height="6.3" fill="#fefbfa" />
<rect x="435.92" y="286.85" width="5.8" height="6.3" fill="#fef7f4" />
<rect x="441.67" y="286.85" width="5.8" height="6.3" fill="#fef7f4" />
<rect x="447.43" y="286.85" width="5.8" height="6.3" fill="#fef7f4" />
<rect x="453.18" y="286.85" width="5.8" height="6.3" fill="#fef3ee" />
<rect x="458.94" y="286.85" width="5.8" height="6.3" fill="#e5edf6" />
<rect x="464.69" y="286.85" width="5.8" height="6.3" fill="#f8fafd" />
<rect x="470.45" y="286.85" width="5.8" height="6.3" fill="#f8fafd" />
<rect x="476.2" y="286.85" width="5.8" height="6.3" fill="#fef7f4" />
<rect x="481.96" y="286.85" width="5.8" height="6.3" fill="#fcfdfe" />
<rect x="487.71" y="286.85" width="5.8" height="6.3" fill="#f8fafd" />
<rect x="493.47" y="286.85" width="5.8" height="6.3" fill="#fefbfa" />
<rect x="499.22" y="286.85" width="5.8" height="6.3" fill="#f8fafd" />
<rect x="504.98" y="286.85" width="5.8" height="6.3" fill="#f8fafd" />
<rect x="510.73" y="286.85" width="5.8" height="6.3" fill="#fce7de" />
<rect x="516.49" y="286.85" width="5.8" height="6.3" fill="#fce7de" />
<rect x="522.24" y="286.85" width="5.8" height="6.3" fill="#fef3ee" />
<rect x="528" y="286.85" width="5.8" height="6.3" fill="#f8fafd" />
<rect x="533.75" y="286.85" width="5.8" height="6.3" fill="#f8fafd" />
<line x1="361.1" y1="280.6" x2="361.1" y2="293.1" stroke="#3c3c3c" stroke-width="0.7" />
<line x1="539.5" y1="280.6" x2="539.5" y2="293.1" stroke="#3c3c3c" stroke-width="0.7" />
<line x1="51.3" y1="280.6" x2="539.6" y2="280.6" stroke="#3c3c3c" stroke-width="0.7" />
<line x1="51.3" y1="293.1" x2="539.6" y2="293.1" stroke="#555" stroke-width="0.8" />
<rect x="51.3" y="297.5" width="5.95" height="6.4" fill="#f8fafd" />
<rect x="57.2" y="297.5" width="5.95" height="6.4" fill="#ffffff" />
<rect x="63.1" y="297.5" width="5.95" height="6.4" fill="#ffffff" />
<rect x="69" y="297.5" width="5.95" height="6.4" fill="#f8fafd" />
<rect x="74.9" y="297.5" width="5.95" height="6.4" fill="#d5e2f1" />
<rect x="51.3" y="303.85" width="5.95" height="6.4" fill="#eef4fa" />
<rect x="57.2" y="303.85" width="5.95" height="6.4" fill="#fdefe9" />
<rect x="63.1" y="303.85" width="5.95" height="6.4" fill="#f2f6fb" />
<rect x="69" y="303.85" width="5.95" height="6.4" fill="#ffffff" />
<rect x="74.9" y="303.85" width="5.95" height="6.4" fill="#f2f6fb" />
<line x1="51.3" y1="303.85" x2="80.8" y2="303.85" stroke="#1e1e1e" stroke-width="0.75" />
<line x1="51.3" y1="297.5" x2="51.3" y2="310.2" stroke="#3c3c3c" stroke-width="0.7" />
<line x1="80.8" y1="297.5" x2="80.8" y2="310.2" stroke="#3c3c3c" stroke-width="0.7" />
<rect x="88.8" y="297.5" width="5.82" height="6.4" fill="#d5e2f1" />
<rect x="94.57" y="297.5" width="5.82" height="6.4" fill="#ebf1f8" />
<rect x="100.34" y="297.5" width="5.82" height="6.4" fill="#f2f6fb" />
<rect x="106.11" y="297.5" width="5.82" height="6.4" fill="#c2d5ec" />
<rect x="111.88" y="297.5" width="5.82" height="6.4" fill="#f8fafd" />
<rect x="117.65" y="297.5" width="5.82" height="6.4" fill="#9ebcde" />
<rect x="123.42" y="297.5" width="5.82" height="6.4" fill="#9ebcde" />
<rect x="129.19" y="297.5" width="5.82" height="6.4" fill="#e5edf6" />
<rect x="134.96" y="297.5" width="5.82" height="6.4" fill="#dee8f4" />
<rect x="140.73" y="297.5" width="5.82" height="6.4" fill="#e5edf6" />
<rect x="146.5" y="297.5" width="5.82" height="6.4" fill="#ffffff" />
<rect x="152.27" y="297.5" width="5.82" height="6.4" fill="#ebf1f8" />
<rect x="158.04" y="297.5" width="5.82" height="6.4" fill="#d5e2f1" />
<rect x="163.81" y="297.5" width="5.82" height="6.4" fill="#f2f6fb" />
<rect x="169.58" y="297.5" width="5.82" height="6.4" fill="#fefbfa" />
<rect x="175.35" y="297.5" width="5.82" height="6.4" fill="#b0c9e6" />
<rect x="181.12" y="297.5" width="5.82" height="6.4" fill="#ebf1f8" />
<rect x="186.89" y="297.5" width="5.82" height="6.4" fill="#e5edf6" />
<rect x="192.66" y="297.5" width="5.82" height="6.4" fill="#fef7f4" />
<rect x="198.43" y="297.5" width="5.82" height="6.4" fill="#fef3ee" />
<rect x="204.2" y="297.5" width="5.82" height="6.4" fill="#ffffff" />
<rect x="209.97" y="297.5" width="5.82" height="6.4" fill="#e5edf6" />
<rect x="215.74" y="297.5" width="5.82" height="6.4" fill="#ccdcee" />
<rect x="221.51" y="297.5" width="5.82" height="6.4" fill="#ccdcee" />
<rect x="88.8" y="303.85" width="5.82" height="6.4" fill="#ebf1f8" />
<rect x="94.57" y="303.85" width="5.82" height="6.4" fill="#fce3d8" />
<rect x="100.34" y="303.85" width="5.82" height="6.4" fill="#fce3d8" />
<rect x="106.11" y="303.85" width="5.82" height="6.4" fill="#fefbfa" />
<rect x="111.88" y="303.85" width="5.82" height="6.4" fill="#f8fafd" />
<rect x="117.65" y="303.85" width="5.82" height="6.4" fill="#f8fafd" />
<rect x="123.42" y="303.85" width="5.82" height="6.4" fill="#f8fafd" />
<rect x="129.19" y="303.85" width="5.82" height="6.4" fill="#fef7f4" />
<rect x="134.96" y="303.85" width="5.82" height="6.4" fill="#e5edf6" />
<rect x="140.73" y="303.85" width="5.82" height="6.4" fill="#fdefe9" />
<rect x="146.5" y="303.85" width="5.82" height="6.4" fill="#6e6e6e" />
<rect x="152.27" y="303.85" width="5.82" height="6.4" fill="#b0c9e6" />
<rect x="158.04" y="303.85" width="5.82" height="6.4" fill="#ebf1f8" />
<rect x="163.81" y="303.85" width="5.82" height="6.4" fill="#ebf1f8" />
<rect x="169.58" y="303.85" width="5.82" height="6.4" fill="#ebf1f8" />
<rect x="175.35" y="303.85" width="5.82" height="6.4" fill="#f6b59e" />
<rect x="181.12" y="303.85" width="5.82" height="6.4" fill="#fef7f4" />
<rect x="186.89" y="303.85" width="5.82" height="6.4" fill="#fdefe9" />
<rect x="192.66" y="303.85" width="5.82" height="6.4" fill="#d5e2f1" />
<rect x="198.43" y="303.85" width="5.82" height="6.4" fill="#ebf1f8" />
<rect x="204.2" y="303.85" width="5.82" height="6.4" fill="#f8fafd" />
<rect x="209.97" y="303.85" width="5.82" height="6.4" fill="#9ebcde" />
<rect x="215.74" y="303.85" width="5.82" height="6.4" fill="#9ebcde" />
<rect x="221.51" y="303.85" width="5.82" height="6.4" fill="#ebf1f8" />
<line x1="88.8" y1="303.85" x2="227.28" y2="303.85" stroke="#1e1e1e" stroke-width="0.75" />
<line x1="88.8" y1="297.5" x2="88.8" y2="310.2" stroke="#3c3c3c" stroke-width="0.7" />
<line x1="227.28" y1="297.5" x2="227.28" y2="310.2" stroke="#3c3c3c" stroke-width="0.7" />
<rect x="235.6" y="297.5" width="5.88" height="6.4" fill="#fad7c8" />
<rect x="241.43" y="297.5" width="5.88" height="6.4" fill="#f9cebe" />
<rect x="247.26" y="297.5" width="5.88" height="6.4" fill="#fad7c8" />
<rect x="253.09" y="297.5" width="5.88" height="6.4" fill="#fad7c8" />
<rect x="258.92" y="297.5" width="5.88" height="6.4" fill="#fadbce" />
<rect x="264.75" y="297.5" width="5.88" height="6.4" fill="#f9cebe" />
<rect x="270.58" y="297.5" width="5.88" height="6.4" fill="#f8c6b3" />
<rect x="276.41" y="297.5" width="5.88" height="6.4" fill="#fbdfd3" />
<rect x="235.6" y="303.85" width="5.88" height="6.4" fill="#f8c6b3" />
<rect x="241.43" y="303.85" width="5.88" height="6.4" fill="#fdefe9" />
<rect x="247.26" y="303.85" width="5.88" height="6.4" fill="#f9cebe" />
<rect x="253.09" y="303.85" width="5.88" height="6.4" fill="#f9cebe" />
<rect x="258.92" y="303.85" width="5.88" height="6.4" fill="#f9cebe" />
<rect x="264.75" y="303.85" width="5.88" height="6.4" fill="#fad7c8" />
<rect x="270.58" y="303.85" width="5.88" height="6.4" fill="#fce7de" />
<rect x="276.41" y="303.85" width="5.88" height="6.4" fill="#f7bda9" />
<line x1="235.6" y1="297.5" x2="235.6" y2="310.2" stroke="#3c3c3c" stroke-width="0.7" />
<line x1="282.24" y1="297.5" x2="282.24" y2="310.2" stroke="#3c3c3c" stroke-width="0.7" />
<rect x="291.6" y="297.5" width="5.8" height="6.4" fill="#fbdfd3" />
<rect x="297.35" y="297.5" width="5.8" height="6.4" fill="#fce3d8" />
<rect x="303.1" y="297.5" width="5.8" height="6.4" fill="#fce3d8" />
<rect x="308.85" y="297.5" width="5.8" height="6.4" fill="#fdefe9" />
<rect x="314.6" y="297.5" width="5.8" height="6.4" fill="#fdefe9" />
<rect x="320.35" y="297.5" width="5.8" height="6.4" fill="#fce3d8" />
<rect x="326.1" y="297.5" width="5.8" height="6.4" fill="#e5edf6" />
<rect x="331.85" y="297.5" width="5.8" height="6.4" fill="#f2f6fb" />
<rect x="337.6" y="297.5" width="5.8" height="6.4" fill="#fce7de" />
<rect x="343.35" y="297.5" width="5.8" height="6.4" fill="#d5e2f1" />
<rect x="291.6" y="303.85" width="5.8" height="6.4" fill="#fef3ee" />
<rect x="297.35" y="303.85" width="5.8" height="6.4" fill="#fef7f4" />
<rect x="303.1" y="303.85" width="5.8" height="6.4" fill="#f8fafd" />
<rect x="308.85" y="303.85" width="5.8" height="6.4" fill="#f7bda9" />
<rect x="314.6" y="303.85" width="5.8" height="6.4" fill="#ffffff" />
<rect x="320.35" y="303.85" width="5.8" height="6.4" fill="#f2f6fb" />
<rect x="326.1" y="303.85" width="5.8" height="6.4" fill="#f9cebe" />
<rect x="331.85" y="303.85" width="5.8" height="6.4" fill="#fef7f4" />
<rect x="337.6" y="303.85" width="5.8" height="6.4" fill="#f2f6fb" />
<rect x="343.35" y="303.85" width="5.8" height="6.4" fill="#f8fafd" />
<line x1="291.6" y1="297.5" x2="291.6" y2="310.2" stroke="#3c3c3c" stroke-width="0.7" />
<line x1="349.1" y1="297.5" x2="349.1" y2="310.2" stroke="#3c3c3c" stroke-width="0.7" />
<rect x="361.1" y="297.5" width="5.8" height="6.4" fill="#f2f6fb" />
<rect x="366.86" y="297.5" width="5.8" height="6.4" fill="#fcfdfe" />
<rect x="372.61" y="297.5" width="5.8" height="6.4" fill="#fce7de" />
<rect x="378.37" y="297.5" width="5.8" height="6.4" fill="#fdefe9" />
<rect x="384.12" y="297.5" width="5.8" height="6.4" fill="#f8fafd" />
<rect x="389.88" y="297.5" width="5.8" height="6.4" fill="#f5f8fc" />
<rect x="395.63" y="297.5" width="5.8" height="6.4" fill="#f2f6fb" />
<rect x="401.38" y="297.5" width="5.8" height="6.4" fill="#fdefe9" />
<rect x="407.14" y="297.5" width="5.8" height="6.4" fill="#e5edf6" />
<rect x="412.9" y="297.5" width="5.8" height="6.4" fill="#f8fafd" />
<rect x="418.65" y="297.5" width="5.8" height="6.4" fill="#fef3ee" />
<rect x="424.41" y="297.5" width="5.8" height="6.4" fill="#fdefe9" />
<rect x="430.16" y="297.5" width="5.8" height="6.4" fill="#f8fafd" />
<rect x="435.92" y="297.5" width="5.8" height="6.4" fill="#fbdfd3" />
<rect x="441.67" y="297.5" width="5.8" height="6.4" fill="#e5edf6" />
<rect x="447.43" y="297.5" width="5.8" height="6.4" fill="#f2f6fb" />
<rect x="453.18" y="297.5" width="5.8" height="6.4" fill="#ffffff" />
<rect x="458.94" y="297.5" width="5.8" height="6.4" fill="#ffffff" />
<rect x="464.69" y="297.5" width="5.8" height="6.4" fill="#f5f8fc" />
<rect x="470.45" y="297.5" width="5.8" height="6.4" fill="#e5edf6" />
<rect x="476.2" y="297.5" width="5.8" height="6.4" fill="#f2f6fb" />
<rect x="481.96" y="297.5" width="5.8" height="6.4" fill="#fef3ee" />
<rect x="487.71" y="297.5" width="5.8" height="6.4" fill="#ccdcee" />
<rect x="493.47" y="297.5" width="5.8" height="6.4" fill="#ebf1f8" />
<rect x="499.22" y="297.5" width="5.8" height="6.4" fill="#f2f6fb" />
<rect x="504.98" y="297.5" width="5.8" height="6.4" fill="#ebf1f8" />
<rect x="510.73" y="297.5" width="5.8" height="6.4" fill="#f8fafd" />
<rect x="516.49" y="297.5" width="5.8" height="6.4" fill="#fefbfa" />
<rect x="522.24" y="297.5" width="5.8" height="6.4" fill="#ffffff" />
<rect x="528" y="297.5" width="5.8" height="6.4" fill="#f2f6fb" />
<rect x="533.75" y="297.5" width="5.8" height="6.4" fill="#fce7de" />
<rect x="361.1" y="303.85" width="5.8" height="6.4" fill="#fce7de" />
<rect x="366.86" y="303.85" width="5.8" height="6.4" fill="#dee8f4" />
<rect x="372.61" y="303.85" width="5.8" height="6.4" fill="#ffffff" />
<rect x="378.37" y="303.85" width="5.8" height="6.4" fill="#e5edf6" />
<rect x="384.12" y="303.85" width="5.8" height="6.4" fill="#fce3d8" />
<rect x="389.88" y="303.85" width="5.8" height="6.4" fill="#f2f6fb" />
<rect x="395.63" y="303.85" width="5.8" height="6.4" fill="#dee8f4" />
<rect x="401.38" y="303.85" width="5.8" height="6.4" fill="#f8fafd" />
<rect x="407.14" y="303.85" width="5.8" height="6.4" fill="#f8c6b3" />
<rect x="412.9" y="303.85" width="5.8" height="6.4" fill="#fbdfd3" />
<rect x="418.65" y="303.85" width="5.8" height="6.4" fill="#e5edf6" />
<rect x="424.41" y="303.85" width="5.8" height="6.4" fill="#d5e2f1" />
<rect x="430.16" y="303.85" width="5.8" height="6.4" fill="#ebf1f8" />
<rect x="435.92" y="303.85" width="5.8" height="6.4" fill="#6e6e6e" />
<rect x="441.67" y="303.85" width="5.8" height="6.4" fill="#6e6e6e" />
<rect x="447.43" y="303.85" width="5.8" height="6.4" fill="#f8fafd" />
<rect x="453.18" y="303.85" width="5.8" height="6.4" fill="#fce3d8" />
<rect x="458.94" y="303.85" width="5.8" height="6.4" fill="#fce7de" />
<rect x="464.69" y="303.85" width="5.8" height="6.4" fill="#d5e2f1" />
<rect x="470.45" y="303.85" width="5.8" height="6.4" fill="#fdefe9" />
<rect x="476.2" y="303.85" width="5.8" height="6.4" fill="#ccdcee" />
<rect x="481.96" y="303.85" width="5.8" height="6.4" fill="#fce7de" />
<rect x="487.71" y="303.85" width="5.8" height="6.4" fill="#fef7f4" />
<rect x="493.47" y="303.85" width="5.8" height="6.4" fill="#ffffff" />
<rect x="499.22" y="303.85" width="5.8" height="6.4" fill="#9ebcde" />
<rect x="504.98" y="303.85" width="5.8" height="6.4" fill="#ffffff" />
<rect x="510.73" y="303.85" width="5.8" height="6.4" fill="#d5e2f1" />
<rect x="516.49" y="303.85" width="5.8" height="6.4" fill="#a7c2e2" />
<rect x="522.24" y="303.85" width="5.8" height="6.4" fill="#fdefe9" />
<rect x="528" y="303.85" width="5.8" height="6.4" fill="#f8fafd" />
<rect x="533.75" y="303.85" width="5.8" height="6.4" fill="#fef3ee" />
<line x1="361.1" y1="297.5" x2="361.1" y2="310.2" stroke="#3c3c3c" stroke-width="0.7" />
<line x1="539.5" y1="297.5" x2="539.5" y2="310.2" stroke="#3c3c3c" stroke-width="0.7" />
<line x1="51.3" y1="297.5" x2="539.6" y2="297.5" stroke="#3c3c3c" stroke-width="0.7" />
<line x1="51.3" y1="310.2" x2="539.6" y2="310.2" stroke="#555" stroke-width="0.8" />
<rect x="51.3" y="314.5" width="5.95" height="6.45" fill="#fef7f4" />
<rect x="57.2" y="314.5" width="5.95" height="6.45" fill="#fef3ee" />
<rect x="63.1" y="314.5" width="5.95" height="6.45" fill="#fef3ee" />
<rect x="69" y="314.5" width="5.95" height="6.45" fill="#fdefe9" />
<rect x="74.9" y="314.5" width="5.95" height="6.45" fill="#c2d5ec" />
<rect x="51.3" y="320.9" width="5.95" height="6.45" fill="#fdefe9" />
<rect x="57.2" y="320.9" width="5.95" height="6.45" fill="#fcebe4" />
<rect x="63.1" y="320.9" width="5.95" height="6.45" fill="#e5edf6" />
<rect x="69" y="320.9" width="5.95" height="6.45" fill="#f2f6fb" />
<rect x="74.9" y="320.9" width="5.95" height="6.45" fill="#b9cfe9" />
<line x1="51.3" y1="320.9" x2="80.8" y2="320.9" stroke="#1e1e1e" stroke-width="0.75" />
<line x1="51.3" y1="314.5" x2="51.3" y2="327.3" stroke="#3c3c3c" stroke-width="0.7" />
<line x1="80.8" y1="314.5" x2="80.8" y2="327.3" stroke="#3c3c3c" stroke-width="0.7" />
<rect x="88.8" y="314.5" width="5.82" height="6.45" fill="#9ebcde" />
<rect x="94.57" y="314.5" width="5.82" height="6.45" fill="#ccdcee" />
<rect x="100.34" y="314.5" width="5.82" height="6.45" fill="#ccdcee" />
<rect x="106.11" y="314.5" width="5.82" height="6.45" fill="#c2d5ec" />
<rect x="111.88" y="314.5" width="5.82" height="6.45" fill="#ebf1f8" />
<rect x="117.65" y="314.5" width="5.82" height="6.45" fill="#6a95c8" />
<rect x="123.42" y="314.5" width="5.82" height="6.45" fill="#6a95c8" />
<rect x="129.19" y="314.5" width="5.82" height="6.45" fill="#84a8d3" />
<rect x="134.96" y="314.5" width="5.82" height="6.45" fill="#ebf1f8" />
<rect x="140.73" y="314.5" width="5.82" height="6.45" fill="#6e6e6e" />
<rect x="146.5" y="314.5" width="5.82" height="6.45" fill="#b9cfe9" />
<rect x="152.27" y="314.5" width="5.82" height="6.45" fill="#e5edf6" />
<rect x="158.04" y="314.5" width="5.82" height="6.45" fill="#f8fafd" />
<rect x="163.81" y="314.5" width="5.82" height="6.45" fill="#ebf1f8" />
<rect x="169.58" y="314.5" width="5.82" height="6.45" fill="#ffffff" />
<rect x="175.35" y="314.5" width="5.82" height="6.45" fill="#b9cfe9" />
<rect x="181.12" y="314.5" width="5.82" height="6.45" fill="#f2f6fb" />
<rect x="186.89" y="314.5" width="5.82" height="6.45" fill="#f2f6fb" />
<rect x="192.66" y="314.5" width="5.82" height="6.45" fill="#ebf1f8" />
<rect x="198.43" y="314.5" width="5.82" height="6.45" fill="#f8fafd" />
<rect x="204.2" y="314.5" width="5.82" height="6.45" fill="#f2f6fb" />
<rect x="209.97" y="314.5" width="5.82" height="6.45" fill="#d5e2f1" />
<rect x="215.74" y="314.5" width="5.82" height="6.45" fill="#dee8f4" />
<rect x="221.51" y="314.5" width="5.82" height="6.45" fill="#f8fafd" />
<rect x="88.8" y="320.9" width="5.82" height="6.45" fill="#ffffff" />
<rect x="94.57" y="320.9" width="5.82" height="6.45" fill="#dee8f4" />
<rect x="100.34" y="320.9" width="5.82" height="6.45" fill="#9ebcde" />
<rect x="106.11" y="320.9" width="5.82" height="6.45" fill="#ccdcee" />
<rect x="111.88" y="320.9" width="5.82" height="6.45" fill="#ffffff" />
<rect x="117.65" y="320.9" width="5.82" height="6.45" fill="#5888c0" />
<rect x="123.42" y="320.9" width="5.82" height="6.45" fill="#7ba2cf" />
<rect x="129.19" y="320.9" width="5.82" height="6.45" fill="#e5edf6" />
<rect x="134.96" y="320.9" width="5.82" height="6.45" fill="#f2f6fb" />
<rect x="140.73" y="320.9" width="5.82" height="6.45" fill="#dee8f4" />
<rect x="146.5" y="320.9" width="5.82" height="6.45" fill="#fef7f4" />
<rect x="152.27" y="320.9" width="5.82" height="6.45" fill="#ebf1f8" />
<rect x="158.04" y="320.9" width="5.82" height="6.45" fill="#f2f6fb" />
<rect x="163.81" y="320.9" width="5.82" height="6.45" fill="#f2f6fb" />
<rect x="169.58" y="320.9" width="5.82" height="6.45" fill="#f8fafd" />
<rect x="175.35" y="320.9" width="5.82" height="6.45" fill="#b0c9e6" />
<rect x="181.12" y="320.9" width="5.82" height="6.45" fill="#f8fafd" />
<rect x="186.89" y="320.9" width="5.82" height="6.45" fill="#f8fafd" />
<rect x="192.66" y="320.9" width="5.82" height="6.45" fill="#fef7f4" />
<rect x="198.43" y="320.9" width="5.82" height="6.45" fill="#ffffff" />
<rect x="204.2" y="320.9" width="5.82" height="6.45" fill="#fef3ee" />
<rect x="209.97" y="320.9" width="5.82" height="6.45" fill="#ccdcee" />
<rect x="215.74" y="320.9" width="5.82" height="6.45" fill="#8dafd7" />
<rect x="221.51" y="320.9" width="5.82" height="6.45" fill="#f8fafd" />
<line x1="88.8" y1="320.9" x2="227.28" y2="320.9" stroke="#1e1e1e" stroke-width="0.75" />
<line x1="88.8" y1="314.5" x2="88.8" y2="327.3" stroke="#3c3c3c" stroke-width="0.7" />
<line x1="227.28" y1="314.5" x2="227.28" y2="327.3" stroke="#3c3c3c" stroke-width="0.7" />
<rect x="235.6" y="314.5" width="5.88" height="6.45" fill="#dee8f4" />
<rect x="241.43" y="314.5" width="5.88" height="6.45" fill="#fce7de" />
<rect x="247.26" y="314.5" width="5.88" height="6.45" fill="#e5edf6" />
<rect x="253.09" y="314.5" width="5.88" height="6.45" fill="#e5edf6" />
<rect x="258.92" y="314.5" width="5.88" height="6.45" fill="#fbdfd3" />
<rect x="264.75" y="314.5" width="5.88" height="6.45" fill="#c2d5ec" />
<rect x="270.58" y="314.5" width="5.88" height="6.45" fill="#f8fafd" />
<rect x="276.41" y="314.5" width="5.88" height="6.45" fill="#ffffff" />
<rect x="235.6" y="320.9" width="5.88" height="6.45" fill="#fad7c8" />
<rect x="241.43" y="320.9" width="5.88" height="6.45" fill="#ebf1f8" />
<rect x="247.26" y="320.9" width="5.88" height="6.45" fill="#f8fafd" />
<rect x="253.09" y="320.9" width="5.88" height="6.45" fill="#fce7de" />
<rect x="258.92" y="320.9" width="5.88" height="6.45" fill="#f8fafd" />
<rect x="264.75" y="320.9" width="5.88" height="6.45" fill="#f9cebe" />
<rect x="270.58" y="320.9" width="5.88" height="6.45" fill="#fad7c8" />
<rect x="276.41" y="320.9" width="5.88" height="6.45" fill="#f9cebe" />
<line x1="235.6" y1="314.5" x2="235.6" y2="327.3" stroke="#3c3c3c" stroke-width="0.7" />
<line x1="282.24" y1="314.5" x2="282.24" y2="327.3" stroke="#3c3c3c" stroke-width="0.7" />
<rect x="291.6" y="314.5" width="5.8" height="6.45" fill="#f7bda9" />
<rect x="297.35" y="314.5" width="5.8" height="6.45" fill="#f6b59e" />
<rect x="303.1" y="314.5" width="5.8" height="6.45" fill="#fad7c8" />
<rect x="308.85" y="314.5" width="5.8" height="6.45" fill="#f7bda9" />
<rect x="314.6" y="314.5" width="5.8" height="6.45" fill="#fbdfd3" />
<rect x="320.35" y="314.5" width="5.8" height="6.45" fill="#f8cab8" />
<rect x="326.1" y="314.5" width="5.8" height="6.45" fill="#f9cebe" />
<rect x="331.85" y="314.5" width="5.8" height="6.45" fill="#fefbfa" />
<rect x="337.6" y="314.5" width="5.8" height="6.45" fill="#f9cebe" />
<rect x="343.35" y="314.5" width="5.8" height="6.45" fill="#fad7c8" />
<rect x="291.6" y="320.9" width="5.8" height="6.45" fill="#fbdfd3" />
<rect x="297.35" y="320.9" width="5.8" height="6.45" fill="#f9cebe" />
<rect x="303.1" y="320.9" width="5.8" height="6.45" fill="#fbdfd3" />
<rect x="308.85" y="320.9" width="5.8" height="6.45" fill="#fdefe9" />
<rect x="314.6" y="320.9" width="5.8" height="6.45" fill="#fbdfd3" />
<rect x="320.35" y="320.9" width="5.8" height="6.45" fill="#fbdfd3" />
<rect x="326.1" y="320.9" width="5.8" height="6.45" fill="#fce3d8" />
<rect x="331.85" y="320.9" width="5.8" height="6.45" fill="#fce3d8" />
<rect x="337.6" y="320.9" width="5.8" height="6.45" fill="#fce7de" />
<rect x="343.35" y="320.9" width="5.8" height="6.45" fill="#fce7de" />
<line x1="291.6" y1="314.5" x2="291.6" y2="327.3" stroke="#3c3c3c" stroke-width="0.7" />
<line x1="349.1" y1="314.5" x2="349.1" y2="327.3" stroke="#3c3c3c" stroke-width="0.7" />
<rect x="361.1" y="314.5" width="5.8" height="6.45" fill="#f2f6fb" />
<rect x="366.86" y="314.5" width="5.8" height="6.45" fill="#fce3d8" />
<rect x="372.61" y="314.5" width="5.8" height="6.45" fill="#fadbce" />
<rect x="378.37" y="314.5" width="5.8" height="6.45" fill="#fef3ee" />
<rect x="384.12" y="314.5" width="5.8" height="6.45" fill="#f8fafd" />
<rect x="389.88" y="314.5" width="5.8" height="6.45" fill="#f8c6b3" />
<rect x="395.63" y="314.5" width="5.8" height="6.45" fill="#ebf1f8" />
<rect x="401.38" y="314.5" width="5.8" height="6.45" fill="#fdefe9" />
<rect x="407.14" y="314.5" width="5.8" height="6.45" fill="#fce3d8" />
<rect x="412.9" y="314.5" width="5.8" height="6.45" fill="#f8c6b3" />
<rect x="418.65" y="314.5" width="5.8" height="6.45" fill="#fdefe9" />
<rect x="424.41" y="314.5" width="5.8" height="6.45" fill="#dee8f4" />
<rect x="430.16" y="314.5" width="5.8" height="6.45" fill="#dee8f4" />
<rect x="435.92" y="314.5" width="5.8" height="6.45" fill="#f8fafd" />
<rect x="441.67" y="314.5" width="5.8" height="6.45" fill="#ccdcee" />
<rect x="447.43" y="314.5" width="5.8" height="6.45" fill="#fce7de" />
<rect x="453.18" y="314.5" width="5.8" height="6.45" fill="#ebf1f8" />
<rect x="458.94" y="314.5" width="5.8" height="6.45" fill="#fef7f4" />
<rect x="464.69" y="314.5" width="5.8" height="6.45" fill="#fad7c8" />
<rect x="470.45" y="314.5" width="5.8" height="6.45" fill="#f2f6fb" />
<rect x="476.2" y="314.5" width="5.8" height="6.45" fill="#fce7de" />
<rect x="481.96" y="314.5" width="5.8" height="6.45" fill="#fce3d8" />
<rect x="487.71" y="314.5" width="5.8" height="6.45" fill="#ebf1f8" />
<rect x="493.47" y="314.5" width="5.8" height="6.45" fill="#f2f6fb" />
<rect x="499.22" y="314.5" width="5.8" height="6.45" fill="#ebf1f8" />
<rect x="504.98" y="314.5" width="5.8" height="6.45" fill="#fcfdfe" />
<rect x="510.73" y="314.5" width="5.8" height="6.45" fill="#fcfdfe" />
<rect x="516.49" y="314.5" width="5.8" height="6.45" fill="#f9cebe" />
<rect x="522.24" y="314.5" width="5.8" height="6.45" fill="#f8fafd" />
<rect x="528" y="314.5" width="5.8" height="6.45" fill="#b9cfe9" />
<rect x="533.75" y="314.5" width="5.8" height="6.45" fill="#fad7c8" />
<rect x="361.1" y="320.9" width="5.8" height="6.45" fill="#f5f8fc" />
<rect x="366.86" y="320.9" width="5.8" height="6.45" fill="#d5e2f1" />
<rect x="372.61" y="320.9" width="5.8" height="6.45" fill="#fef3ee" />
<rect x="378.37" y="320.9" width="5.8" height="6.45" fill="#fef3ee" />
<rect x="384.12" y="320.9" width="5.8" height="6.45" fill="#fcfdfe" />
<rect x="389.88" y="320.9" width="5.8" height="6.45" fill="#dee8f4" />
<rect x="395.63" y="320.9" width="5.8" height="6.45" fill="#fef3ee" />
<rect x="401.38" y="320.9" width="5.8" height="6.45" fill="#fbdfd3" />
<rect x="407.14" y="320.9" width="5.8" height="6.45" fill="#fef7f4" />
<rect x="412.9" y="320.9" width="5.8" height="6.45" fill="#f8fafd" />
<rect x="418.65" y="320.9" width="5.8" height="6.45" fill="#ffffff" />
<rect x="424.41" y="320.9" width="5.8" height="6.45" fill="#f2f6fb" />
<rect x="430.16" y="320.9" width="5.8" height="6.45" fill="#c2d5ec" />
<rect x="435.92" y="320.9" width="5.8" height="6.45" fill="#f5ac94" />
<rect x="441.67" y="320.9" width="5.8" height="6.45" fill="#ebf1f8" />
<rect x="447.43" y="320.9" width="5.8" height="6.45" fill="#f8fafd" />
<rect x="453.18" y="320.9" width="5.8" height="6.45" fill="#b0c9e6" />
<rect x="458.94" y="320.9" width="5.8" height="6.45" fill="#ffffff" />
<rect x="464.69" y="320.9" width="5.8" height="6.45" fill="#fcfdfe" />
<rect x="470.45" y="320.9" width="5.8" height="6.45" fill="#f2f6fb" />
<rect x="476.2" y="320.9" width="5.8" height="6.45" fill="#fce7de" />
<rect x="481.96" y="320.9" width="5.8" height="6.45" fill="#fdefe9" />
<rect x="487.71" y="320.9" width="5.8" height="6.45" fill="#f2f6fb" />
<rect x="493.47" y="320.9" width="5.8" height="6.45" fill="#f8fafd" />
<rect x="499.22" y="320.9" width="5.8" height="6.45" fill="#ebf1f8" />
<rect x="504.98" y="320.9" width="5.8" height="6.45" fill="#fef7f4" />
<rect x="510.73" y="320.9" width="5.8" height="6.45" fill="#fef7f4" />
<rect x="516.49" y="320.9" width="5.8" height="6.45" fill="#ffffff" />
<rect x="522.24" y="320.9" width="5.8" height="6.45" fill="#f2f6fb" />
<rect x="528" y="320.9" width="5.8" height="6.45" fill="#fce7de" />
<rect x="533.75" y="320.9" width="5.8" height="6.45" fill="#fdefe9" />
<line x1="361.1" y1="314.5" x2="361.1" y2="327.3" stroke="#3c3c3c" stroke-width="0.7" />
<line x1="539.5" y1="314.5" x2="539.5" y2="327.3" stroke="#3c3c3c" stroke-width="0.7" />
<line x1="51.3" y1="314.5" x2="539.6" y2="314.5" stroke="#3c3c3c" stroke-width="0.7" />
<line x1="51.3" y1="327.3" x2="539.6" y2="327.3" stroke="#555" stroke-width="0.8" />
<rect x="38" y="263.3" width="2.9" height="13.3" fill="#bc3c2a" />
<text x="36.2" y="272.35" font-size="6.68" text-anchor="end" font-weight="normal" fill="#231f20" >MK</text>
<text x="43.4" y="268.9" font-size="6.68" text-anchor="start" font-weight="normal" fill="#231f20" >T1</text>
<text x="43.4" y="275.7" font-size="6.68" text-anchor="start" font-weight="normal" fill="#231f20" >T2</text>
<rect x="38" y="280.3" width="2.9" height="13.1" fill="#0572b6" />
<text x="36.2" y="289.25" font-size="6.68" text-anchor="end" font-weight="normal" fill="#231f20" >Lym</text>
<text x="43.4" y="285.9" font-size="6.68" text-anchor="start" font-weight="normal" fill="#231f20" >T1</text>
<text x="43.4" y="292.5" font-size="6.68" text-anchor="start" font-weight="normal" fill="#231f20" >T2</text>
<rect x="38" y="297.2" width="2.9" height="13.3" fill="#de8726" />
<text x="36.2" y="306.25" font-size="6.68" text-anchor="end" font-weight="normal" fill="#231f20" >Ery</text>
<text x="43.4" y="302.8" font-size="6.68" text-anchor="start" font-weight="normal" fill="#231f20" >T1</text>
<text x="43.4" y="309.6" font-size="6.68" text-anchor="start" font-weight="normal" fill="#231f20" >T2</text>
<rect x="38" y="314.2" width="2.9" height="13.4" fill="#1e8250" />
<text x="36.2" y="323.3" font-size="6.68" text-anchor="end" font-weight="normal" fill="#231f20" >Mye</text>
<text x="43.4" y="319.8" font-size="6.68" text-anchor="start" font-weight="normal" fill="#231f20" >T1</text>
<text x="43.4" y="326.7" font-size="6.68" text-anchor="start" font-weight="normal" fill="#231f20" >T2</text>
<text x="0.6" y="261.6" font-size="10.5" text-anchor="start" font-weight="bold" fill="#231f20" >e</text>
<text x="6" y="298.5" font-size="6.68" text-anchor="middle" font-weight="normal" fill="#231f20" transform="rotate(-90 6 298.5)" >Lineage preference</text>
<text x="13.6" y="298.5" font-size="6.68" text-anchor="middle" font-weight="normal" fill="#231f20" transform="rotate(-90 13.6 298.5)" >fold change</text>
<rect x="51.3" y="335.3" width="5.95" height="10.9" fill="#bc3c2a" />
<rect x="51.3" y="346.2" width="5.95" height="77.9" fill="#0572b6" />
<rect x="51.3" y="424.1" width="5.95" height="25.3" fill="#de8726" />
<rect x="51.3" y="449.4" width="5.95" height="26.4" fill="#1e8250" />
<line x1="51.3" y1="346.2" x2="57.2" y2="346.2" stroke="#3a3a3a" stroke-width="0.45" stroke-opacity="0.8"/>
<line x1="51.3" y1="424.1" x2="57.2" y2="424.1" stroke="#3a3a3a" stroke-width="0.45" stroke-opacity="0.8"/>
<line x1="51.3" y1="449.4" x2="57.2" y2="449.4" stroke="#3a3a3a" stroke-width="0.45" stroke-opacity="0.8"/>
<rect x="57.2" y="335.3" width="5.95" height="10" fill="#bc3c2a" />
<rect x="57.2" y="345.3" width="5.95" height="75" fill="#0572b6" />
<rect x="57.2" y="420.3" width="5.95" height="29.1" fill="#de8726" />
<rect x="57.2" y="449.4" width="5.95" height="26.4" fill="#1e8250" />
<line x1="57.2" y1="345.3" x2="63.1" y2="345.3" stroke="#3a3a3a" stroke-width="0.45" stroke-opacity="0.8"/>
<line x1="57.2" y1="420.3" x2="63.1" y2="420.3" stroke="#3a3a3a" stroke-width="0.45" stroke-opacity="0.8"/>
<line x1="57.2" y1="449.4" x2="63.1" y2="449.4" stroke="#3a3a3a" stroke-width="0.45" stroke-opacity="0.8"/>
<rect x="63.1" y="335.3" width="5.95" height="9.4" fill="#bc3c2a" />
<rect x="63.1" y="344.7" width="5.95" height="89.7" fill="#0572b6" />
<rect x="63.1" y="434.4" width="5.95" height="23.8" fill="#de8726" />
<rect x="63.1" y="458.2" width="5.95" height="17.6" fill="#1e8250" />
<line x1="63.1" y1="344.7" x2="69" y2="344.7" stroke="#3a3a3a" stroke-width="0.45" stroke-opacity="0.8"/>
<line x1="63.1" y1="434.4" x2="69" y2="434.4" stroke="#3a3a3a" stroke-width="0.45" stroke-opacity="0.8"/>
<line x1="63.1" y1="458.2" x2="69" y2="458.2" stroke="#3a3a3a" stroke-width="0.45" stroke-opacity="0.8"/>
<rect x="69" y="335.3" width="5.95" height="10" fill="#bc3c2a" />
<rect x="69" y="345.3" width="5.95" height="84.7" fill="#0572b6" />
<rect x="69" y="430" width="5.95" height="25.6" fill="#de8726" />
<rect x="69" y="455.6" width="5.95" height="20.2" fill="#1e8250" />
<line x1="69" y1="345.3" x2="74.9" y2="345.3" stroke="#3a3a3a" stroke-width="0.45" stroke-opacity="0.8"/>
<line x1="69" y1="430" x2="74.9" y2="430" stroke="#3a3a3a" stroke-width="0.45" stroke-opacity="0.8"/>
<line x1="69" y1="455.6" x2="74.9" y2="455.6" stroke="#3a3a3a" stroke-width="0.45" stroke-opacity="0.8"/>
<rect x="74.9" y="335.3" width="5.95" height="13.8" fill="#bc3c2a" />
<rect x="74.9" y="349.1" width="5.95" height="100" fill="#0572b6" />
<rect x="74.9" y="449.1" width="5.95" height="18.5" fill="#de8726" />
<rect x="74.9" y="467.6" width="5.95" height="8.2" fill="#1e8250" />
<line x1="74.9" y1="349.1" x2="80.8" y2="349.1" stroke="#3a3a3a" stroke-width="0.45" stroke-opacity="0.8"/>
<line x1="74.9" y1="449.1" x2="80.8" y2="449.1" stroke="#3a3a3a" stroke-width="0.45" stroke-opacity="0.8"/>
<line x1="74.9" y1="467.6" x2="80.8" y2="467.6" stroke="#3a3a3a" stroke-width="0.45" stroke-opacity="0.8"/>
<line x1="51.3" y1="335.3" x2="51.3" y2="475.8" stroke="#3c3c3c" stroke-width="0.7" />
<line x1="57.2" y1="335.3" x2="57.2" y2="475.8" stroke="#3c3c3c" stroke-width="0.7" />
<line x1="63.1" y1="335.3" x2="63.1" y2="475.8" stroke="#3c3c3c" stroke-width="0.7" />
<line x1="69" y1="335.3" x2="69" y2="475.8" stroke="#3c3c3c" stroke-width="0.7" />
<line x1="74.9" y1="335.3" x2="74.9" y2="475.8" stroke="#3c3c3c" stroke-width="0.7" />
<line x1="80.8" y1="335.3" x2="80.8" y2="475.8" stroke="#3c3c3c" stroke-width="0.7" />
<line x1="51.6" y1="480.3" x2="80.5" y2="480.3" stroke="#555" stroke-width="0.8" />
<rect x="88.8" y="335.3" width="5.82" height="1.7" fill="#bc3c2a" />
<rect x="88.8" y="337" width="5.82" height="113.4" fill="#0572b6" />
<rect x="88.8" y="450.4" width="5.82" height="14.1" fill="#de8726" />
<rect x="88.8" y="464.5" width="5.82" height="11.3" fill="#1e8250" />
<line x1="88.8" y1="337" x2="94.57" y2="337" stroke="#3a3a3a" stroke-width="0.45" stroke-opacity="0.8"/>
<line x1="88.8" y1="450.4" x2="94.57" y2="450.4" stroke="#3a3a3a" stroke-width="0.45" stroke-opacity="0.8"/>
<line x1="88.8" y1="464.5" x2="94.57" y2="464.5" stroke="#3a3a3a" stroke-width="0.45" stroke-opacity="0.8"/>
<rect x="94.57" y="335.3" width="5.82" height="1.7" fill="#bc3c2a" />
<rect x="94.57" y="337" width="5.82" height="105.2" fill="#0572b6" />
<rect x="94.57" y="442.2" width="5.82" height="22.3" fill="#de8726" />
<rect x="94.57" y="464.5" width="5.82" height="11.3" fill="#1e8250" />
<line x1="94.57" y1="337" x2="100.34" y2="337" stroke="#3a3a3a" stroke-width="0.45" stroke-opacity="0.8"/>
<line x1="94.57" y1="442.2" x2="100.34" y2="442.2" stroke="#3a3a3a" stroke-width="0.45" stroke-opacity="0.8"/>
<line x1="94.57" y1="464.5" x2="100.34" y2="464.5" stroke="#3a3a3a" stroke-width="0.45" stroke-opacity="0.8"/>
<rect x="100.34" y="335.3" width="5.82" height="1.7" fill="#bc3c2a" />
<rect x="100.34" y="337" width="5.82" height="107.5" fill="#0572b6" />
<rect x="100.34" y="444.5" width="5.82" height="23.5" fill="#de8726" />
<rect x="100.34" y="468" width="5.82" height="7.8" fill="#1e8250" />
<line x1="100.34" y1="337" x2="106.11" y2="337" stroke="#3a3a3a" stroke-width="0.45" stroke-opacity="0.8"/>
<line x1="100.34" y1="444.5" x2="106.11" y2="444.5" stroke="#3a3a3a" stroke-width="0.45" stroke-opacity="0.8"/>
<line x1="100.34" y1="468" x2="106.11" y2="468" stroke="#3a3a3a" stroke-width="0.45" stroke-opacity="0.8"/>
<rect x="106.11" y="335.3" width="5.82" height="2.6" fill="#bc3c2a" />
<rect x="106.11" y="337.9" width="5.82" height="113.1" fill="#0572b6" />
<rect x="106.11" y="451" width="5.82" height="16.4" fill="#de8726" />
<rect x="106.11" y="467.4" width="5.82" height="8.4" fill="#1e8250" />
<line x1="106.11" y1="337.9" x2="111.88" y2="337.9" stroke="#3a3a3a" stroke-width="0.45" stroke-opacity="0.8"/>
<line x1="106.11" y1="451" x2="111.88" y2="451" stroke="#3a3a3a" stroke-width="0.45" stroke-opacity="0.8"/>
<line x1="106.11" y1="467.4" x2="111.88" y2="467.4" stroke="#3a3a3a" stroke-width="0.45" stroke-opacity="0.8"/>
<rect x="111.88" y="335.3" width="5.82" height="3.5" fill="#bc3c2a" />
<rect x="111.88" y="338.8" width="5.82" height="98.1" fill="#0572b6" />
<rect x="111.88" y="436.9" width="5.82" height="23.2" fill="#de8726" />
<rect x="111.88" y="460.1" width="5.82" height="15.7" fill="#1e8250" />
<line x1="111.88" y1="338.8" x2="117.65" y2="338.8" stroke="#3a3a3a" stroke-width="0.45" stroke-opacity="0.8"/>
<line x1="111.88" y1="436.9" x2="117.65" y2="436.9" stroke="#3a3a3a" stroke-width="0.45" stroke-opacity="0.8"/>
<line x1="111.88" y1="460.1" x2="117.65" y2="460.1" stroke="#3a3a3a" stroke-width="0.45" stroke-opacity="0.8"/>
<rect x="117.65" y="335.3" width="5.82" height="1.2" fill="#bc3c2a" />
<rect x="117.65" y="336.5" width="5.82" height="124.2" fill="#0572b6" />
<rect x="117.65" y="460.7" width="5.82" height="12.3" fill="#de8726" />
<rect x="117.65" y="473" width="5.82" height="2.8" fill="#1e8250" />
<line x1="117.65" y1="336.5" x2="123.42" y2="336.5" stroke="#3a3a3a" stroke-width="0.45" stroke-opacity="0.8"/>
<line x1="117.65" y1="460.7" x2="123.42" y2="460.7" stroke="#3a3a3a" stroke-width="0.45" stroke-opacity="0.8"/>
<line x1="117.65" y1="473" x2="123.42" y2="473" stroke="#3a3a3a" stroke-width="0.45" stroke-opacity="0.8"/>
<rect x="123.42" y="335.3" width="5.82" height="7" fill="#bc3c2a" />
<rect x="123.42" y="342.3" width="5.82" height="118.4" fill="#0572b6" />
<rect x="123.42" y="460.7" width="5.82" height="12.3" fill="#de8726" />
<rect x="123.42" y="473" width="5.82" height="2.8" fill="#1e8250" />
<line x1="123.42" y1="342.3" x2="129.19" y2="342.3" stroke="#3a3a3a" stroke-width="0.45" stroke-opacity="0.8"/>
<line x1="123.42" y1="460.7" x2="129.19" y2="460.7" stroke="#3a3a3a" stroke-width="0.45" stroke-opacity="0.8"/>
<line x1="123.42" y1="473" x2="129.19" y2="473" stroke="#3a3a3a" stroke-width="0.45" stroke-opacity="0.8"/>
<rect x="129.19" y="335.3" width="5.82" height="5" fill="#bc3c2a" />
<rect x="129.19" y="340.3" width="5.82" height="108.6" fill="#0572b6" />
<rect x="129.19" y="448.9" width="5.82" height="19.7" fill="#de8726" />
<rect x="129.19" y="468.6" width="5.82" height="7.2" fill="#1e8250" />
<line x1="129.19" y1="340.3" x2="134.96" y2="340.3" stroke="#3a3a3a" stroke-width="0.45" stroke-opacity="0.8"/>
<line x1="129.19" y1="448.9" x2="134.96" y2="448.9" stroke="#3a3a3a" stroke-width="0.45" stroke-opacity="0.8"/>
<line x1="129.19" y1="468.6" x2="134.96" y2="468.6" stroke="#3a3a3a" stroke-width="0.45" stroke-opacity="0.8"/>
<rect x="134.96" y="335.3" width="5.82" height="2.9" fill="#bc3c2a" />
<rect x="134.96" y="338.2" width="5.82" height="104.3" fill="#0572b6" />
<rect x="134.96" y="442.5" width="5.82" height="14.7" fill="#de8726" />
<rect x="134.96" y="457.2" width="5.82" height="18.6" fill="#1e8250" />
<line x1="134.96" y1="338.2" x2="140.73" y2="338.2" stroke="#3a3a3a" stroke-width="0.45" stroke-opacity="0.8"/>
<line x1="134.96" y1="442.5" x2="140.73" y2="442.5" stroke="#3a3a3a" stroke-width="0.45" stroke-opacity="0.8"/>
<line x1="134.96" y1="457.2" x2="140.73" y2="457.2" stroke="#3a3a3a" stroke-width="0.45" stroke-opacity="0.8"/>
<rect x="140.73" y="335.3" width="5.82" height="5.3" fill="#bc3c2a" />
<rect x="140.73" y="340.6" width="5.82" height="107.8" fill="#0572b6" />
<rect x="140.73" y="448.4" width="5.82" height="22" fill="#de8726" />
<rect x="140.73" y="470.4" width="5.82" height="5.4" fill="#1e8250" />
<line x1="140.73" y1="340.6" x2="146.5" y2="340.6" stroke="#3a3a3a" stroke-width="0.45" stroke-opacity="0.8"/>
<line x1="140.73" y1="448.4" x2="146.5" y2="448.4" stroke="#3a3a3a" stroke-width="0.45" stroke-opacity="0.8"/>
<line x1="140.73" y1="470.4" x2="146.5" y2="470.4" stroke="#3a3a3a" stroke-width="0.45" stroke-opacity="0.8"/>
<rect x="146.5" y="335.3" width="5.82" height="1.7" fill="#bc3c2a" />
<rect x="146.5" y="337" width="5.82" height="107" fill="#0572b6" />
<rect x="146.5" y="444" width="5.82" height="19.6" fill="#de8726" />
<rect x="146.5" y="463.6" width="5.82" height="12.2" fill="#1e8250" />
<line x1="146.5" y1="337" x2="152.27" y2="337" stroke="#3a3a3a" stroke-width="0.45" stroke-opacity="0.8"/>
<line x1="146.5" y1="444" x2="152.27" y2="444" stroke="#3a3a3a" stroke-width="0.45" stroke-opacity="0.8"/>
<line x1="146.5" y1="463.6" x2="152.27" y2="463.6" stroke="#3a3a3a" stroke-width="0.45" stroke-opacity="0.8"/>
<rect x="152.27" y="335.3" width="5.82" height="5.9" fill="#bc3c2a" />
<rect x="152.27" y="341.2" width="5.82" height="104.2" fill="#0572b6" />
<rect x="152.27" y="445.4" width="5.82" height="16.8" fill="#de8726" />
<rect x="152.27" y="462.2" width="5.82" height="13.6" fill="#1e8250" />
<line x1="152.27" y1="341.2" x2="158.04" y2="341.2" stroke="#3a3a3a" stroke-width="0.45" stroke-opacity="0.8"/>
<line x1="152.27" y1="445.4" x2="158.04" y2="445.4" stroke="#3a3a3a" stroke-width="0.45" stroke-opacity="0.8"/>
<line x1="152.27" y1="462.2" x2="158.04" y2="462.2" stroke="#3a3a3a" stroke-width="0.45" stroke-opacity="0.8"/>
<rect x="158.04" y="335.3" width="5.82" height="0.6" fill="#bc3c2a" />
<rect x="158.04" y="335.9" width="5.82" height="105.4" fill="#0572b6" />
<rect x="158.04" y="441.3" width="5.82" height="16.2" fill="#de8726" />
<rect x="158.04" y="457.5" width="5.82" height="18.3" fill="#1e8250" />
<line x1="158.04" y1="335.9" x2="163.81" y2="335.9" stroke="#3a3a3a" stroke-width="0.45" stroke-opacity="0.8"/>
<line x1="158.04" y1="441.3" x2="163.81" y2="441.3" stroke="#3a3a3a" stroke-width="0.45" stroke-opacity="0.8"/>
<line x1="158.04" y1="457.5" x2="163.81" y2="457.5" stroke="#3a3a3a" stroke-width="0.45" stroke-opacity="0.8"/>
<rect x="163.81" y="335.3" width="5.82" height="1.1" fill="#bc3c2a" />
<rect x="163.81" y="336.4" width="5.82" height="103.5" fill="#0572b6" />
<rect x="163.81" y="439.9" width="5.82" height="19.6" fill="#de8726" />
<rect x="163.81" y="459.5" width="5.82" height="16.3" fill="#1e8250" />
<line x1="163.81" y1="336.4" x2="169.58" y2="336.4" stroke="#3a3a3a" stroke-width="0.45" stroke-opacity="0.8"/>
<line x1="163.81" y1="439.9" x2="169.58" y2="439.9" stroke="#3a3a3a" stroke-width="0.45" stroke-opacity="0.8"/>
<line x1="163.81" y1="459.5" x2="169.58" y2="459.5" stroke="#3a3a3a" stroke-width="0.45" stroke-opacity="0.8"/>
<rect x="169.58" y="335.3" width="5.82" height="4.1" fill="#bc3c2a" />
<rect x="169.58" y="339.4" width="5.82" height="93.1" fill="#0572b6" />
<rect x="169.58" y="432.5" width="5.82" height="27.3" fill="#de8726" />
<rect x="169.58" y="459.8" width="5.82" height="16" fill="#1e8250" />
<line x1="169.58" y1="339.4" x2="175.35" y2="339.4" stroke="#3a3a3a" stroke-width="0.45" stroke-opacity="0.8"/>
<line x1="169.58" y1="432.5" x2="175.35" y2="432.5" stroke="#3a3a3a" stroke-width="0.45" stroke-opacity="0.8"/>
<line x1="169.58" y1="459.8" x2="175.35" y2="459.8" stroke="#3a3a3a" stroke-width="0.45" stroke-opacity="0.8"/>
<rect x="175.35" y="335.3" width="5.82" height="8.8" fill="#bc3c2a" />
<rect x="175.35" y="344.1" width="5.82" height="104" fill="#0572b6" />
<rect x="175.35" y="448.1" width="5.82" height="21.1" fill="#de8726" />
<rect x="175.35" y="469.2" width="5.82" height="6.6" fill="#1e8250" />
<line x1="175.35" y1="344.1" x2="181.12" y2="344.1" stroke="#3a3a3a" stroke-width="0.45" stroke-opacity="0.8"/>
<line x1="175.35" y1="448.1" x2="181.12" y2="448.1" stroke="#3a3a3a" stroke-width="0.45" stroke-opacity="0.8"/>
<line x1="175.35" y1="469.2" x2="181.12" y2="469.2" stroke="#3a3a3a" stroke-width="0.45" stroke-opacity="0.8"/>
<rect x="181.12" y="335.3" width="5.82" height="0" fill="#bc3c2a" />
<rect x="181.12" y="335.3" width="5.82" height="101.1" fill="#0572b6" />
<rect x="181.12" y="436.4" width="5.82" height="21.6" fill="#de8726" />
<rect x="181.12" y="458" width="5.82" height="17.8" fill="#1e8250" />
<line x1="181.12" y1="335.3" x2="186.89" y2="335.3" stroke="#3a3a3a" stroke-width="0.45" stroke-opacity="0.8"/>
<line x1="181.12" y1="436.4" x2="186.89" y2="436.4" stroke="#3a3a3a" stroke-width="0.45" stroke-opacity="0.8"/>
<line x1="181.12" y1="458" x2="186.89" y2="458" stroke="#3a3a3a" stroke-width="0.45" stroke-opacity="0.8"/>
<rect x="186.89" y="335.3" width="5.82" height="1.1" fill="#bc3c2a" />
<rect x="186.89" y="336.4" width="5.82" height="101.1" fill="#0572b6" />
<rect x="186.89" y="437.5" width="5.82" height="20.8" fill="#de8726" />
<rect x="186.89" y="458.3" width="5.82" height="17.5" fill="#1e8250" />
<line x1="186.89" y1="336.4" x2="192.66" y2="336.4" stroke="#3a3a3a" stroke-width="0.45" stroke-opacity="0.8"/>
<line x1="186.89" y1="437.5" x2="192.66" y2="437.5" stroke="#3a3a3a" stroke-width="0.45" stroke-opacity="0.8"/>
<line x1="186.89" y1="458.3" x2="192.66" y2="458.3" stroke="#3a3a3a" stroke-width="0.45" stroke-opacity="0.8"/>
<rect x="192.66" y="335.3" width="5.82" height="7" fill="#bc3c2a" />
<rect x="192.66" y="342.3" width="5.82" height="94.1" fill="#0572b6" />
<rect x="192.66" y="436.4" width="5.82" height="24.9" fill="#de8726" />
<rect x="192.66" y="461.3" width="5.82" height="14.5" fill="#1e8250" />
<line x1="192.66" y1="342.3" x2="198.43" y2="342.3" stroke="#3a3a3a" stroke-width="0.45" stroke-opacity="0.8"/>
<line x1="192.66" y1="436.4" x2="198.43" y2="436.4" stroke="#3a3a3a" stroke-width="0.45" stroke-opacity="0.8"/>
<line x1="192.66" y1="461.3" x2="198.43" y2="461.3" stroke="#3a3a3a" stroke-width="0.45" stroke-opacity="0.8"/>
<rect x="198.43" y="335.3" width="5.82" height="2.9" fill="#bc3c2a" />
<rect x="198.43" y="338.2" width="5.82" height="92.9" fill="#0572b6" />
<rect x="198.43" y="431.1" width="5.82" height="24.9" fill="#de8726" />
<rect x="198.43" y="456" width="5.82" height="19.8" fill="#1e8250" />
<line x1="198.43" y1="338.2" x2="204.2" y2="338.2" stroke="#3a3a3a" stroke-width="0.45" stroke-opacity="0.8"/>
<line x1="198.43" y1="431.1" x2="204.2" y2="431.1" stroke="#3a3a3a" stroke-width="0.45" stroke-opacity="0.8"/>
<line x1="198.43" y1="456" x2="204.2" y2="456" stroke="#3a3a3a" stroke-width="0.45" stroke-opacity="0.8"/>
<rect x="204.2" y="335.3" width="5.82" height="4.1" fill="#bc3c2a" />
<rect x="204.2" y="339.4" width="5.82" height="91.1" fill="#0572b6" />
<rect x="204.2" y="430.5" width="5.82" height="23.4" fill="#de8726" />
<rect x="204.2" y="453.9" width="5.82" height="21.9" fill="#1e8250" />
<line x1="204.2" y1="339.4" x2="209.97" y2="339.4" stroke="#3a3a3a" stroke-width="0.45" stroke-opacity="0.8"/>
<line x1="204.2" y1="430.5" x2="209.97" y2="430.5" stroke="#3a3a3a" stroke-width="0.45" stroke-opacity="0.8"/>
<line x1="204.2" y1="453.9" x2="209.97" y2="453.9" stroke="#3a3a3a" stroke-width="0.45" stroke-opacity="0.8"/>
<rect x="209.97" y="335.3" width="5.82" height="9.4" fill="#bc3c2a" />
<rect x="209.97" y="344.7" width="5.82" height="106.9" fill="#0572b6" />
<rect x="209.97" y="451.6" width="5.82" height="15.5" fill="#de8726" />
<rect x="209.97" y="467.1" width="5.82" height="8.7" fill="#1e8250" />
<line x1="209.97" y1="344.7" x2="215.74" y2="344.7" stroke="#3a3a3a" stroke-width="0.45" stroke-opacity="0.8"/>
<line x1="209.97" y1="451.6" x2="215.74" y2="451.6" stroke="#3a3a3a" stroke-width="0.45" stroke-opacity="0.8"/>
<line x1="209.97" y1="467.1" x2="215.74" y2="467.1" stroke="#3a3a3a" stroke-width="0.45" stroke-opacity="0.8"/>
<rect x="215.74" y="335.3" width="5.82" height="12.3" fill="#bc3c2a" />
<rect x="215.74" y="347.6" width="5.82" height="109" fill="#0572b6" />
<rect x="215.74" y="456.6" width="5.82" height="11.1" fill="#de8726" />
<rect x="215.74" y="467.7" width="5.82" height="8.1" fill="#1e8250" />
<line x1="215.74" y1="347.6" x2="221.51" y2="347.6" stroke="#3a3a3a" stroke-width="0.45" stroke-opacity="0.8"/>
<line x1="215.74" y1="456.6" x2="221.51" y2="456.6" stroke="#3a3a3a" stroke-width="0.45" stroke-opacity="0.8"/>
<line x1="215.74" y1="467.7" x2="221.51" y2="467.7" stroke="#3a3a3a" stroke-width="0.45" stroke-opacity="0.8"/>
<rect x="221.51" y="335.3" width="5.82" height="7" fill="#bc3c2a" />
<rect x="221.51" y="342.3" width="5.82" height="99.9" fill="#0572b6" />
<rect x="221.51" y="442.2" width="5.82" height="14.7" fill="#de8726" />
<rect x="221.51" y="456.9" width="5.82" height="18.9" fill="#1e8250" />
<line x1="221.51" y1="342.3" x2="227.28" y2="342.3" stroke="#3a3a3a" stroke-width="0.45" stroke-opacity="0.8"/>
<line x1="221.51" y1="442.2" x2="227.28" y2="442.2" stroke="#3a3a3a" stroke-width="0.45" stroke-opacity="0.8"/>
<line x1="221.51" y1="456.9" x2="227.28" y2="456.9" stroke="#3a3a3a" stroke-width="0.45" stroke-opacity="0.8"/>
<line x1="88.8" y1="335.3" x2="88.8" y2="475.8" stroke="#3c3c3c" stroke-width="0.7" />
<line x1="94.57" y1="335.3" x2="94.57" y2="475.8" stroke="#3c3c3c" stroke-width="0.7" />
<line x1="100.34" y1="335.3" x2="100.34" y2="475.8" stroke="#3c3c3c" stroke-width="0.7" />
<line x1="106.11" y1="335.3" x2="106.11" y2="475.8" stroke="#3c3c3c" stroke-width="0.7" />
<line x1="111.88" y1="335.3" x2="111.88" y2="475.8" stroke="#3c3c3c" stroke-width="0.7" />
<line x1="117.65" y1="335.3" x2="117.65" y2="475.8" stroke="#3c3c3c" stroke-width="0.7" />
<line x1="123.42" y1="335.3" x2="123.42" y2="475.8" stroke="#3c3c3c" stroke-width="0.7" />
<line x1="129.19" y1="335.3" x2="129.19" y2="475.8" stroke="#3c3c3c" stroke-width="0.7" />
<line x1="134.96" y1="335.3" x2="134.96" y2="475.8" stroke="#3c3c3c" stroke-width="0.7" />
<line x1="140.73" y1="335.3" x2="140.73" y2="475.8" stroke="#3c3c3c" stroke-width="0.7" />
<line x1="146.5" y1="335.3" x2="146.5" y2="475.8" stroke="#3c3c3c" stroke-width="0.7" />
<line x1="152.27" y1="335.3" x2="152.27" y2="475.8" stroke="#3c3c3c" stroke-width="0.7" />
<line x1="158.04" y1="335.3" x2="158.04" y2="475.8" stroke="#3c3c3c" stroke-width="0.7" />
<line x1="163.81" y1="335.3" x2="163.81" y2="475.8" stroke="#3c3c3c" stroke-width="0.7" />
<line x1="169.58" y1="335.3" x2="169.58" y2="475.8" stroke="#3c3c3c" stroke-width="0.7" />
<line x1="175.35" y1="335.3" x2="175.35" y2="475.8" stroke="#3c3c3c" stroke-width="0.7" />
<line x1="181.12" y1="335.3" x2="181.12" y2="475.8" stroke="#3c3c3c" stroke-width="0.7" />
<line x1="186.89" y1="335.3" x2="186.89" y2="475.8" stroke="#3c3c3c" stroke-width="0.7" />
<line x1="192.66" y1="335.3" x2="192.66" y2="475.8" stroke="#3c3c3c" stroke-width="0.7" />
<line x1="198.43" y1="335.3" x2="198.43" y2="475.8" stroke="#3c3c3c" stroke-width="0.7" />
<line x1="204.2" y1="335.3" x2="204.2" y2="475.8" stroke="#3c3c3c" stroke-width="0.7" />
<line x1="209.97" y1="335.3" x2="209.97" y2="475.8" stroke="#3c3c3c" stroke-width="0.7" />
<line x1="215.74" y1="335.3" x2="215.74" y2="475.8" stroke="#3c3c3c" stroke-width="0.7" />
<line x1="221.51" y1="335.3" x2="221.51" y2="475.8" stroke="#3c3c3c" stroke-width="0.7" />
<line x1="227.28" y1="335.3" x2="227.28" y2="475.8" stroke="#3c3c3c" stroke-width="0.7" />
<line x1="89.1" y1="480.3" x2="226.98" y2="480.3" stroke="#555" stroke-width="0.8" />
<rect x="235.6" y="335.3" width="5.88" height="2.9" fill="#bc3c2a" />
<rect x="235.6" y="338.2" width="5.88" height="78.9" fill="#0572b6" />
<rect x="235.6" y="417.1" width="5.88" height="42.3" fill="#de8726" />
<rect x="235.6" y="459.4" width="5.88" height="16.4" fill="#1e8250" />
<line x1="235.6" y1="338.2" x2="241.43" y2="338.2" stroke="#3a3a3a" stroke-width="0.45" stroke-opacity="0.8"/>
<line x1="235.6" y1="417.1" x2="241.43" y2="417.1" stroke="#3a3a3a" stroke-width="0.45" stroke-opacity="0.8"/>
<line x1="235.6" y1="459.4" x2="241.43" y2="459.4" stroke="#3a3a3a" stroke-width="0.45" stroke-opacity="0.8"/>
<rect x="241.43" y="335.3" width="5.88" height="7.9" fill="#bc3c2a" />
<rect x="241.43" y="343.2" width="5.88" height="75" fill="#0572b6" />
<rect x="241.43" y="418.2" width="5.88" height="38.3" fill="#de8726" />
<rect x="241.43" y="456.5" width="5.88" height="19.3" fill="#1e8250" />
<line x1="241.43" y1="343.2" x2="247.26" y2="343.2" stroke="#3a3a3a" stroke-width="0.45" stroke-opacity="0.8"/>
<line x1="241.43" y1="418.2" x2="247.26" y2="418.2" stroke="#3a3a3a" stroke-width="0.45" stroke-opacity="0.8"/>
<line x1="241.43" y1="456.5" x2="247.26" y2="456.5" stroke="#3a3a3a" stroke-width="0.45" stroke-opacity="0.8"/>
<rect x="247.26" y="335.3" width="5.88" height="5.9" fill="#bc3c2a" />
<rect x="247.26" y="341.2" width="5.88" height="77" fill="#0572b6" />
<rect x="247.26" y="418.2" width="5.88" height="39.7" fill="#de8726" />
<rect x="247.26" y="457.9" width="5.88" height="17.9" fill="#1e8250" />
<line x1="247.26" y1="341.2" x2="253.09" y2="341.2" stroke="#3a3a3a" stroke-width="0.45" stroke-opacity="0.8"/>
<line x1="247.26" y1="418.2" x2="253.09" y2="418.2" stroke="#3a3a3a" stroke-width="0.45" stroke-opacity="0.8"/>
<line x1="247.26" y1="457.9" x2="253.09" y2="457.9" stroke="#3a3a3a" stroke-width="0.45" stroke-opacity="0.8"/>
<rect x="253.09" y="335.3" width="5.88" height="4.1" fill="#bc3c2a" />
<rect x="253.09" y="339.4" width="5.88" height="80.3" fill="#0572b6" />
<rect x="253.09" y="419.7" width="5.88" height="38.8" fill="#de8726" />
<rect x="253.09" y="458.5" width="5.88" height="17.3" fill="#1e8250" />
<line x1="253.09" y1="339.4" x2="258.92" y2="339.4" stroke="#3a3a3a" stroke-width="0.45" stroke-opacity="0.8"/>
<line x1="253.09" y1="419.7" x2="258.92" y2="419.7" stroke="#3a3a3a" stroke-width="0.45" stroke-opacity="0.8"/>
<line x1="253.09" y1="458.5" x2="258.92" y2="458.5" stroke="#3a3a3a" stroke-width="0.45" stroke-opacity="0.8"/>
<rect x="258.92" y="335.3" width="5.88" height="5.9" fill="#bc3c2a" />
<rect x="258.92" y="341.2" width="5.88" height="75.6" fill="#0572b6" />
<rect x="258.92" y="416.8" width="5.88" height="37.3" fill="#de8726" />
<rect x="258.92" y="454.1" width="5.88" height="21.7" fill="#1e8250" />
<line x1="258.92" y1="341.2" x2="264.75" y2="341.2" stroke="#3a3a3a" stroke-width="0.45" stroke-opacity="0.8"/>
<line x1="258.92" y1="416.8" x2="264.75" y2="416.8" stroke="#3a3a3a" stroke-width="0.45" stroke-opacity="0.8"/>
<line x1="258.92" y1="454.1" x2="264.75" y2="454.1" stroke="#3a3a3a" stroke-width="0.45" stroke-opacity="0.8"/>
<rect x="264.75" y="335.3" width="5.88" height="5.9" fill="#bc3c2a" />
<rect x="264.75" y="341.2" width="5.88" height="70.6" fill="#0572b6" />
<rect x="264.75" y="411.8" width="5.88" height="39.4" fill="#de8726" />
<rect x="264.75" y="451.2" width="5.88" height="24.6" fill="#1e8250" />
<line x1="264.75" y1="341.2" x2="270.58" y2="341.2" stroke="#3a3a3a" stroke-width="0.45" stroke-opacity="0.8"/>
<line x1="264.75" y1="411.8" x2="270.58" y2="411.8" stroke="#3a3a3a" stroke-width="0.45" stroke-opacity="0.8"/>
<line x1="264.75" y1="451.2" x2="270.58" y2="451.2" stroke="#3a3a3a" stroke-width="0.45" stroke-opacity="0.8"/>
<rect x="270.58" y="335.3" width="5.88" height="5.9" fill="#bc3c2a" />
<rect x="270.58" y="341.2" width="5.88" height="72.6" fill="#0572b6" />
<rect x="270.58" y="413.8" width="5.88" height="36.2" fill="#de8726" />
<rect x="270.58" y="450" width="5.88" height="25.8" fill="#1e8250" />
<line x1="270.58" y1="341.2" x2="276.41" y2="341.2" stroke="#3a3a3a" stroke-width="0.45" stroke-opacity="0.8"/>
<line x1="270.58" y1="413.8" x2="276.41" y2="413.8" stroke="#3a3a3a" stroke-width="0.45" stroke-opacity="0.8"/>
<line x1="270.58" y1="450" x2="276.41" y2="450" stroke="#3a3a3a" stroke-width="0.45" stroke-opacity="0.8"/>
<rect x="276.41" y="335.3" width="5.88" height="3.5" fill="#bc3c2a" />
<rect x="276.41" y="338.8" width="5.88" height="76.2" fill="#0572b6" />
<rect x="276.41" y="415" width="5.88" height="38.5" fill="#de8726" />
<rect x="276.41" y="453.5" width="5.88" height="22.3" fill="#1e8250" />
<line x1="276.41" y1="338.8" x2="282.24" y2="338.8" stroke="#3a3a3a" stroke-width="0.45" stroke-opacity="0.8"/>
<line x1="276.41" y1="415" x2="282.24" y2="415" stroke="#3a3a3a" stroke-width="0.45" stroke-opacity="0.8"/>
<line x1="276.41" y1="453.5" x2="282.24" y2="453.5" stroke="#3a3a3a" stroke-width="0.45" stroke-opacity="0.8"/>
<line x1="235.6" y1="335.3" x2="235.6" y2="475.8" stroke="#3c3c3c" stroke-width="0.7" />
<line x1="241.43" y1="335.3" x2="241.43" y2="475.8" stroke="#3c3c3c" stroke-width="0.7" />
<line x1="247.26" y1="335.3" x2="247.26" y2="475.8" stroke="#3c3c3c" stroke-width="0.7" />
<line x1="253.09" y1="335.3" x2="253.09" y2="475.8" stroke="#3c3c3c" stroke-width="0.7" />
<line x1="258.92" y1="335.3" x2="258.92" y2="475.8" stroke="#3c3c3c" stroke-width="0.7" />
<line x1="264.75" y1="335.3" x2="264.75" y2="475.8" stroke="#3c3c3c" stroke-width="0.7" />
<line x1="270.58" y1="335.3" x2="270.58" y2="475.8" stroke="#3c3c3c" stroke-width="0.7" />
<line x1="276.41" y1="335.3" x2="276.41" y2="475.8" stroke="#3c3c3c" stroke-width="0.7" />
<line x1="282.24" y1="335.3" x2="282.24" y2="475.8" stroke="#3c3c3c" stroke-width="0.7" />
<line x1="235.9" y1="480.3" x2="281.94" y2="480.3" stroke="#555" stroke-width="0.8" />
<rect x="291.6" y="335.3" width="5.8" height="5.8" fill="#bc3c2a" />
<rect x="291.6" y="341.1" width="5.8" height="68.6" fill="#0572b6" />
<rect x="291.6" y="409.7" width="5.8" height="31.6" fill="#de8726" />
<rect x="291.6" y="441.3" width="5.8" height="34.5" fill="#1e8250" />
<line x1="291.6" y1="341.1" x2="297.35" y2="341.1" stroke="#3a3a3a" stroke-width="0.45" stroke-opacity="0.8"/>
<line x1="291.6" y1="409.7" x2="297.35" y2="409.7" stroke="#3a3a3a" stroke-width="0.45" stroke-opacity="0.8"/>
<line x1="291.6" y1="441.3" x2="297.35" y2="441.3" stroke="#3a3a3a" stroke-width="0.45" stroke-opacity="0.8"/>
<rect x="297.35" y="335.3" width="5.8" height="5" fill="#bc3c2a" />
<rect x="297.35" y="340.3" width="5.8" height="68.8" fill="#0572b6" />
<rect x="297.35" y="409.1" width="5.8" height="31.4" fill="#de8726" />
<rect x="297.35" y="440.5" width="5.8" height="35.3" fill="#1e8250" />
<line x1="297.35" y1="340.3" x2="303.1" y2="340.3" stroke="#3a3a3a" stroke-width="0.45" stroke-opacity="0.8"/>
<line x1="297.35" y1="409.1" x2="303.1" y2="409.1" stroke="#3a3a3a" stroke-width="0.45" stroke-opacity="0.8"/>
<line x1="297.35" y1="440.5" x2="303.1" y2="440.5" stroke="#3a3a3a" stroke-width="0.45" stroke-opacity="0.8"/>
<rect x="303.1" y="335.3" width="5.8" height="7.9" fill="#bc3c2a" />
<rect x="303.1" y="343.2" width="5.8" height="72.4" fill="#0572b6" />
<rect x="303.1" y="415.6" width="5.8" height="30.1" fill="#de8726" />
<rect x="303.1" y="445.7" width="5.8" height="30.1" fill="#1e8250" />
<line x1="303.1" y1="343.2" x2="308.85" y2="343.2" stroke="#3a3a3a" stroke-width="0.45" stroke-opacity="0.8"/>
<line x1="303.1" y1="415.6" x2="308.85" y2="415.6" stroke="#3a3a3a" stroke-width="0.45" stroke-opacity="0.8"/>
<line x1="303.1" y1="445.7" x2="308.85" y2="445.7" stroke="#3a3a3a" stroke-width="0.45" stroke-opacity="0.8"/>
<rect x="308.85" y="335.3" width="5.8" height="7" fill="#bc3c2a" />
<rect x="308.85" y="342.3" width="5.8" height="65.3" fill="#0572b6" />
<rect x="308.85" y="407.6" width="5.8" height="36.7" fill="#de8726" />
<rect x="308.85" y="444.3" width="5.8" height="31.5" fill="#1e8250" />
<line x1="308.85" y1="342.3" x2="314.6" y2="342.3" stroke="#3a3a3a" stroke-width="0.45" stroke-opacity="0.8"/>
<line x1="308.85" y1="407.6" x2="314.6" y2="407.6" stroke="#3a3a3a" stroke-width="0.45" stroke-opacity="0.8"/>
<line x1="308.85" y1="444.3" x2="314.6" y2="444.3" stroke="#3a3a3a" stroke-width="0.45" stroke-opacity="0.8"/>
<rect x="314.6" y="335.3" width="5.8" height="7" fill="#bc3c2a" />
<rect x="314.6" y="342.3" width="5.8" height="76.5" fill="#0572b6" />
<rect x="314.6" y="418.8" width="5.8" height="28.4" fill="#de8726" />
<rect x="314.6" y="447.2" width="5.8" height="28.6" fill="#1e8250" />
<line x1="314.6" y1="342.3" x2="320.35" y2="342.3" stroke="#3a3a3a" stroke-width="0.45" stroke-opacity="0.8"/>
<line x1="314.6" y1="418.8" x2="320.35" y2="418.8" stroke="#3a3a3a" stroke-width="0.45" stroke-opacity="0.8"/>
<line x1="314.6" y1="447.2" x2="320.35" y2="447.2" stroke="#3a3a3a" stroke-width="0.45" stroke-opacity="0.8"/>
<rect x="320.35" y="335.3" width="5.8" height="5" fill="#bc3c2a" />
<rect x="320.35" y="340.3" width="5.8" height="73.8" fill="#0572b6" />
<rect x="320.35" y="414.1" width="5.8" height="32.2" fill="#de8726" />
<rect x="320.35" y="446.3" width="5.8" height="29.5" fill="#1e8250" />
<line x1="320.35" y1="340.3" x2="326.1" y2="340.3" stroke="#3a3a3a" stroke-width="0.45" stroke-opacity="0.8"/>
<line x1="320.35" y1="414.1" x2="326.1" y2="414.1" stroke="#3a3a3a" stroke-width="0.45" stroke-opacity="0.8"/>
<line x1="320.35" y1="446.3" x2="326.1" y2="446.3" stroke="#3a3a3a" stroke-width="0.45" stroke-opacity="0.8"/>
<rect x="326.1" y="335.3" width="5.8" height="5" fill="#bc3c2a" />
<rect x="326.1" y="340.3" width="5.8" height="79.1" fill="#0572b6" />
<rect x="326.1" y="419.4" width="5.8" height="26.3" fill="#de8726" />
<rect x="326.1" y="445.7" width="5.8" height="30.1" fill="#1e8250" />
<line x1="326.1" y1="340.3" x2="331.85" y2="340.3" stroke="#3a3a3a" stroke-width="0.45" stroke-opacity="0.8"/>
<line x1="326.1" y1="419.4" x2="331.85" y2="419.4" stroke="#3a3a3a" stroke-width="0.45" stroke-opacity="0.8"/>
<line x1="326.1" y1="445.7" x2="331.85" y2="445.7" stroke="#3a3a3a" stroke-width="0.45" stroke-opacity="0.8"/>
<rect x="331.85" y="335.3" width="5.8" height="8.8" fill="#bc3c2a" />
<rect x="331.85" y="344.1" width="5.8" height="77.6" fill="#0572b6" />
<rect x="331.85" y="421.7" width="5.8" height="25.5" fill="#de8726" />
<rect x="331.85" y="447.2" width="5.8" height="28.6" fill="#1e8250" />
<line x1="331.85" y1="344.1" x2="337.6" y2="344.1" stroke="#3a3a3a" stroke-width="0.45" stroke-opacity="0.8"/>
<line x1="331.85" y1="421.7" x2="337.6" y2="421.7" stroke="#3a3a3a" stroke-width="0.45" stroke-opacity="0.8"/>
<line x1="331.85" y1="447.2" x2="337.6" y2="447.2" stroke="#3a3a3a" stroke-width="0.45" stroke-opacity="0.8"/>
<rect x="337.6" y="335.3" width="5.8" height="2.9" fill="#bc3c2a" />
<rect x="337.6" y="338.2" width="5.8" height="79.7" fill="#0572b6" />
<rect x="337.6" y="417.9" width="5.8" height="28.4" fill="#de8726" />
<rect x="337.6" y="446.3" width="5.8" height="29.5" fill="#1e8250" />
<line x1="337.6" y1="338.2" x2="343.35" y2="338.2" stroke="#3a3a3a" stroke-width="0.45" stroke-opacity="0.8"/>
<line x1="337.6" y1="417.9" x2="343.35" y2="417.9" stroke="#3a3a3a" stroke-width="0.45" stroke-opacity="0.8"/>
<line x1="337.6" y1="446.3" x2="343.35" y2="446.3" stroke="#3a3a3a" stroke-width="0.45" stroke-opacity="0.8"/>
<rect x="343.35" y="335.3" width="5.8" height="1.1" fill="#bc3c2a" />
<rect x="343.35" y="336.4" width="5.8" height="94.7" fill="#0572b6" />
<rect x="343.35" y="431.1" width="5.8" height="17.6" fill="#de8726" />
<rect x="343.35" y="448.7" width="5.8" height="27.1" fill="#1e8250" />
<line x1="343.35" y1="336.4" x2="349.1" y2="336.4" stroke="#3a3a3a" stroke-width="0.45" stroke-opacity="0.8"/>
<line x1="343.35" y1="431.1" x2="349.1" y2="431.1" stroke="#3a3a3a" stroke-width="0.45" stroke-opacity="0.8"/>
<line x1="343.35" y1="448.7" x2="349.1" y2="448.7" stroke="#3a3a3a" stroke-width="0.45" stroke-opacity="0.8"/>
<line x1="291.6" y1="335.3" x2="291.6" y2="475.8" stroke="#3c3c3c" stroke-width="0.7" />
<line x1="297.35" y1="335.3" x2="297.35" y2="475.8" stroke="#3c3c3c" stroke-width="0.7" />
<line x1="303.1" y1="335.3" x2="303.1" y2="475.8" stroke="#3c3c3c" stroke-width="0.7" />
<line x1="308.85" y1="335.3" x2="308.85" y2="475.8" stroke="#3c3c3c" stroke-width="0.7" />
<line x1="314.6" y1="335.3" x2="314.6" y2="475.8" stroke="#3c3c3c" stroke-width="0.7" />
<line x1="320.35" y1="335.3" x2="320.35" y2="475.8" stroke="#3c3c3c" stroke-width="0.7" />
<line x1="326.1" y1="335.3" x2="326.1" y2="475.8" stroke="#3c3c3c" stroke-width="0.7" />
<line x1="331.85" y1="335.3" x2="331.85" y2="475.8" stroke="#3c3c3c" stroke-width="0.7" />
<line x1="337.6" y1="335.3" x2="337.6" y2="475.8" stroke="#3c3c3c" stroke-width="0.7" />
<line x1="343.35" y1="335.3" x2="343.35" y2="475.8" stroke="#3c3c3c" stroke-width="0.7" />
<line x1="349.1" y1="335.3" x2="349.1" y2="475.8" stroke="#3c3c3c" stroke-width="0.7" />
<line x1="291.9" y1="480.3" x2="348.8" y2="480.3" stroke="#555" stroke-width="0.8" />
<rect x="361.1" y="335.3" width="5.8" height="9.9" fill="#bc3c2a" />
<rect x="361.1" y="345.2" width="5.8" height="86" fill="#0572b6" />
<rect x="361.1" y="431.2" width="5.8" height="25.8" fill="#de8726" />
<rect x="361.1" y="457" width="5.8" height="18.8" fill="#1e8250" />
<line x1="361.1" y1="345.2" x2="366.86" y2="345.2" stroke="#3a3a3a" stroke-width="0.45" stroke-opacity="0.8"/>
<line x1="361.1" y1="431.2" x2="366.86" y2="431.2" stroke="#3a3a3a" stroke-width="0.45" stroke-opacity="0.8"/>
<line x1="361.1" y1="457" x2="366.86" y2="457" stroke="#3a3a3a" stroke-width="0.45" stroke-opacity="0.8"/>
<rect x="366.86" y="335.3" width="5.8" height="2.9" fill="#bc3c2a" />
<rect x="366.86" y="338.2" width="5.8" height="99.7" fill="#0572b6" />
<rect x="366.86" y="437.9" width="5.8" height="21.1" fill="#de8726" />
<rect x="366.86" y="459" width="5.8" height="16.8" fill="#1e8250" />
<line x1="366.86" y1="338.2" x2="372.61" y2="338.2" stroke="#3a3a3a" stroke-width="0.45" stroke-opacity="0.8"/>
<line x1="366.86" y1="437.9" x2="372.61" y2="437.9" stroke="#3a3a3a" stroke-width="0.45" stroke-opacity="0.8"/>
<line x1="366.86" y1="459" x2="372.61" y2="459" stroke="#3a3a3a" stroke-width="0.45" stroke-opacity="0.8"/>
<rect x="372.61" y="335.3" width="5.8" height="5.8" fill="#bc3c2a" />
<rect x="372.61" y="341.1" width="5.8" height="79.2" fill="#0572b6" />
<rect x="372.61" y="420.3" width="5.8" height="29.9" fill="#de8726" />
<rect x="372.61" y="450.2" width="5.8" height="25.6" fill="#1e8250" />
<line x1="372.61" y1="341.1" x2="378.37" y2="341.1" stroke="#3a3a3a" stroke-width="0.45" stroke-opacity="0.8"/>
<line x1="372.61" y1="420.3" x2="378.37" y2="420.3" stroke="#3a3a3a" stroke-width="0.45" stroke-opacity="0.8"/>
<line x1="372.61" y1="450.2" x2="378.37" y2="450.2" stroke="#3a3a3a" stroke-width="0.45" stroke-opacity="0.8"/>
<rect x="378.37" y="335.3" width="5.8" height="5" fill="#bc3c2a" />
<rect x="378.37" y="340.3" width="5.8" height="87.4" fill="#0572b6" />
<rect x="378.37" y="427.7" width="5.8" height="24.9" fill="#de8726" />
<rect x="378.37" y="452.6" width="5.8" height="23.2" fill="#1e8250" />
<line x1="378.37" y1="340.3" x2="384.12" y2="340.3" stroke="#3a3a3a" stroke-width="0.45" stroke-opacity="0.8"/>
<line x1="378.37" y1="427.7" x2="384.12" y2="427.7" stroke="#3a3a3a" stroke-width="0.45" stroke-opacity="0.8"/>
<line x1="378.37" y1="452.6" x2="384.12" y2="452.6" stroke="#3a3a3a" stroke-width="0.45" stroke-opacity="0.8"/>
<rect x="384.12" y="335.3" width="5.8" height="4.1" fill="#bc3c2a" />
<rect x="384.12" y="339.4" width="5.8" height="90.3" fill="#0572b6" />
<rect x="384.12" y="429.7" width="5.8" height="27.9" fill="#de8726" />
<rect x="384.12" y="457.6" width="5.8" height="18.2" fill="#1e8250" />
<line x1="384.12" y1="339.4" x2="389.88" y2="339.4" stroke="#3a3a3a" stroke-width="0.45" stroke-opacity="0.8"/>
<line x1="384.12" y1="429.7" x2="389.88" y2="429.7" stroke="#3a3a3a" stroke-width="0.45" stroke-opacity="0.8"/>
<line x1="384.12" y1="457.6" x2="389.88" y2="457.6" stroke="#3a3a3a" stroke-width="0.45" stroke-opacity="0.8"/>
<rect x="389.88" y="335.3" width="5.8" height="9.9" fill="#bc3c2a" />
<rect x="389.88" y="345.2" width="5.8" height="87.4" fill="#0572b6" />
<rect x="389.88" y="432.6" width="5.8" height="22.9" fill="#de8726" />
<rect x="389.88" y="455.5" width="5.8" height="20.3" fill="#1e8250" />
<line x1="389.88" y1="345.2" x2="395.63" y2="345.2" stroke="#3a3a3a" stroke-width="0.45" stroke-opacity="0.8"/>
<line x1="389.88" y1="432.6" x2="395.63" y2="432.6" stroke="#3a3a3a" stroke-width="0.45" stroke-opacity="0.8"/>
<line x1="389.88" y1="455.5" x2="395.63" y2="455.5" stroke="#3a3a3a" stroke-width="0.45" stroke-opacity="0.8"/>
<rect x="395.63" y="335.3" width="5.8" height="7.9" fill="#bc3c2a" />
<rect x="395.63" y="343.2" width="5.8" height="91.5" fill="#0572b6" />
<rect x="395.63" y="434.7" width="5.8" height="20.8" fill="#de8726" />
<rect x="395.63" y="455.5" width="5.8" height="20.3" fill="#1e8250" />
<line x1="395.63" y1="343.2" x2="401.38" y2="343.2" stroke="#3a3a3a" stroke-width="0.45" stroke-opacity="0.8"/>
<line x1="395.63" y1="434.7" x2="401.38" y2="434.7" stroke="#3a3a3a" stroke-width="0.45" stroke-opacity="0.8"/>
<line x1="395.63" y1="455.5" x2="401.38" y2="455.5" stroke="#3a3a3a" stroke-width="0.45" stroke-opacity="0.8"/>
<rect x="401.38" y="335.3" width="5.8" height="7" fill="#bc3c2a" />
<rect x="401.38" y="342.3" width="5.8" height="79.2" fill="#0572b6" />
<rect x="401.38" y="421.5" width="5.8" height="28.7" fill="#de8726" />
<rect x="401.38" y="450.2" width="5.8" height="25.6" fill="#1e8250" />
<line x1="401.38" y1="342.3" x2="407.14" y2="342.3" stroke="#3a3a3a" stroke-width="0.45" stroke-opacity="0.8"/>
<line x1="401.38" y1="421.5" x2="407.14" y2="421.5" stroke="#3a3a3a" stroke-width="0.45" stroke-opacity="0.8"/>
<line x1="401.38" y1="450.2" x2="407.14" y2="450.2" stroke="#3a3a3a" stroke-width="0.45" stroke-opacity="0.8"/>
<rect x="407.14" y="335.3" width="5.8" height="5" fill="#bc3c2a" />
<rect x="407.14" y="340.3" width="5.8" height="86.5" fill="#0572b6" />
<rect x="407.14" y="426.8" width="5.8" height="24.3" fill="#de8726" />
<rect x="407.14" y="451.1" width="5.8" height="24.7" fill="#1e8250" />
<line x1="407.14" y1="340.3" x2="412.9" y2="340.3" stroke="#3a3a3a" stroke-width="0.45" stroke-opacity="0.8"/>
<line x1="407.14" y1="426.8" x2="412.9" y2="426.8" stroke="#3a3a3a" stroke-width="0.45" stroke-opacity="0.8"/>
<line x1="407.14" y1="451.1" x2="412.9" y2="451.1" stroke="#3a3a3a" stroke-width="0.45" stroke-opacity="0.8"/>
<rect x="412.9" y="335.3" width="5.8" height="8.8" fill="#bc3c2a" />
<rect x="412.9" y="344.1" width="5.8" height="73.3" fill="#0572b6" />
<rect x="412.9" y="417.4" width="5.8" height="30.8" fill="#de8726" />
<rect x="412.9" y="448.2" width="5.8" height="27.6" fill="#1e8250" />
<line x1="412.9" y1="344.1" x2="418.65" y2="344.1" stroke="#3a3a3a" stroke-width="0.45" stroke-opacity="0.8"/>
<line x1="412.9" y1="417.4" x2="418.65" y2="417.4" stroke="#3a3a3a" stroke-width="0.45" stroke-opacity="0.8"/>
<line x1="412.9" y1="448.2" x2="418.65" y2="448.2" stroke="#3a3a3a" stroke-width="0.45" stroke-opacity="0.8"/>
<rect x="418.65" y="335.3" width="5.8" height="5.8" fill="#bc3c2a" />
<rect x="418.65" y="341.1" width="5.8" height="82.2" fill="#0572b6" />
<rect x="418.65" y="423.3" width="5.8" height="30.7" fill="#de8726" />
<rect x="418.65" y="454" width="5.8" height="21.8" fill="#1e8250" />
<line x1="418.65" y1="341.1" x2="424.41" y2="341.1" stroke="#3a3a3a" stroke-width="0.45" stroke-opacity="0.8"/>
<line x1="418.65" y1="423.3" x2="424.41" y2="423.3" stroke="#3a3a3a" stroke-width="0.45" stroke-opacity="0.8"/>
<line x1="418.65" y1="454" x2="424.41" y2="454" stroke="#3a3a3a" stroke-width="0.45" stroke-opacity="0.8"/>
<rect x="424.41" y="335.3" width="5.8" height="5.8" fill="#bc3c2a" />
<rect x="424.41" y="341.1" width="5.8" height="93" fill="#0572b6" />
<rect x="424.41" y="434.1" width="5.8" height="27.3" fill="#de8726" />
<rect x="424.41" y="461.4" width="5.8" height="14.4" fill="#1e8250" />
<line x1="424.41" y1="341.1" x2="430.16" y2="341.1" stroke="#3a3a3a" stroke-width="0.45" stroke-opacity="0.8"/>
<line x1="424.41" y1="434.1" x2="430.16" y2="434.1" stroke="#3a3a3a" stroke-width="0.45" stroke-opacity="0.8"/>
<line x1="424.41" y1="461.4" x2="430.16" y2="461.4" stroke="#3a3a3a" stroke-width="0.45" stroke-opacity="0.8"/>
<rect x="430.16" y="335.3" width="5.8" height="8.8" fill="#bc3c2a" />
<rect x="430.16" y="344.1" width="5.8" height="96.5" fill="#0572b6" />
<rect x="430.16" y="440.6" width="5.8" height="25.8" fill="#de8726" />
<rect x="430.16" y="466.4" width="5.8" height="9.4" fill="#1e8250" />
<line x1="430.16" y1="344.1" x2="435.92" y2="344.1" stroke="#3a3a3a" stroke-width="0.45" stroke-opacity="0.8"/>
<line x1="430.16" y1="440.6" x2="435.92" y2="440.6" stroke="#3a3a3a" stroke-width="0.45" stroke-opacity="0.8"/>
<line x1="430.16" y1="466.4" x2="435.92" y2="466.4" stroke="#3a3a3a" stroke-width="0.45" stroke-opacity="0.8"/>
<rect x="435.92" y="335.3" width="5.8" height="3.5" fill="#bc3c2a" />
<rect x="435.92" y="338.8" width="5.8" height="77.7" fill="#0572b6" />
<rect x="435.92" y="416.5" width="5.8" height="39" fill="#de8726" />
<rect x="435.92" y="455.5" width="5.8" height="20.3" fill="#1e8250" />
<line x1="435.92" y1="338.8" x2="441.67" y2="338.8" stroke="#3a3a3a" stroke-width="0.45" stroke-opacity="0.8"/>
<line x1="435.92" y1="416.5" x2="441.67" y2="416.5" stroke="#3a3a3a" stroke-width="0.45" stroke-opacity="0.8"/>
<line x1="435.92" y1="455.5" x2="441.67" y2="455.5" stroke="#3a3a3a" stroke-width="0.45" stroke-opacity="0.8"/>
<rect x="441.67" y="335.3" width="5.8" height="7.9" fill="#bc3c2a" />
<rect x="441.67" y="343.2" width="5.8" height="108.5" fill="#0572b6" />
<rect x="441.67" y="451.7" width="5.8" height="14.1" fill="#de8726" />
<rect x="441.67" y="465.8" width="5.8" height="10" fill="#1e8250" />
<line x1="441.67" y1="343.2" x2="447.43" y2="343.2" stroke="#3a3a3a" stroke-width="0.45" stroke-opacity="0.8"/>
<line x1="441.67" y1="451.7" x2="447.43" y2="451.7" stroke="#3a3a3a" stroke-width="0.45" stroke-opacity="0.8"/>
<line x1="441.67" y1="465.8" x2="447.43" y2="465.8" stroke="#3a3a3a" stroke-width="0.45" stroke-opacity="0.8"/>
<rect x="447.43" y="335.3" width="5.8" height="7" fill="#bc3c2a" />
<rect x="447.43" y="342.3" width="5.8" height="93.3" fill="#0572b6" />
<rect x="447.43" y="435.6" width="5.8" height="19" fill="#de8726" />
<rect x="447.43" y="454.6" width="5.8" height="21.2" fill="#1e8250" />
<line x1="447.43" y1="342.3" x2="453.18" y2="342.3" stroke="#3a3a3a" stroke-width="0.45" stroke-opacity="0.8"/>
<line x1="447.43" y1="435.6" x2="453.18" y2="435.6" stroke="#3a3a3a" stroke-width="0.45" stroke-opacity="0.8"/>
<line x1="447.43" y1="454.6" x2="453.18" y2="454.6" stroke="#3a3a3a" stroke-width="0.45" stroke-opacity="0.8"/>
<rect x="453.18" y="335.3" width="5.8" height="6.4" fill="#bc3c2a" />
<rect x="453.18" y="341.7" width="5.8" height="92.4" fill="#0572b6" />
<rect x="453.18" y="434.1" width="5.8" height="30.8" fill="#de8726" />
<rect x="453.18" y="464.9" width="5.8" height="10.9" fill="#1e8250" />
<line x1="453.18" y1="341.7" x2="458.94" y2="341.7" stroke="#3a3a3a" stroke-width="0.45" stroke-opacity="0.8"/>
<line x1="453.18" y1="434.1" x2="458.94" y2="434.1" stroke="#3a3a3a" stroke-width="0.45" stroke-opacity="0.8"/>
<line x1="453.18" y1="464.9" x2="458.94" y2="464.9" stroke="#3a3a3a" stroke-width="0.45" stroke-opacity="0.8"/>
<rect x="458.94" y="335.3" width="5.8" height="7.9" fill="#bc3c2a" />
<rect x="458.94" y="343.2" width="5.8" height="80.6" fill="#0572b6" />
<rect x="458.94" y="423.8" width="5.8" height="30.2" fill="#de8726" />
<rect x="458.94" y="454" width="5.8" height="21.8" fill="#1e8250" />
<line x1="458.94" y1="343.2" x2="464.69" y2="343.2" stroke="#3a3a3a" stroke-width="0.45" stroke-opacity="0.8"/>
<line x1="458.94" y1="423.8" x2="464.69" y2="423.8" stroke="#3a3a3a" stroke-width="0.45" stroke-opacity="0.8"/>
<line x1="458.94" y1="454" x2="464.69" y2="454" stroke="#3a3a3a" stroke-width="0.45" stroke-opacity="0.8"/>
<rect x="464.69" y="335.3" width="5.8" height="7.9" fill="#bc3c2a" />
<rect x="464.69" y="343.2" width="5.8" height="88.9" fill="#0572b6" />
<rect x="464.69" y="432.1" width="5.8" height="20.5" fill="#de8726" />
<rect x="464.69" y="452.6" width="5.8" height="23.2" fill="#1e8250" />
<line x1="464.69" y1="343.2" x2="470.45" y2="343.2" stroke="#3a3a3a" stroke-width="0.45" stroke-opacity="0.8"/>
<line x1="464.69" y1="432.1" x2="470.45" y2="432.1" stroke="#3a3a3a" stroke-width="0.45" stroke-opacity="0.8"/>
<line x1="464.69" y1="452.6" x2="470.45" y2="452.6" stroke="#3a3a3a" stroke-width="0.45" stroke-opacity="0.8"/>
<rect x="470.45" y="335.3" width="5.8" height="2.9" fill="#bc3c2a" />
<rect x="470.45" y="338.2" width="5.8" height="102.7" fill="#0572b6" />
<rect x="470.45" y="440.9" width="5.8" height="20.2" fill="#de8726" />
<rect x="470.45" y="461.1" width="5.8" height="14.7" fill="#1e8250" />
<line x1="470.45" y1="338.2" x2="476.2" y2="338.2" stroke="#3a3a3a" stroke-width="0.45" stroke-opacity="0.8"/>
<line x1="470.45" y1="440.9" x2="476.2" y2="440.9" stroke="#3a3a3a" stroke-width="0.45" stroke-opacity="0.8"/>
<line x1="470.45" y1="461.1" x2="476.2" y2="461.1" stroke="#3a3a3a" stroke-width="0.45" stroke-opacity="0.8"/>
<rect x="476.2" y="335.3" width="5.8" height="10.8" fill="#bc3c2a" />
<rect x="476.2" y="346.1" width="5.8" height="82.4" fill="#0572b6" />
<rect x="476.2" y="428.5" width="5.8" height="21.7" fill="#de8726" />
<rect x="476.2" y="450.2" width="5.8" height="25.6" fill="#1e8250" />
<line x1="476.2" y1="346.1" x2="481.96" y2="346.1" stroke="#3a3a3a" stroke-width="0.45" stroke-opacity="0.8"/>
<line x1="476.2" y1="428.5" x2="481.96" y2="428.5" stroke="#3a3a3a" stroke-width="0.45" stroke-opacity="0.8"/>
<line x1="476.2" y1="450.2" x2="481.96" y2="450.2" stroke="#3a3a3a" stroke-width="0.45" stroke-opacity="0.8"/>
<rect x="481.96" y="335.3" width="5.8" height="4.1" fill="#bc3c2a" />
<rect x="481.96" y="339.4" width="5.8" height="80" fill="#0572b6" />
<rect x="481.96" y="419.4" width="5.8" height="31.7" fill="#de8726" />
<rect x="481.96" y="451.1" width="5.8" height="24.7" fill="#1e8250" />
<line x1="481.96" y1="339.4" x2="487.71" y2="339.4" stroke="#3a3a3a" stroke-width="0.45" stroke-opacity="0.8"/>
<line x1="481.96" y1="419.4" x2="487.71" y2="419.4" stroke="#3a3a3a" stroke-width="0.45" stroke-opacity="0.8"/>
<line x1="481.96" y1="451.1" x2="487.71" y2="451.1" stroke="#3a3a3a" stroke-width="0.45" stroke-opacity="0.8"/>
<rect x="487.71" y="335.3" width="5.8" height="6.4" fill="#bc3c2a" />
<rect x="487.71" y="341.7" width="5.8" height="102.7" fill="#0572b6" />
<rect x="487.71" y="444.4" width="5.8" height="17.6" fill="#de8726" />
<rect x="487.71" y="462" width="5.8" height="13.8" fill="#1e8250" />
<line x1="487.71" y1="341.7" x2="493.47" y2="341.7" stroke="#3a3a3a" stroke-width="0.45" stroke-opacity="0.8"/>
<line x1="487.71" y1="444.4" x2="493.47" y2="444.4" stroke="#3a3a3a" stroke-width="0.45" stroke-opacity="0.8"/>
<line x1="487.71" y1="462" x2="493.47" y2="462" stroke="#3a3a3a" stroke-width="0.45" stroke-opacity="0.8"/>
<rect x="493.47" y="335.3" width="5.8" height="5.8" fill="#bc3c2a" />
<rect x="493.47" y="341.1" width="5.8" height="95.4" fill="#0572b6" />
<rect x="493.47" y="436.5" width="5.8" height="20.5" fill="#de8726" />
<rect x="493.47" y="457" width="5.8" height="18.8" fill="#1e8250" />
<line x1="493.47" y1="341.1" x2="499.22" y2="341.1" stroke="#3a3a3a" stroke-width="0.45" stroke-opacity="0.8"/>
<line x1="493.47" y1="436.5" x2="499.22" y2="436.5" stroke="#3a3a3a" stroke-width="0.45" stroke-opacity="0.8"/>
<line x1="493.47" y1="457" x2="499.22" y2="457" stroke="#3a3a3a" stroke-width="0.45" stroke-opacity="0.8"/>
<rect x="499.22" y="335.3" width="5.8" height="12.3" fill="#bc3c2a" />
<rect x="499.22" y="347.6" width="5.8" height="100.6" fill="#0572b6" />
<rect x="499.22" y="448.2" width="5.8" height="14.6" fill="#de8726" />
<rect x="499.22" y="462.8" width="5.8" height="13" fill="#1e8250" />
<line x1="499.22" y1="347.6" x2="504.98" y2="347.6" stroke="#3a3a3a" stroke-width="0.45" stroke-opacity="0.8"/>
<line x1="499.22" y1="448.2" x2="504.98" y2="448.2" stroke="#3a3a3a" stroke-width="0.45" stroke-opacity="0.8"/>
<line x1="499.22" y1="462.8" x2="504.98" y2="462.8" stroke="#3a3a3a" stroke-width="0.45" stroke-opacity="0.8"/>
<rect x="504.98" y="335.3" width="5.8" height="6.4" fill="#bc3c2a" />
<rect x="504.98" y="341.7" width="5.8" height="91.8" fill="#0572b6" />
<rect x="504.98" y="433.5" width="5.8" height="21.7" fill="#de8726" />
<rect x="504.98" y="455.2" width="5.8" height="20.6" fill="#1e8250" />
<line x1="504.98" y1="341.7" x2="510.73" y2="341.7" stroke="#3a3a3a" stroke-width="0.45" stroke-opacity="0.8"/>
<line x1="504.98" y1="433.5" x2="510.73" y2="433.5" stroke="#3a3a3a" stroke-width="0.45" stroke-opacity="0.8"/>
<line x1="504.98" y1="455.2" x2="510.73" y2="455.2" stroke="#3a3a3a" stroke-width="0.45" stroke-opacity="0.8"/>
<rect x="510.73" y="335.3" width="5.8" height="3.5" fill="#bc3c2a" />
<rect x="510.73" y="338.8" width="5.8" height="96.8" fill="#0572b6" />
<rect x="510.73" y="435.6" width="5.8" height="20.5" fill="#de8726" />
<rect x="510.73" y="456.1" width="5.8" height="19.7" fill="#1e8250" />
<line x1="510.73" y1="338.8" x2="516.49" y2="338.8" stroke="#3a3a3a" stroke-width="0.45" stroke-opacity="0.8"/>
<line x1="510.73" y1="435.6" x2="516.49" y2="435.6" stroke="#3a3a3a" stroke-width="0.45" stroke-opacity="0.8"/>
<line x1="510.73" y1="456.1" x2="516.49" y2="456.1" stroke="#3a3a3a" stroke-width="0.45" stroke-opacity="0.8"/>
<rect x="516.49" y="335.3" width="5.8" height="5.8" fill="#bc3c2a" />
<rect x="516.49" y="341.1" width="5.8" height="91.5" fill="#0572b6" />
<rect x="516.49" y="432.6" width="5.8" height="20" fill="#de8726" />
<rect x="516.49" y="452.6" width="5.8" height="23.2" fill="#1e8250" />
<line x1="516.49" y1="341.1" x2="522.24" y2="341.1" stroke="#3a3a3a" stroke-width="0.45" stroke-opacity="0.8"/>
<line x1="516.49" y1="432.6" x2="522.24" y2="432.6" stroke="#3a3a3a" stroke-width="0.45" stroke-opacity="0.8"/>
<line x1="516.49" y1="452.6" x2="522.24" y2="452.6" stroke="#3a3a3a" stroke-width="0.45" stroke-opacity="0.8"/>
<rect x="522.24" y="335.3" width="5.8" height="3.5" fill="#bc3c2a" />
<rect x="522.24" y="338.8" width="5.8" height="94.7" fill="#0572b6" />
<rect x="522.24" y="433.5" width="5.8" height="27" fill="#de8726" />
<rect x="522.24" y="460.5" width="5.8" height="15.3" fill="#1e8250" />
<line x1="522.24" y1="338.8" x2="528" y2="338.8" stroke="#3a3a3a" stroke-width="0.45" stroke-opacity="0.8"/>
<line x1="522.24" y1="433.5" x2="528" y2="433.5" stroke="#3a3a3a" stroke-width="0.45" stroke-opacity="0.8"/>
<line x1="522.24" y1="460.5" x2="528" y2="460.5" stroke="#3a3a3a" stroke-width="0.45" stroke-opacity="0.8"/>
<rect x="528" y="335.3" width="5.8" height="2" fill="#bc3c2a" />
<rect x="528" y="337.3" width="5.8" height="100.3" fill="#0572b6" />
<rect x="528" y="437.6" width="5.8" height="25.8" fill="#de8726" />
<rect x="528" y="463.4" width="5.8" height="12.4" fill="#1e8250" />
<line x1="528" y1="337.3" x2="533.75" y2="337.3" stroke="#3a3a3a" stroke-width="0.45" stroke-opacity="0.8"/>
<line x1="528" y1="437.6" x2="533.75" y2="437.6" stroke="#3a3a3a" stroke-width="0.45" stroke-opacity="0.8"/>
<line x1="528" y1="463.4" x2="533.75" y2="463.4" stroke="#3a3a3a" stroke-width="0.45" stroke-opacity="0.8"/>
<rect x="533.75" y="335.3" width="5.8" height="8.8" fill="#bc3c2a" />
<rect x="533.75" y="344.1" width="5.8" height="72.4" fill="#0572b6" />
<rect x="533.75" y="416.5" width="5.8" height="33.7" fill="#de8726" />
<rect x="533.75" y="450.2" width="5.8" height="25.6" fill="#1e8250" />
<line x1="533.75" y1="344.1" x2="539.5" y2="344.1" stroke="#3a3a3a" stroke-width="0.45" stroke-opacity="0.8"/>
<line x1="533.75" y1="416.5" x2="539.5" y2="416.5" stroke="#3a3a3a" stroke-width="0.45" stroke-opacity="0.8"/>
<line x1="533.75" y1="450.2" x2="539.5" y2="450.2" stroke="#3a3a3a" stroke-width="0.45" stroke-opacity="0.8"/>
<line x1="361.1" y1="335.3" x2="361.1" y2="475.8" stroke="#3c3c3c" stroke-width="0.7" />
<line x1="366.86" y1="335.3" x2="366.86" y2="475.8" stroke="#3c3c3c" stroke-width="0.7" />
<line x1="372.61" y1="335.3" x2="372.61" y2="475.8" stroke="#3c3c3c" stroke-width="0.7" />
<line x1="378.37" y1="335.3" x2="378.37" y2="475.8" stroke="#3c3c3c" stroke-width="0.7" />
<line x1="384.12" y1="335.3" x2="384.12" y2="475.8" stroke="#3c3c3c" stroke-width="0.7" />
<line x1="389.88" y1="335.3" x2="389.88" y2="475.8" stroke="#3c3c3c" stroke-width="0.7" />
<line x1="395.63" y1="335.3" x2="395.63" y2="475.8" stroke="#3c3c3c" stroke-width="0.7" />
<line x1="401.38" y1="335.3" x2="401.38" y2="475.8" stroke="#3c3c3c" stroke-width="0.7" />
<line x1="407.14" y1="335.3" x2="407.14" y2="475.8" stroke="#3c3c3c" stroke-width="0.7" />
<line x1="412.9" y1="335.3" x2="412.9" y2="475.8" stroke="#3c3c3c" stroke-width="0.7" />
<line x1="418.65" y1="335.3" x2="418.65" y2="475.8" stroke="#3c3c3c" stroke-width="0.7" />
<line x1="424.41" y1="335.3" x2="424.41" y2="475.8" stroke="#3c3c3c" stroke-width="0.7" />
<line x1="430.16" y1="335.3" x2="430.16" y2="475.8" stroke="#3c3c3c" stroke-width="0.7" />
<line x1="435.92" y1="335.3" x2="435.92" y2="475.8" stroke="#3c3c3c" stroke-width="0.7" />
<line x1="441.67" y1="335.3" x2="441.67" y2="475.8" stroke="#3c3c3c" stroke-width="0.7" />
<line x1="447.43" y1="335.3" x2="447.43" y2="475.8" stroke="#3c3c3c" stroke-width="0.7" />
<line x1="453.18" y1="335.3" x2="453.18" y2="475.8" stroke="#3c3c3c" stroke-width="0.7" />
<line x1="458.94" y1="335.3" x2="458.94" y2="475.8" stroke="#3c3c3c" stroke-width="0.7" />
<line x1="464.69" y1="335.3" x2="464.69" y2="475.8" stroke="#3c3c3c" stroke-width="0.7" />
<line x1="470.45" y1="335.3" x2="470.45" y2="475.8" stroke="#3c3c3c" stroke-width="0.7" />
<line x1="476.2" y1="335.3" x2="476.2" y2="475.8" stroke="#3c3c3c" stroke-width="0.7" />
<line x1="481.96" y1="335.3" x2="481.96" y2="475.8" stroke="#3c3c3c" stroke-width="0.7" />
<line x1="487.71" y1="335.3" x2="487.71" y2="475.8" stroke="#3c3c3c" stroke-width="0.7" />
<line x1="493.47" y1="335.3" x2="493.47" y2="475.8" stroke="#3c3c3c" stroke-width="0.7" />
<line x1="499.22" y1="335.3" x2="499.22" y2="475.8" stroke="#3c3c3c" stroke-width="0.7" />
<line x1="504.98" y1="335.3" x2="504.98" y2="475.8" stroke="#3c3c3c" stroke-width="0.7" />
<line x1="510.73" y1="335.3" x2="510.73" y2="475.8" stroke="#3c3c3c" stroke-width="0.7" />
<line x1="516.49" y1="335.3" x2="516.49" y2="475.8" stroke="#3c3c3c" stroke-width="0.7" />
<line x1="522.24" y1="335.3" x2="522.24" y2="475.8" stroke="#3c3c3c" stroke-width="0.7" />
<line x1="528" y1="335.3" x2="528" y2="475.8" stroke="#3c3c3c" stroke-width="0.7" />
<line x1="533.75" y1="335.3" x2="533.75" y2="475.8" stroke="#3c3c3c" stroke-width="0.7" />
<line x1="539.5" y1="335.3" x2="539.5" y2="475.8" stroke="#3c3c3c" stroke-width="0.7" />
<line x1="361.4" y1="480.3" x2="539.21" y2="480.3" stroke="#555" stroke-width="0.8" />
<path d="M91.69 342.2 L91.69 344.2 M92.55 342.7 L90.82 343.7 M92.55 343.7 L90.82 342.7 " stroke="#fff" stroke-width="0.7" fill="none"/>
<path d="M91.69 344.5 L91.69 346.5 M92.55 345 L90.82 346 M92.55 346 L90.82 345 " stroke="#fff" stroke-width="0.7" fill="none"/>
<path d="M91.69 346.8 L91.69 348.8 M92.55 347.3 L90.82 348.3 M92.55 348.3 L90.82 347.3 " stroke="#fff" stroke-width="0.7" fill="none"/>
<path d="M97.45 342.8 L97.45 344.8 M98.32 343.3 L96.59 344.3 M98.32 344.3 L96.59 343.3 " stroke="#fff" stroke-width="0.7" fill="none"/>
<path d="M97.45 345.4 L97.45 347.4 M98.32 345.9 L96.59 346.9 M98.32 346.9 L96.59 345.9 " stroke="#fff" stroke-width="0.7" fill="none"/>
<path d="M97.45 348 L97.45 350 M98.32 348.5 L96.59 349.5 M98.32 349.5 L96.59 348.5 " stroke="#fff" stroke-width="0.7" fill="none"/>
<path d="M103.22 342.8 L103.22 344.8 M104.09 343.3 L102.36 344.3 M104.09 344.3 L102.36 343.3 " stroke="#fff" stroke-width="0.7" fill="none"/>
<path d="M103.22 345.4 L103.22 347.4 M104.09 345.9 L102.36 346.9 M104.09 346.9 L102.36 345.9 " stroke="#fff" stroke-width="0.7" fill="none"/>
<path d="M103.22 348 L103.22 350 M104.09 348.5 L102.36 349.5 M104.09 349.5 L102.36 348.5 " stroke="#fff" stroke-width="0.7" fill="none"/>
<path d="M109 343.9 L109 345.9 M109.86 344.4 L108.13 345.4 M109.86 345.4 L108.13 344.4 " stroke="#fff" stroke-width="0.7" fill="none"/>
<path d="M109 346.85 L109 348.85 M109.86 347.35 L108.13 348.35 M109.86 348.35 L108.13 347.35 " stroke="#fff" stroke-width="0.7" fill="none"/>
<path d="M109 349.8 L109 351.8 M109.86 350.3 L108.13 351.3 M109.86 351.3 L108.13 350.3 " stroke="#fff" stroke-width="0.7" fill="none"/>
<path d="M114.76 343.9 L114.76 345.9 M115.63 344.4 L113.9 345.4 M115.63 345.4 L113.9 344.4 " stroke="#fff" stroke-width="0.7" fill="none"/>
<path d="M114.76 347.15 L114.76 349.15 M115.63 347.65 L113.9 348.65 M115.63 348.65 L113.9 347.65 " stroke="#fff" stroke-width="0.7" fill="none"/>
<path d="M114.76 350.4 L114.76 352.4 M115.63 350.9 L113.9 351.9 M115.63 351.9 L113.9 350.9 " stroke="#fff" stroke-width="0.7" fill="none"/>
<path d="M120.53 338.7 L120.53 340.7 M121.4 339.2 L119.67 340.2 M121.4 340.2 L119.67 339.2 " stroke="#fff" stroke-width="0.7" fill="none"/>
<path d="M120.53 342.75 L120.53 344.75 M121.4 343.25 L119.67 344.25 M121.4 344.25 L119.67 343.25 " stroke="#fff" stroke-width="0.7" fill="none"/>
<path d="M120.53 346.8 L120.53 348.8 M121.4 347.3 L119.67 348.3 M121.4 348.3 L119.67 347.3 " stroke="#fff" stroke-width="0.7" fill="none"/>
<path d="M126.3 345.1 L126.3 347.1 M127.17 345.6 L125.44 346.6 M127.17 346.6 L125.44 345.6 " stroke="#fff" stroke-width="0.7" fill="none"/>
<path d="M126.3 349.2 L126.3 351.2 M127.17 349.7 L125.44 350.7 M127.17 350.7 L125.44 349.7 " stroke="#fff" stroke-width="0.7" fill="none"/>
<path d="M126.3 353.3 L126.3 355.3 M127.17 353.8 L125.44 354.8 M127.17 354.8 L125.44 353.8 " stroke="#fff" stroke-width="0.7" fill="none"/>
<path d="M132.07 343.9 L132.07 345.9 M132.94 344.4 L131.21 345.4 M132.94 345.4 L131.21 344.4 " stroke="#fff" stroke-width="0.7" fill="none"/>
<path d="M132.07 349.2 L132.07 351.2 M132.94 349.7 L131.21 350.7 M132.94 350.7 L131.21 349.7 " stroke="#fff" stroke-width="0.7" fill="none"/>
<path d="M137.84 341.6 L137.84 343.6 M138.71 342.1 L136.98 343.1 M138.71 343.1 L136.98 342.1 " stroke="#fff" stroke-width="0.7" fill="none"/>
<path d="M137.84 348 L137.84 350 M138.71 348.5 L136.98 349.5 M138.71 349.5 L136.98 348.5 " stroke="#fff" stroke-width="0.7" fill="none"/>
<path d="M143.62 344.5 L143.62 346.5 M144.48 345 L142.75 346 M144.48 346 L142.75 345 " stroke="#fff" stroke-width="0.7" fill="none"/>
<path d="M143.62 349.2 L143.62 351.2 M144.48 349.7 L142.75 350.7 M144.48 350.7 L142.75 349.7 " stroke="#fff" stroke-width="0.7" fill="none"/>
<path d="M149.38 340.4 L149.38 342.4 M150.25 340.9 L148.52 341.9 M150.25 341.9 L148.52 340.9 " stroke="#fff" stroke-width="0.7" fill="none"/>
<path d="M149.38 345.7 L149.38 347.7 M150.25 346.2 L148.52 347.2 M150.25 347.2 L148.52 346.2 " stroke="#fff" stroke-width="0.7" fill="none"/>
<path d="M155.15 345.7 L155.15 347.7 M156.02 346.2 L154.29 347.2 M156.02 347.2 L154.29 346.2 " stroke="#fff" stroke-width="0.7" fill="none"/>
<path d="M155.15 350.9 L155.15 352.9 M156.02 351.4 L154.29 352.4 M156.02 352.4 L154.29 351.4 " stroke="#fff" stroke-width="0.7" fill="none"/>
<path d="M160.93 341 L160.93 343 M161.79 341.5 L160.06 342.5 M161.79 342.5 L160.06 341.5 " stroke="#fff" stroke-width="0.7" fill="none"/>
<path d="M160.93 346.3 L160.93 348.3 M161.79 346.8 L160.06 347.8 M161.79 347.8 L160.06 346.8 " stroke="#fff" stroke-width="0.7" fill="none"/>
<path d="M166.69 341.3 L166.69 343.3 M167.56 341.8 L165.83 342.8 M167.56 342.8 L165.83 341.8 " stroke="#fff" stroke-width="0.7" fill="none"/>
<path d="M172.46 345.8 L172.46 347.8 M173.33 346.3 L171.6 347.3 M173.33 347.3 L171.6 346.3 " stroke="#fff" stroke-width="0.7" fill="none"/>
<path d="M178.23 349.8 L178.23 351.8 M179.1 350.3 L177.37 351.3 M179.1 351.3 L177.37 350.3 " stroke="#fff" stroke-width="0.7" fill="none"/>
<path d="M184 341.6 L184 343.6 M184.87 342.1 L183.14 343.1 M184.87 343.1 L183.14 342.1 " stroke="#fff" stroke-width="0.7" fill="none"/>
<path d="M189.77 343.1 L189.77 345.1 M190.64 343.6 L188.91 344.6 M190.64 344.6 L188.91 343.6 " stroke="#fff" stroke-width="0.7" fill="none"/>
<path d="M238.51 420.3 L238.51 422.3 M239.38 420.8 L237.65 421.8 M239.38 421.8 L237.65 420.8 " stroke="#fff" stroke-width="0.7" fill="none"/>
<path d="M238.51 423.6 L238.51 425.6 M239.38 424.1 L237.65 425.1 M239.38 425.1 L237.65 424.1 " stroke="#fff" stroke-width="0.7" fill="none"/>
<path d="M244.34 421.6 L244.34 423.6 M245.21 422.1 L243.48 423.1 M245.21 423.1 L243.48 422.1 " stroke="#fff" stroke-width="0.7" fill="none"/>
<path d="M244.34 424.9 L244.34 426.9 M245.21 425.4 L243.48 426.4 M245.21 426.4 L243.48 425.4 " stroke="#fff" stroke-width="0.7" fill="none"/>
<path d="M250.17 421.8 L250.17 423.8 M251.04 422.3 L249.31 423.3 M251.04 423.3 L249.31 422.3 " stroke="#fff" stroke-width="0.7" fill="none"/>
<path d="M250.17 425.1 L250.17 427.1 M251.04 425.6 L249.31 426.6 M251.04 426.6 L249.31 425.6 " stroke="#fff" stroke-width="0.7" fill="none"/>
<path d="M256 422.9 L256 424.9 M256.87 423.4 L255.14 424.4 M256.87 424.4 L255.14 423.4 " stroke="#fff" stroke-width="0.7" fill="none"/>
<path d="M256 426.4 L256 428.4 M256.87 426.9 L255.14 427.9 M256.87 427.9 L255.14 426.9 " stroke="#fff" stroke-width="0.7" fill="none"/>
<path d="M261.83 423.5 L261.83 425.5 M262.7 424 L260.97 425 M262.7 425 L260.97 424 " stroke="#fff" stroke-width="0.7" fill="none"/>
<path d="M267.66 418.9 L267.66 420.9 M268.53 419.4 L266.8 420.4 M268.53 420.4 L266.8 419.4 " stroke="#fff" stroke-width="0.7" fill="none"/>
<path d="M273.5 420.5 L273.5 422.5 M274.36 421 L272.63 422 M274.36 422 L272.63 421 " stroke="#fff" stroke-width="0.7" fill="none"/>
<path d="M294.48 443.1 L294.48 445.1 M295.34 443.6 L293.61 444.6 M295.34 444.6 L293.61 443.6 " stroke="#fff" stroke-width="0.7" fill="none"/>
<path d="M294.48 446.6 L294.48 448.6 M295.34 447.1 L293.61 448.1 M295.34 448.1 L293.61 447.1 " stroke="#fff" stroke-width="0.7" fill="none"/>
<path d="M294.48 449.7 L294.48 451.7 M295.34 450.2 L293.61 451.2 M295.34 451.2 L293.61 450.2 " stroke="#fff" stroke-width="0.7" fill="none"/>
<path d="M300.23 444.4 L300.23 446.4 M301.09 444.9 L299.36 445.9 M301.09 445.9 L299.36 444.9 " stroke="#fff" stroke-width="0.7" fill="none"/>
<path d="M300.23 447.6 L300.23 449.6 M301.09 448.1 L299.36 449.1 M301.09 449.1 L299.36 448.1 " stroke="#fff" stroke-width="0.7" fill="none"/>
<path d="M305.98 449.5 L305.98 451.5 M306.84 450 L305.11 451 M306.84 451 L305.11 450 " stroke="#fff" stroke-width="0.7" fill="none"/>
<path d="M305.98 453 L305.98 455 M306.84 453.5 L305.11 454.5 M306.84 454.5 L305.11 453.5 " stroke="#fff" stroke-width="0.7" fill="none"/>
<path d="M311.73 448.5 L311.73 450.5 M312.59 449 L310.86 450 M312.59 450 L310.86 449 " stroke="#fff" stroke-width="0.7" fill="none"/>
<path d="M311.73 451.7 L311.73 453.7 M312.59 452.2 L310.86 453.2 M312.59 453.2 L310.86 452.2 " stroke="#fff" stroke-width="0.7" fill="none"/>
<path d="M317.48 454.8 L317.48 456.8 M318.34 455.3 L316.61 456.3 M318.34 456.3 L316.61 455.3 " stroke="#fff" stroke-width="0.7" fill="none"/>
<path d="M323.23 453.7 L323.23 455.7 M324.09 454.2 L322.36 455.2 M324.09 455.2 L322.36 454.2 " stroke="#fff" stroke-width="0.7" fill="none"/>
<text x="65.5" y="488.6" font-size="6.68" text-anchor="middle" font-weight="normal" fill="#231f20" >MK-biased</text>
<text x="65.5" y="496.8" font-size="6.68" text-anchor="middle" font-weight="normal" fill="#231f20" >clones</text>
<text x="158" y="488.6" font-size="6.68" text-anchor="middle" font-weight="normal" fill="#231f20" >Lymphoid-biased</text>
<text x="158" y="496.8" font-size="6.68" text-anchor="middle" font-weight="normal" fill="#231f20" >clones</text>
<text x="259" y="488.6" font-size="6.68" text-anchor="middle" font-weight="normal" fill="#231f20" >Ery-biased</text>
<text x="259" y="496.8" font-size="6.68" text-anchor="middle" font-weight="normal" fill="#231f20" >clones</text>
<text x="322" y="488.6" font-size="6.68" text-anchor="middle" font-weight="normal" fill="#231f20" >Mye-biased</text>
<text x="322" y="496.8" font-size="6.68" text-anchor="middle" font-weight="normal" fill="#231f20" >clones</text>
<text x="449.4" y="488.6" font-size="6.68" text-anchor="middle" font-weight="normal" fill="#231f20" >Less biased clones</text>
<defs><linearGradient id="cb" x1="0" y1="0" x2="0" y2="1"><stop offset="0" stop-color="#ed8066"/><stop offset="0.05" stop-color="#f09178"/><stop offset="0.1" stop-color="#f3a289"/><stop offset="0.15" stop-color="#f6b39c"/><stop offset="0.2" stop-color="#f8c5b2"/><stop offset="0.25" stop-color="#fad7c8"/><stop offset="0.3" stop-color="#fce8df"/><stop offset="0.35" stop-color="#fef9f6"/><stop offset="0.4" stop-color="#f6f9fc"/><stop offset="0.45" stop-color="#e9eff8"/><stop offset="0.5" stop-color="#d9e5f3"/><stop offset="0.55" stop-color="#c6d8ed"/><stop offset="0.6" stop-color="#b3cbe7"/><stop offset="0.65" stop-color="#a0bddf"/><stop offset="0.7" stop-color="#8eb0d7"/><stop offset="0.75" stop-color="#7ba2cf"/><stop offset="0.8" stop-color="#6994c7"/><stop offset="0.85" stop-color="#5787bf"/><stop offset="0.9" stop-color="#4d7eb9"/><stop offset="0.95" stop-color="#4475b3"/><stop offset="1" stop-color="#3a6cad"/></linearGradient></defs>
<rect x="17.7" y="349.1" width="8.1" height="41.3" fill="url(#cb)" />
<line x1="25.8" y1="354.6" x2="27" y2="354.6" stroke="#555" stroke-width="0.5" />
<text x="28.2" y="356.9" font-size="6.68" text-anchor="start" font-weight="normal" fill="#231f20" >1</text>
<line x1="25.8" y1="364.4" x2="27" y2="364.4" stroke="#555" stroke-width="0.5" />
<text x="28.2" y="366.7" font-size="6.68" text-anchor="start" font-weight="normal" fill="#231f20" >0</text>
<line x1="25.8" y1="374.2" x2="27" y2="374.2" stroke="#555" stroke-width="0.5" />
<text x="28.2" y="376.5" font-size="6.68" text-anchor="start" font-weight="normal" fill="#231f20" >−1</text>
<line x1="25.8" y1="384" x2="27" y2="384" stroke="#555" stroke-width="0.5" />
<text x="28.2" y="386.3" font-size="6.68" text-anchor="start" font-weight="normal" fill="#231f20" >−2</text>
<text x="11.8" y="369.8" font-size="6.68" text-anchor="middle" font-weight="normal" fill="#231f20" transform="rotate(-90 11.8 369.8)" >log<tspan font-size="4.6" dy="1.4">2</tspan><tspan dy="-1.4">(enrich. fold)</tspan></text>
<text x="46.8" y="406.3" font-size="6.68" text-anchor="middle" font-weight="normal" fill="#231f20" transform="rotate(-90 46.8 406.3)" >Percentage lineage contribution  per clone</text>
<rect x="8.9" y="440.8" width="6.9" height="6.5" fill="#bc3c2a" />
<text x="18.1" y="446.6" font-size="6.68" text-anchor="start" font-weight="normal" fill="#231f20" >MK</text>
<rect x="8.9" y="450.07" width="6.9" height="6.5" fill="#0572b6" />
<text x="18.1" y="455.87" font-size="6.68" text-anchor="start" font-weight="normal" fill="#231f20" >Lym</text>
<rect x="8.9" y="459.34" width="6.9" height="6.5" fill="#de8726" />
<text x="18.1" y="465.14" font-size="6.68" text-anchor="start" font-weight="normal" fill="#231f20" >Ery</text>
<rect x="8.9" y="468.61" width="6.9" height="6.5" fill="#1e8250" />
<text x="18.1" y="474.41" font-size="6.68" text-anchor="start" font-weight="normal" fill="#231f20" >Mye</text>
<text x="553" y="259.8" font-size="10.5" text-anchor="start" font-weight="bold" fill="#231f20" >f</text>
<path d="M588.5 274.4 L592.17 276.08 L595.84 277.69 L599.51 279.25 L603.18 280.76 L606.85 282.2 L610.52 283.59 L614.19 284.91 L617.86 286.18 L621.53 287.4 L625.2 288.55 L628.87 289.64 L632.54 290.64 L636.21 291.57 L639.88 292.43 L643.55 293.2 L647.22 293.9 L650.89 294.51 L654.56 295.05 L658.23 295.52 L661.9 295.9 L661.9 309.5 L658.23 307.63 L654.56 305.85 L650.89 304.14 L647.22 302.5 L643.55 300.95 L639.88 299.47 L636.21 298.08 L632.54 296.76 L628.87 295.51 L625.2 294.35 L621.53 293.25 L617.86 292.22 L614.19 291.24 L610.52 290.31 L606.85 289.45 L603.18 288.64 L599.51 287.9 L595.84 287.21 L592.17 286.57 L588.5 286Z" fill="#d4d4d4" fill-opacity="0.85"/>
<line x1="588.5" y1="280.2" x2="661.9" y2="302.7" stroke="#a8322d" stroke-width="0.9" />
<circle cx="618.17" cy="256.54" r="0.9" fill="#3a73a8" />
<circle cx="596.09" cy="263.49" r="0.9" fill="#3a73a8" />
<circle cx="610.6" cy="265.94" r="0.9" fill="#3a73a8" />
<circle cx="601" cy="267.37" r="0.9" fill="#3a73a8" />
<circle cx="598.75" cy="269.42" r="0.9" fill="#3a73a8" />
<circle cx="601.82" cy="269.01" r="0.9" fill="#3a73a8" />
<circle cx="630.84" cy="270.44" r="0.9" fill="#3a73a8" />
<circle cx="591.8" cy="272.48" r="0.9" fill="#3a73a8" />
<circle cx="600.79" cy="272.48" r="0.9" fill="#3a73a8" />
<circle cx="598.14" cy="274.93" r="0.9" fill="#3a73a8" />
<circle cx="605.49" cy="275.96" r="0.9" fill="#3a73a8" />
<circle cx="610.2" cy="273.71" r="0.9" fill="#3a73a8" />
<circle cx="616.94" cy="274.12" r="0.9" fill="#3a73a8" />
<circle cx="622.05" cy="274.93" r="0.9" fill="#3a73a8" />
<circle cx="593.03" cy="277.18" r="0.9" fill="#3a73a8" />
<circle cx="594.25" cy="277.79" r="0.9" fill="#3a73a8" />
<circle cx="609.17" cy="278.61" r="0.9" fill="#3a73a8" />
<circle cx="615.51" cy="279.43" r="0.9" fill="#3a73a8" />
<circle cx="613.47" cy="280.25" r="0.9" fill="#3a73a8" />
<circle cx="626.55" cy="281.68" r="0.9" fill="#3a73a8" />
<circle cx="645.76" cy="278.61" r="0.9" fill="#3a73a8" />
<circle cx="646.78" cy="280.66" r="0.9" fill="#3a73a8" />
<circle cx="596.71" cy="284.74" r="0.9" fill="#3a73a8" />
<circle cx="598.55" cy="286.79" r="0.9" fill="#3a73a8" />
<circle cx="600.18" cy="286.79" r="0.9" fill="#3a73a8" />
<circle cx="606.72" cy="284.33" r="0.9" fill="#3a73a8" />
<circle cx="610.81" cy="283.11" r="0.9" fill="#3a73a8" />
<circle cx="617.55" cy="283.31" r="0.9" fill="#3a73a8" />
<circle cx="621.03" cy="286.79" r="0.9" fill="#3a73a8" />
<circle cx="634.52" cy="285.15" r="0.9" fill="#3a73a8" />
<circle cx="634.92" cy="287.2" r="0.9" fill="#3a73a8" />
<circle cx="644.33" cy="286.79" r="0.9" fill="#3a73a8" />
<circle cx="647.19" cy="286.38" r="0.9" fill="#3a73a8" />
<circle cx="588.33" cy="289.44" r="0.9" fill="#3a73a8" />
<circle cx="605.29" cy="289.85" r="0.9" fill="#3a73a8" />
<circle cx="607.33" cy="290.47" r="0.9" fill="#3a73a8" />
<circle cx="608.36" cy="291.9" r="0.9" fill="#3a73a8" />
<circle cx="611.42" cy="289.24" r="0.9" fill="#3a73a8" />
<circle cx="615.1" cy="291.28" r="0.9" fill="#3a73a8" />
<circle cx="616.12" cy="291.9" r="0.9" fill="#3a73a8" />
<circle cx="612.44" cy="293.94" r="0.9" fill="#3a73a8" />
<circle cx="608.36" cy="294.96" r="0.9" fill="#3a73a8" />
<circle cx="604.27" cy="294.55" r="0.9" fill="#3a73a8" />
<circle cx="611.42" cy="294.96" r="0.9" fill="#3a73a8" />
<circle cx="614.08" cy="295.98" r="0.9" fill="#3a73a8" />
<circle cx="627.77" cy="292.51" r="0.9" fill="#3a73a8" />
<circle cx="634.92" cy="294.55" r="0.9" fill="#3a73a8" />
<circle cx="637.99" cy="295.37" r="0.9" fill="#3a73a8" />
<circle cx="602.84" cy="297.41" r="0.9" fill="#3a73a8" />
<circle cx="604.68" cy="299.05" r="0.9" fill="#3a73a8" />
<circle cx="606.93" cy="298.64" r="0.9" fill="#3a73a8" />
<circle cx="610.4" cy="298.23" r="0.9" fill="#3a73a8" />
<circle cx="612.85" cy="299.46" r="0.9" fill="#3a73a8" />
<circle cx="618.57" cy="299.05" r="0.9" fill="#3a73a8" />
<circle cx="615.51" cy="300.68" r="0.9" fill="#3a73a8" />
<circle cx="617.14" cy="301.09" r="0.9" fill="#3a73a8" />
<circle cx="620.01" cy="301.71" r="0.9" fill="#3a73a8" />
<circle cx="621.64" cy="301.5" r="0.9" fill="#3a73a8" />
<circle cx="624.71" cy="302.73" r="0.9" fill="#3a73a8" />
<circle cx="628.79" cy="302.73" r="0.9" fill="#3a73a8" />
<circle cx="630.84" cy="302.12" r="0.9" fill="#3a73a8" />
<circle cx="631.86" cy="303.55" r="0.9" fill="#3a73a8" />
<circle cx="635.95" cy="304.16" r="0.9" fill="#3a73a8" />
<circle cx="636.56" cy="305.59" r="0.9" fill="#3a73a8" />
<circle cx="641.06" cy="299.05" r="0.9" fill="#3a73a8" />
<circle cx="645.14" cy="300.07" r="0.9" fill="#3a73a8" />
<circle cx="650.25" cy="301.09" r="0.9" fill="#3a73a8" />
<circle cx="645.76" cy="302.12" r="0.9" fill="#3a73a8" />
<circle cx="651.27" cy="304.16" r="0.9" fill="#3a73a8" />
<circle cx="661.49" cy="297.01" r="0.9" fill="#3a73a8" />
<circle cx="662.51" cy="310.29" r="0.9" fill="#3a73a8" />
<circle cx="595.68" cy="308.66" r="0.9" fill="#3a73a8" />
<circle cx="611.83" cy="315.4" r="0.9" fill="#3a73a8" />
<line x1="582.7" y1="264.4" x2="584.9" y2="264.4" stroke="#231f20" stroke-width="0.6" />
<text x="581.5" y="266.7" font-size="6.68" text-anchor="end" font-weight="normal" fill="#231f20" >2</text>
<line x1="582.7" y1="276.9" x2="584.9" y2="276.9" stroke="#231f20" stroke-width="0.6" />
<text x="581.5" y="279.2" font-size="6.68" text-anchor="end" font-weight="normal" fill="#231f20" >1</text>
<line x1="582.7" y1="289.4" x2="584.9" y2="289.4" stroke="#231f20" stroke-width="0.6" />
<text x="581.5" y="291.7" font-size="6.68" text-anchor="end" font-weight="normal" fill="#231f20" >0</text>
<line x1="582.7" y1="301.9" x2="584.9" y2="301.9" stroke="#231f20" stroke-width="0.6" />
<text x="581.5" y="304.2" font-size="6.68" text-anchor="end" font-weight="normal" fill="#231f20" >−1</text>
<line x1="584.9" y1="253.5" x2="584.9" y2="313.4" stroke="#231f20" stroke-width="0.8" />
<line x1="584.9" y1="313.4" x2="663.8" y2="313.4" stroke="#505050" stroke-width="0.8" />
<text x="558.6" y="283.45" font-size="6.68" text-anchor="middle" font-weight="normal" fill="#231f20" transform="rotate(-90 558.6 283.45)" >Lym bias</text>
<text x="565.5" y="283.45" font-size="6.68" text-anchor="middle" font-weight="normal" fill="#231f20" transform="rotate(-90 565.5 283.45)" >(<tspan font-style="italic">z</tspan>-score)</text>
<text x="686" y="261.1" font-size="6.68" text-anchor="end" font-weight="normal" fill="#231f20" >Slope = −0.4</text>
<text x="686" y="268" font-size="6.68" text-anchor="end" font-weight="normal" fill="#231f20" ><tspan font-style="italic">P</tspan> = 6 × 10<tspan font-size="4.6" dy="-2.3">−5</tspan></text>
<path d="M588.5 338.3 L592.17 339.05 L595.84 339.73 L599.51 340.36 L603.18 340.94 L606.85 341.45 L610.52 341.91 L614.19 342.3 L617.86 342.64 L621.53 342.93 L625.2 343.15 L628.87 343.31 L632.54 343.38 L636.21 343.38 L639.88 343.31 L643.55 343.15 L647.22 342.92 L650.89 342.6 L654.56 342.21 L658.23 341.75 L661.9 341.2 L661.9 354.8 L658.23 353.86 L654.56 353.01 L650.89 352.23 L647.22 351.52 L643.55 350.9 L639.88 350.35 L636.21 349.89 L632.54 349.5 L628.87 349.18 L625.2 348.95 L621.53 348.78 L617.86 348.68 L614.19 348.63 L610.52 348.63 L606.85 348.7 L603.18 348.82 L599.51 349.01 L595.84 349.25 L592.17 349.54 L588.5 349.9Z" fill="#d4d4d4" fill-opacity="0.85"/>
<line x1="588.5" y1="344.1" x2="661.9" y2="348" stroke="#a8322d" stroke-width="0.9" />
<circle cx="611.83" cy="315.72" r="0.9" fill="#3a73a8" />
<circle cx="593.03" cy="320.22" r="0.9" fill="#3a73a8" />
<circle cx="601.2" cy="320.22" r="0.9" fill="#3a73a8" />
<circle cx="594.66" cy="328.8" r="0.9" fill="#3a73a8" />
<circle cx="607.74" cy="330.44" r="0.9" fill="#3a73a8" />
<circle cx="611.83" cy="330.44" r="0.9" fill="#3a73a8" />
<circle cx="614.9" cy="329.42" r="0.9" fill="#3a73a8" />
<circle cx="621.03" cy="330.44" r="0.9" fill="#3a73a8" />
<circle cx="631.25" cy="330.44" r="0.9" fill="#3a73a8" />
<circle cx="636.35" cy="329.82" r="0.9" fill="#3a73a8" />
<circle cx="616.94" cy="333.91" r="0.9" fill="#3a73a8" />
<circle cx="621.03" cy="335.96" r="0.9" fill="#3a73a8" />
<circle cx="610.81" cy="335.55" r="0.9" fill="#3a73a8" />
<circle cx="629.2" cy="335.96" r="0.9" fill="#3a73a8" />
<circle cx="634.31" cy="336.57" r="0.9" fill="#3a73a8" />
<circle cx="592.01" cy="337.18" r="0.9" fill="#3a73a8" />
<circle cx="596.09" cy="337.18" r="0.9" fill="#3a73a8" />
<circle cx="599.77" cy="338" r="0.9" fill="#3a73a8" />
<circle cx="602.63" cy="339.02" r="0.9" fill="#3a73a8" />
<circle cx="600.59" cy="341.06" r="0.9" fill="#3a73a8" />
<circle cx="606.72" cy="339.02" r="0.9" fill="#3a73a8" />
<circle cx="609.79" cy="339.63" r="0.9" fill="#3a73a8" />
<circle cx="614.9" cy="339.63" r="0.9" fill="#3a73a8" />
<circle cx="624.09" cy="339.23" r="0.9" fill="#3a73a8" />
<circle cx="633.29" cy="340.04" r="0.9" fill="#3a73a8" />
<circle cx="655.36" cy="338" r="0.9" fill="#3a73a8" />
<circle cx="649.84" cy="340.66" r="0.9" fill="#3a73a8" />
<circle cx="661.9" cy="341.06" r="0.9" fill="#3a73a8" />
<circle cx="588.53" cy="347.81" r="0.9" fill="#3a73a8" />
<circle cx="598.14" cy="345.77" r="0.9" fill="#3a73a8" />
<circle cx="601.61" cy="342.7" r="0.9" fill="#3a73a8" />
<circle cx="605.7" cy="342.7" r="0.9" fill="#3a73a8" />
<circle cx="609.99" cy="342.7" r="0.9" fill="#3a73a8" />
<circle cx="603.66" cy="347.4" r="0.9" fill="#3a73a8" />
<circle cx="606.72" cy="347.4" r="0.9" fill="#3a73a8" />
<circle cx="610.81" cy="346.38" r="0.9" fill="#3a73a8" />
<circle cx="614.08" cy="345.77" r="0.9" fill="#3a73a8" />
<circle cx="616.53" cy="347.81" r="0.9" fill="#3a73a8" />
<circle cx="619.19" cy="346.38" r="0.9" fill="#3a73a8" />
<circle cx="621.84" cy="346.17" r="0.9" fill="#3a73a8" />
<circle cx="627.16" cy="345.77" r="0.9" fill="#3a73a8" />
<circle cx="631.45" cy="346.79" r="0.9" fill="#3a73a8" />
<circle cx="636.56" cy="344.74" r="0.9" fill="#3a73a8" />
<circle cx="641.06" cy="345.36" r="0.9" fill="#3a73a8" />
<circle cx="647.19" cy="345.77" r="0.9" fill="#3a73a8" />
<circle cx="645.55" cy="348.83" r="0.9" fill="#3a73a8" />
<circle cx="646.78" cy="349.85" r="0.9" fill="#3a73a8" />
<circle cx="614.9" cy="349.44" r="0.9" fill="#3a73a8" />
<circle cx="618.17" cy="348.83" r="0.9" fill="#3a73a8" />
<circle cx="619.8" cy="348.22" r="0.9" fill="#3a73a8" />
<circle cx="598.55" cy="350.87" r="0.9" fill="#3a73a8" />
<circle cx="608.76" cy="351.49" r="0.9" fill="#3a73a8" />
<circle cx="611.83" cy="353.94" r="0.9" fill="#3a73a8" />
<circle cx="617.96" cy="357.01" r="0.9" fill="#3a73a8" />
<circle cx="622.05" cy="358.64" r="0.9" fill="#3a73a8" />
<circle cx="628.18" cy="353.94" r="0.9" fill="#3a73a8" />
<circle cx="630.22" cy="354.96" r="0.9" fill="#3a73a8" />
<circle cx="633.29" cy="355.37" r="0.9" fill="#3a73a8" />
<circle cx="631.25" cy="359.05" r="0.9" fill="#3a73a8" />
<circle cx="644.73" cy="357.01" r="0.9" fill="#3a73a8" />
<circle cx="646.16" cy="360.07" r="0.9" fill="#3a73a8" />
<circle cx="660.88" cy="353.33" r="0.9" fill="#3a73a8" />
<circle cx="596.09" cy="359.46" r="0.9" fill="#3a73a8" />
<circle cx="604.68" cy="354.55" r="0.9" fill="#3a73a8" />
<circle cx="604.68" cy="355.98" r="0.9" fill="#3a73a8" />
<circle cx="610.81" cy="358.64" r="0.9" fill="#3a73a8" />
<circle cx="613.06" cy="362.12" r="0.9" fill="#3a73a8" />
<circle cx="613.87" cy="363.55" r="0.9" fill="#3a73a8" />
<circle cx="618.17" cy="363.55" r="0.9" fill="#3a73a8" />
<circle cx="596.09" cy="363.14" r="0.9" fill="#3a73a8" />
<circle cx="601.2" cy="362.12" r="0.9" fill="#3a73a8" />
<circle cx="598.14" cy="369.68" r="0.9" fill="#3a73a8" />
<circle cx="609.79" cy="369.27" r="0.9" fill="#3a73a8" />
<line x1="582.7" y1="323" x2="584.9" y2="323" stroke="#231f20" stroke-width="0.6" />
<text x="581.5" y="325.3" font-size="6.68" text-anchor="end" font-weight="normal" fill="#231f20" >2</text>
<line x1="582.7" y1="334.6" x2="584.9" y2="334.6" stroke="#231f20" stroke-width="0.6" />
<text x="581.5" y="336.9" font-size="6.68" text-anchor="end" font-weight="normal" fill="#231f20" >1</text>
<line x1="582.7" y1="346.2" x2="584.9" y2="346.2" stroke="#231f20" stroke-width="0.6" />
<text x="581.5" y="348.5" font-size="6.68" text-anchor="end" font-weight="normal" fill="#231f20" >0</text>
<line x1="582.7" y1="357.8" x2="584.9" y2="357.8" stroke="#231f20" stroke-width="0.6" />
<text x="581.5" y="360.1" font-size="6.68" text-anchor="end" font-weight="normal" fill="#231f20" >−1</text>
<line x1="582.7" y1="369.4" x2="584.9" y2="369.4" stroke="#231f20" stroke-width="0.6" />
<text x="581.5" y="371.7" font-size="6.68" text-anchor="end" font-weight="normal" fill="#231f20" >−2</text>
<line x1="584.9" y1="313.4" x2="584.9" y2="372.1" stroke="#231f20" stroke-width="0.8" />
<line x1="584.9" y1="372.1" x2="663.8" y2="372.1" stroke="#505050" stroke-width="0.8" />
<text x="558.6" y="342.75" font-size="6.68" text-anchor="middle" font-weight="normal" fill="#231f20" transform="rotate(-90 558.6 342.75)" >MK bias</text>
<text x="565.5" y="342.75" font-size="6.68" text-anchor="middle" font-weight="normal" fill="#231f20" transform="rotate(-90 565.5 342.75)" >(<tspan font-style="italic">z</tspan>-score)</text>
<text x="686" y="320.5" font-size="6.68" text-anchor="end" font-weight="normal" fill="#231f20" >Slope = −0.1</text>
<text x="686" y="327.4" font-size="6.68" text-anchor="end" font-weight="normal" fill="#231f20" ><tspan font-style="italic">P</tspan> = 0.4</text>
<path d="M588.5 409.6 L592.17 408.93 L595.84 408.2 L599.51 407.42 L603.18 406.58 L606.85 405.67 L610.52 404.72 L614.19 403.7 L617.86 402.62 L621.53 401.49 L625.2 400.3 L628.87 399.04 L632.54 397.7 L636.21 396.29 L639.88 394.8 L643.55 393.23 L647.22 391.58 L650.89 389.85 L654.56 388.04 L658.23 386.16 L661.9 384.2 L661.9 397.8 L658.23 398.28 L654.56 398.84 L650.89 399.47 L647.22 400.18 L643.55 400.98 L639.88 401.84 L636.21 402.79 L632.54 403.82 L628.87 404.92 L625.2 406.1 L621.53 407.35 L617.86 408.66 L614.19 410.02 L610.52 411.44 L606.85 412.92 L603.18 414.46 L599.51 416.06 L595.84 417.72 L592.17 419.43 L588.5 421.2Z" fill="#d4d4d4" fill-opacity="0.85"/>
<line x1="588.5" y1="415.4" x2="661.9" y2="391" stroke="#a8322d" stroke-width="0.9" />
<circle cx="644.53" cy="375.11" r="0.9" fill="#3a73a8" />
<circle cx="611.01" cy="379.61" r="0.9" fill="#3a73a8" />
<circle cx="621.64" cy="380.63" r="0.9" fill="#3a73a8" />
<circle cx="615.51" cy="384.92" r="0.9" fill="#3a73a8" />
<circle cx="620.62" cy="384.92" r="0.9" fill="#3a73a8" />
<circle cx="631.25" cy="383.28" r="0.9" fill="#3a73a8" />
<circle cx="633.29" cy="383.69" r="0.9" fill="#3a73a8" />
<circle cx="634.92" cy="381.85" r="0.9" fill="#3a73a8" />
<circle cx="636.56" cy="383.9" r="0.9" fill="#3a73a8" />
<circle cx="661.9" cy="386.76" r="0.9" fill="#3a73a8" />
<circle cx="618.98" cy="392.89" r="0.9" fill="#3a73a8" />
<circle cx="629.41" cy="392.89" r="0.9" fill="#3a73a8" />
<circle cx="645.55" cy="392.07" r="0.9" fill="#3a73a8" />
<circle cx="650.25" cy="392.07" r="0.9" fill="#3a73a8" />
<circle cx="661.08" cy="392.89" r="0.9" fill="#3a73a8" />
<circle cx="602.84" cy="394.93" r="0.9" fill="#3a73a8" />
<circle cx="592.01" cy="401.27" r="0.9" fill="#3a73a8" />
<circle cx="595.68" cy="400.04" r="0.9" fill="#3a73a8" />
<circle cx="604.88" cy="398.61" r="0.9" fill="#3a73a8" />
<circle cx="607.33" cy="398" r="0.9" fill="#3a73a8" />
<circle cx="624.71" cy="397.59" r="0.9" fill="#3a73a8" />
<circle cx="626.75" cy="398.61" r="0.9" fill="#3a73a8" />
<circle cx="629.41" cy="399.23" r="0.9" fill="#3a73a8" />
<circle cx="630.84" cy="398" r="0.9" fill="#3a73a8" />
<circle cx="635.95" cy="396.57" r="0.9" fill="#3a73a8" />
<circle cx="655.36" cy="395.55" r="0.9" fill="#3a73a8" />
<circle cx="649.23" cy="399.63" r="0.9" fill="#3a73a8" />
<circle cx="588.33" cy="405.77" r="0.9" fill="#3a73a8" />
<circle cx="599.77" cy="402.7" r="0.9" fill="#3a73a8" />
<circle cx="607.95" cy="403.72" r="0.9" fill="#3a73a8" />
<circle cx="609.99" cy="403.31" r="0.9" fill="#3a73a8" />
<circle cx="612.85" cy="404.33" r="0.9" fill="#3a73a8" />
<circle cx="616.53" cy="404.74" r="0.9" fill="#3a73a8" />
<circle cx="618.17" cy="403.31" r="0.9" fill="#3a73a8" />
<circle cx="620.21" cy="406.38" r="0.9" fill="#3a73a8" />
<circle cx="621.64" cy="405.77" r="0.9" fill="#3a73a8" />
<circle cx="623.07" cy="404.74" r="0.9" fill="#3a73a8" />
<circle cx="626.34" cy="401.06" r="0.9" fill="#3a73a8" />
<circle cx="630.84" cy="406.79" r="0.9" fill="#3a73a8" />
<circle cx="633.9" cy="405.77" r="0.9" fill="#3a73a8" />
<circle cx="636.35" cy="407.81" r="0.9" fill="#3a73a8" />
<circle cx="646.98" cy="406.38" r="0.9" fill="#3a73a8" />
<circle cx="596.71" cy="410.87" r="0.9" fill="#3a73a8" />
<circle cx="598.55" cy="409.44" r="0.9" fill="#3a73a8" />
<circle cx="606.31" cy="408.83" r="0.9" fill="#3a73a8" />
<circle cx="602.63" cy="409.85" r="0.9" fill="#3a73a8" />
<circle cx="606.72" cy="412.92" r="0.9" fill="#3a73a8" />
<circle cx="610.4" cy="410.87" r="0.9" fill="#3a73a8" />
<circle cx="609.38" cy="413.94" r="0.9" fill="#3a73a8" />
<circle cx="611.42" cy="411.9" r="0.9" fill="#3a73a8" />
<circle cx="613.87" cy="412.92" r="0.9" fill="#3a73a8" />
<circle cx="614.49" cy="414.96" r="0.9" fill="#3a73a8" />
<circle cx="616.53" cy="411.9" r="0.9" fill="#3a73a8" />
<circle cx="607.74" cy="413.94" r="0.9" fill="#3a73a8" />
<circle cx="610.4" cy="417.01" r="0.9" fill="#3a73a8" />
<circle cx="612.44" cy="419.05" r="0.9" fill="#3a73a8" />
<circle cx="614.08" cy="418.44" r="0.9" fill="#3a73a8" />
<circle cx="641.06" cy="413.53" r="0.9" fill="#3a73a8" />
<circle cx="644.12" cy="412.92" r="0.9" fill="#3a73a8" />
<circle cx="646.78" cy="413.53" r="0.9" fill="#3a73a8" />
<circle cx="634.31" cy="414.35" r="0.9" fill="#3a73a8" />
<circle cx="645.76" cy="419.66" r="0.9" fill="#3a73a8" />
<circle cx="598.14" cy="420.07" r="0.9" fill="#3a73a8" />
<circle cx="600.18" cy="419.66" r="0.9" fill="#3a73a8" />
<circle cx="594.05" cy="421.09" r="0.9" fill="#3a73a8" />
<circle cx="601.2" cy="418.44" r="0.9" fill="#3a73a8" />
<circle cx="601.82" cy="422.73" r="0.9" fill="#3a73a8" />
<circle cx="604.88" cy="422.73" r="0.9" fill="#3a73a8" />
<circle cx="615.51" cy="423.55" r="0.9" fill="#3a73a8" />
<circle cx="618.17" cy="422.52" r="0.9" fill="#3a73a8" />
<circle cx="596.09" cy="427.63" r="0.9" fill="#3a73a8" />
<circle cx="598.75" cy="426.2" r="0.9" fill="#3a73a8" />
<circle cx="600.18" cy="427.22" r="0.9" fill="#3a73a8" />
<circle cx="601.2" cy="426.2" r="0.9" fill="#3a73a8" />
<circle cx="593.03" cy="428.86" r="0.9" fill="#3a73a8" />
<circle cx="618.98" cy="434.38" r="0.9" fill="#3a73a8" />
<line x1="582.7" y1="379.8" x2="584.9" y2="379.8" stroke="#231f20" stroke-width="0.6" />
<text x="581.5" y="382.1" font-size="6.68" text-anchor="end" font-weight="normal" fill="#231f20" >2</text>
<line x1="582.7" y1="392.6" x2="584.9" y2="392.6" stroke="#231f20" stroke-width="0.6" />
<text x="581.5" y="394.9" font-size="6.68" text-anchor="end" font-weight="normal" fill="#231f20" >1</text>
<line x1="582.7" y1="405.4" x2="584.9" y2="405.4" stroke="#231f20" stroke-width="0.6" />
<text x="581.5" y="407.7" font-size="6.68" text-anchor="end" font-weight="normal" fill="#231f20" >0</text>
<line x1="582.7" y1="418.2" x2="584.9" y2="418.2" stroke="#231f20" stroke-width="0.6" />
<text x="581.5" y="420.5" font-size="6.68" text-anchor="end" font-weight="normal" fill="#231f20" >−1</text>
<line x1="582.7" y1="431" x2="584.9" y2="431" stroke="#231f20" stroke-width="0.6" />
<text x="581.5" y="433.3" font-size="6.68" text-anchor="end" font-weight="normal" fill="#231f20" >−2</text>
<line x1="584.9" y1="372.1" x2="584.9" y2="431.3" stroke="#231f20" stroke-width="0.8" />
<line x1="584.9" y1="431.3" x2="663.8" y2="431.3" stroke="#505050" stroke-width="0.8" />
<text x="558.6" y="401.7" font-size="6.68" text-anchor="middle" font-weight="normal" fill="#231f20" transform="rotate(-90 558.6 401.7)" >ME bias</text>
<text x="565.5" y="401.7" font-size="6.68" text-anchor="middle" font-weight="normal" fill="#231f20" transform="rotate(-90 565.5 401.7)" >(<tspan font-style="italic">z</tspan>-score)</text>
<text x="686" y="421.3" font-size="6.68" text-anchor="end" font-weight="normal" fill="#231f20" >Slope = 0.47</text>
<text x="686" y="428.2" font-size="6.68" text-anchor="end" font-weight="normal" fill="#231f20" ><tspan font-style="italic">P</tspan> = 1 × 10<tspan font-size="4.6" dy="-2.3">−5</tspan></text>
<path d="M588.5 464.6 L592.17 464.19 L595.84 463.72 L599.51 463.2 L603.18 462.62 L606.85 461.97 L610.52 461.28 L614.19 460.52 L617.86 459.7 L621.53 458.83 L625.2 457.9 L628.87 456.9 L632.54 455.82 L636.21 454.67 L639.88 453.44 L643.55 452.12 L647.22 450.74 L650.89 449.27 L654.56 447.72 L658.23 446.1 L661.9 444.4 L661.9 458 L658.23 458.22 L654.56 458.52 L650.89 458.89 L647.22 459.34 L643.55 459.88 L639.88 460.48 L636.21 461.17 L632.54 461.94 L628.87 462.78 L625.2 463.7 L621.53 464.69 L617.86 465.74 L614.19 466.84 L610.52 468 L606.85 469.22 L603.18 470.5 L599.51 471.84 L595.84 473.24 L592.17 474.69 L588.5 476.2Z" fill="#d4d4d4" fill-opacity="0.85"/>
<line x1="588.5" y1="470.4" x2="661.9" y2="451.2" stroke="#a8322d" stroke-width="0.9" />
<circle cx="592.62" cy="428.68" r="0.9" fill="#3a73a8" />
<circle cx="595.68" cy="427.45" r="0.9" fill="#3a73a8" />
<circle cx="598.55" cy="427.04" r="0.9" fill="#3a73a8" />
<circle cx="601.2" cy="427.45" r="0.9" fill="#3a73a8" />
<circle cx="618.98" cy="434.61" r="0.9" fill="#3a73a8" />
<circle cx="650.25" cy="439.31" r="0.9" fill="#3a73a8" />
<circle cx="604.68" cy="445.85" r="0.9" fill="#3a73a8" />
<circle cx="613.87" cy="448.5" r="0.9" fill="#3a73a8" />
<circle cx="618.17" cy="444.82" r="0.9" fill="#3a73a8" />
<circle cx="645.76" cy="446.05" r="0.9" fill="#3a73a8" />
<circle cx="655.97" cy="444.82" r="0.9" fill="#3a73a8" />
<circle cx="661.9" cy="445.44" r="0.9" fill="#3a73a8" />
<circle cx="649.84" cy="447.89" r="0.9" fill="#3a73a8" />
<circle cx="588.33" cy="451.57" r="0.9" fill="#3a73a8" />
<circle cx="596.09" cy="451.57" r="0.9" fill="#3a73a8" />
<circle cx="603.25" cy="450.96" r="0.9" fill="#3a73a8" />
<circle cx="607.33" cy="451.98" r="0.9" fill="#3a73a8" />
<circle cx="615.1" cy="450.55" r="0.9" fill="#3a73a8" />
<circle cx="616.12" cy="453" r="0.9" fill="#3a73a8" />
<circle cx="629.2" cy="452.59" r="0.9" fill="#3a73a8" />
<circle cx="631.25" cy="452.18" r="0.9" fill="#3a73a8" />
<circle cx="636.56" cy="452.59" r="0.9" fill="#3a73a8" />
<circle cx="661.49" cy="453.61" r="0.9" fill="#3a73a8" />
<circle cx="606.31" cy="455.25" r="0.9" fill="#3a73a8" />
<circle cx="604.88" cy="457.7" r="0.9" fill="#3a73a8" />
<circle cx="614.49" cy="454.63" r="0.9" fill="#3a73a8" />
<circle cx="616.94" cy="456.06" r="0.9" fill="#3a73a8" />
<circle cx="618.17" cy="457.7" r="0.9" fill="#3a73a8" />
<circle cx="620.62" cy="458.11" r="0.9" fill="#3a73a8" />
<circle cx="630.84" cy="456.68" r="0.9" fill="#3a73a8" />
<circle cx="634.52" cy="455.66" r="0.9" fill="#3a73a8" />
<circle cx="607.95" cy="458.72" r="0.9" fill="#3a73a8" />
<circle cx="610.4" cy="458.72" r="0.9" fill="#3a73a8" />
<circle cx="612.03" cy="460.15" r="0.9" fill="#3a73a8" />
<circle cx="598.14" cy="461.79" r="0.9" fill="#3a73a8" />
<circle cx="605.29" cy="461.38" r="0.9" fill="#3a73a8" />
<circle cx="607.54" cy="462.81" r="0.9" fill="#3a73a8" />
<circle cx="609.99" cy="463.42" r="0.9" fill="#3a73a8" />
<circle cx="611.42" cy="463.83" r="0.9" fill="#3a73a8" />
<circle cx="613.87" cy="462.4" r="0.9" fill="#3a73a8" />
<circle cx="615.51" cy="461.38" r="0.9" fill="#3a73a8" />
<circle cx="621.64" cy="464.44" r="0.9" fill="#3a73a8" />
<circle cx="622.66" cy="460.77" r="0.9" fill="#3a73a8" />
<circle cx="626.14" cy="460.15" r="0.9" fill="#3a73a8" />
<circle cx="627.77" cy="462.2" r="0.9" fill="#3a73a8" />
<circle cx="630.84" cy="459.74" r="0.9" fill="#3a73a8" />
<circle cx="633.9" cy="461.79" r="0.9" fill="#3a73a8" />
<circle cx="634.92" cy="460.77" r="0.9" fill="#3a73a8" />
<circle cx="640.65" cy="462.4" r="0.9" fill="#3a73a8" />
<circle cx="644.53" cy="461.79" r="0.9" fill="#3a73a8" />
<circle cx="646.16" cy="460.15" r="0.9" fill="#3a73a8" />
<circle cx="644.12" cy="466.49" r="0.9" fill="#3a73a8" />
<circle cx="646.78" cy="465.87" r="0.9" fill="#3a73a8" />
<circle cx="592.41" cy="465.87" r="0.9" fill="#3a73a8" />
<circle cx="596.09" cy="465.47" r="0.9" fill="#3a73a8" />
<circle cx="601" cy="469.96" r="0.9" fill="#3a73a8" />
<circle cx="601.41" cy="472.41" r="0.9" fill="#3a73a8" />
<circle cx="610.81" cy="468.53" r="0.9" fill="#3a73a8" />
<circle cx="608.76" cy="467.92" r="0.9" fill="#3a73a8" />
<circle cx="609.99" cy="470.37" r="0.9" fill="#3a73a8" />
<circle cx="612.85" cy="473.03" r="0.9" fill="#3a73a8" />
<circle cx="618.17" cy="472.41" r="0.9" fill="#3a73a8" />
<circle cx="626.95" cy="465.47" r="0.9" fill="#3a73a8" />
<circle cx="634.92" cy="467.92" r="0.9" fill="#3a73a8" />
<circle cx="630.84" cy="473.44" r="0.9" fill="#3a73a8" />
<circle cx="636.35" cy="475.07" r="0.9" fill="#3a73a8" />
<circle cx="598.75" cy="477.73" r="0.9" fill="#3a73a8" />
<circle cx="593.64" cy="480.18" r="0.9" fill="#3a73a8" />
<circle cx="592.41" cy="481.2" r="0.9" fill="#3a73a8" />
<circle cx="610.81" cy="479.77" r="0.9" fill="#3a73a8" />
<circle cx="611.83" cy="480.59" r="0.9" fill="#3a73a8" />
<circle cx="616.94" cy="481.61" r="0.9" fill="#3a73a8" />
<circle cx="622.05" cy="480.79" r="0.9" fill="#3a73a8" />
<circle cx="597.73" cy="483.86" r="0.9" fill="#3a73a8" />
<circle cx="595.89" cy="487.74" r="0.9" fill="#3a73a8" />
<circle cx="601.2" cy="488.36" r="0.9" fill="#3a73a8" />
<line x1="582.7" y1="439.6" x2="584.9" y2="439.6" stroke="#231f20" stroke-width="0.6" />
<text x="581.5" y="441.9" font-size="6.68" text-anchor="end" font-weight="normal" fill="#231f20" >2</text>
<line x1="582.7" y1="451" x2="584.9" y2="451" stroke="#231f20" stroke-width="0.6" />
<text x="581.5" y="453.3" font-size="6.68" text-anchor="end" font-weight="normal" fill="#231f20" >1</text>
<line x1="582.7" y1="462.4" x2="584.9" y2="462.4" stroke="#231f20" stroke-width="0.6" />
<text x="581.5" y="464.7" font-size="6.68" text-anchor="end" font-weight="normal" fill="#231f20" >0</text>
<line x1="582.7" y1="473.8" x2="584.9" y2="473.8" stroke="#231f20" stroke-width="0.6" />
<text x="581.5" y="476.1" font-size="6.68" text-anchor="end" font-weight="normal" fill="#231f20" >−1</text>
<line x1="582.7" y1="485.2" x2="584.9" y2="485.2" stroke="#231f20" stroke-width="0.6" />
<text x="581.5" y="487.5" font-size="6.68" text-anchor="end" font-weight="normal" fill="#231f20" >−2</text>
<line x1="584.9" y1="431.3" x2="584.9" y2="490.8" stroke="#231f20" stroke-width="0.8" />
<line x1="584.9" y1="490.8" x2="663.8" y2="490.8" stroke="#231f20" stroke-width="0.8" />
<text x="558.6" y="461.05" font-size="6.68" text-anchor="middle" font-weight="normal" fill="#231f20" transform="rotate(-90 558.6 461.05)" >Mye bias</text>
<text x="565.5" y="461.05" font-size="6.68" text-anchor="middle" font-weight="normal" fill="#231f20" transform="rotate(-90 565.5 461.05)" >(<tspan font-style="italic">z</tspan>-score)</text>
<text x="686" y="480.4" font-size="6.68" text-anchor="end" font-weight="normal" fill="#231f20" >Slope = 0.42</text>
<text x="686" y="487.3" font-size="6.68" text-anchor="end" font-weight="normal" fill="#231f20" ><tspan>P</tspan> = 1 × 10<tspan font-size="4.6" dy="-2.3">−6</tspan></text>
<line x1="601.35" y1="490.8" x2="601.35" y2="493" stroke="#231f20" stroke-width="0.6" />
<text x="601.35" y="500" font-size="6.68" text-anchor="middle" font-weight="normal" fill="#231f20" >−1</text>
<line x1="619.4" y1="490.8" x2="619.4" y2="493" stroke="#231f20" stroke-width="0.6" />
<text x="619.4" y="500" font-size="6.68" text-anchor="middle" font-weight="normal" fill="#231f20" >0</text>
<line x1="637.45" y1="490.8" x2="637.45" y2="493" stroke="#231f20" stroke-width="0.6" />
<text x="637.45" y="500" font-size="6.68" text-anchor="middle" font-weight="normal" fill="#231f20" >1</text>
<line x1="655.5" y1="490.8" x2="655.5" y2="493" stroke="#231f20" stroke-width="0.6" />
<text x="655.5" y="500" font-size="6.68" text-anchor="middle" font-weight="normal" fill="#231f20" >2</text>
<text x="623.9" y="509.6" font-size="6.68" text-anchor="middle" font-weight="normal" fill="#231f20" >HSC clonal output (<tspan font-style="italic">z</tspan>-score)</text>
<text x="2.6" y="8.8" font-size="10.5" text-anchor="start" font-weight="bold" fill="#231f20" >a</text>
<text x="82.7" y="9.9" font-size="6.68" text-anchor="middle" font-weight="normal" fill="#231f20" >HSC progeny clonal assignment</text>
<text x="82.7" y="18.3" font-size="6.68" text-anchor="middle" font-weight="normal" fill="#231f20" >via network propagation (SCAVENGE–L)</text>
<line x1="65.2" y1="33.8" x2="109.3" y2="33.8" stroke="#6b6b6b" stroke-width="0.75" />
<line x1="65.2" y1="33.8" x2="65.2" y2="42.1" stroke="#6b6b6b" stroke-width="0.75" />
<line x1="109.3" y1="33.8" x2="109.3" y2="42.1" stroke="#6b6b6b" stroke-width="0.75" />
<line x1="56" y1="42.1" x2="75.4" y2="42.1" stroke="#6b6b6b" stroke-width="0.75" />
<line x1="56" y1="42.1" x2="56" y2="52.3" stroke="#6b6b6b" stroke-width="0.75" />
<line x1="75.4" y1="42.1" x2="75.4" y2="52.3" stroke="#6b6b6b" stroke-width="0.75" />
<line x1="98.9" y1="42.1" x2="118.6" y2="42.1" stroke="#6b6b6b" stroke-width="0.75" />
<line x1="98.9" y1="42.1" x2="98.9" y2="52.3" stroke="#6b6b6b" stroke-width="0.75" />
<line x1="118.6" y1="42.1" x2="118.6" y2="52.3" stroke="#6b6b6b" stroke-width="0.75" />
<line x1="50.4" y1="52.3" x2="61.5" y2="52.3" stroke="#6b6b6b" stroke-width="0.75" />
<line x1="50.4" y1="52.3" x2="50.4" y2="62" stroke="#6b6b6b" stroke-width="0.75" />
<line x1="61.5" y1="52.3" x2="61.5" y2="62" stroke="#6b6b6b" stroke-width="0.75" />
<line x1="70.5" y1="52.3" x2="81.3" y2="52.3" stroke="#6b6b6b" stroke-width="0.75" />
<line x1="70.5" y1="52.3" x2="70.5" y2="62" stroke="#6b6b6b" stroke-width="0.75" />
<line x1="81.3" y1="52.3" x2="81.3" y2="62" stroke="#6b6b6b" stroke-width="0.75" />
<line x1="93.8" y1="52.3" x2="104.5" y2="52.3" stroke="#6b6b6b" stroke-width="0.75" />
<line x1="93.8" y1="52.3" x2="93.8" y2="62" stroke="#6b6b6b" stroke-width="0.75" />
<line x1="104.5" y1="52.3" x2="104.5" y2="62" stroke="#6b6b6b" stroke-width="0.75" />
<line x1="113.5" y1="52.3" x2="124.6" y2="52.3" stroke="#6b6b6b" stroke-width="0.75" />
<line x1="113.5" y1="52.3" x2="113.5" y2="62" stroke="#6b6b6b" stroke-width="0.75" />
<line x1="124.6" y1="52.3" x2="124.6" y2="62" stroke="#6b6b6b" stroke-width="0.75" />
<line x1="47.6" y1="62" x2="53.6" y2="62" stroke="#6b6b6b" stroke-width="0.75" />
<line x1="47.6" y1="62" x2="47.6" y2="70.3" stroke="#6b6b6b" stroke-width="0.75" />
<line x1="53.6" y1="62" x2="53.6" y2="70.3" stroke="#6b6b6b" stroke-width="0.75" />
<line x1="58" y1="62" x2="64.3" y2="62" stroke="#6b6b6b" stroke-width="0.75" />
<line x1="58" y1="62" x2="58" y2="70.3" stroke="#6b6b6b" stroke-width="0.75" />
<line x1="64.3" y1="62" x2="64.3" y2="70.3" stroke="#6b6b6b" stroke-width="0.75" />
<line x1="67.5" y1="62" x2="73.6" y2="62" stroke="#6b6b6b" stroke-width="0.75" />
<line x1="67.5" y1="62" x2="67.5" y2="70.3" stroke="#6b6b6b" stroke-width="0.75" />
<line x1="73.6" y1="62" x2="73.6" y2="70.3" stroke="#6b6b6b" stroke-width="0.75" />
<line x1="78.6" y1="62" x2="84.4" y2="62" stroke="#6b6b6b" stroke-width="0.75" />
<line x1="78.6" y1="62" x2="78.6" y2="70.3" stroke="#6b6b6b" stroke-width="0.75" />
<line x1="84.4" y1="62" x2="84.4" y2="70.3" stroke="#6b6b6b" stroke-width="0.75" />
<line x1="90.6" y1="62" x2="96.9" y2="62" stroke="#6b6b6b" stroke-width="0.75" />
<line x1="90.6" y1="62" x2="90.6" y2="70.3" stroke="#6b6b6b" stroke-width="0.75" />
<line x1="96.9" y1="62" x2="96.9" y2="70.3" stroke="#6b6b6b" stroke-width="0.75" />
<line x1="101.3" y1="62" x2="107.3" y2="62" stroke="#6b6b6b" stroke-width="0.75" />
<line x1="101.3" y1="62" x2="101.3" y2="70.3" stroke="#6b6b6b" stroke-width="0.75" />
<line x1="107.3" y1="62" x2="107.3" y2="70.3" stroke="#6b6b6b" stroke-width="0.75" />
<line x1="110.7" y1="62" x2="116.3" y2="62" stroke="#6b6b6b" stroke-width="0.75" />
<line x1="110.7" y1="62" x2="110.7" y2="70.3" stroke="#6b6b6b" stroke-width="0.75" />
<line x1="116.3" y1="62" x2="116.3" y2="70.3" stroke="#6b6b6b" stroke-width="0.75" />
<line x1="121.8" y1="62" x2="127.7" y2="62" stroke="#6b6b6b" stroke-width="0.75" />
<line x1="121.8" y1="62" x2="121.8" y2="70.3" stroke="#6b6b6b" stroke-width="0.75" />
<line x1="127.7" y1="62" x2="127.7" y2="70.3" stroke="#6b6b6b" stroke-width="0.75" />
<line x1="82.69" y1="93.4" x2="87.1" y2="174.7" stroke="#000" stroke-width="0.55" stroke-dasharray="0.7 1.0"/>
<line x1="88.1" y1="107.9" x2="112.4" y2="178.3" stroke="#000" stroke-width="0.55" stroke-dasharray="0.7 1.0"/>
<line x1="57.65" y1="124" x2="55.4" y2="193.4" stroke="#000" stroke-width="0.55" stroke-dasharray="0.7 1.0"/>
<line x1="103.67" y1="98" x2="117" y2="193.8" stroke="#000" stroke-width="0.55" stroke-dasharray="0.7 1.0"/>
<line x1="121.9" y1="76" x2="116.63" y2="193.8" stroke="#000" stroke-width="0.55" stroke-dasharray="0.7 1.0"/>
<line x1="50.16" y1="113.3" x2="49.9" y2="207.6" stroke="#000" stroke-width="0.55" stroke-dasharray="0.7 1.0"/>
<line x1="85.91" y1="107.9" x2="68.7" y2="206.1" stroke="#000" stroke-width="0.55" stroke-dasharray="0.7 1.0"/>
<line x1="91.1" y1="77.3" x2="77.6" y2="206.1" stroke="#000" stroke-width="0.55" stroke-dasharray="0.7 1.0"/>
<line x1="108.97" y1="80.3" x2="105.5" y2="210.7" stroke="#000" stroke-width="0.55" stroke-dasharray="0.7 1.0"/>
<line x1="79.24" y1="76.5" x2="112.4" y2="213" stroke="#000" stroke-width="0.55" stroke-dasharray="0.7 1.0"/>
<line x1="118.62" y1="114" x2="121.1" y2="213.7" stroke="#000" stroke-width="0.55" stroke-dasharray="0.7 1.0"/>
<line x1="70.56" y1="84.2" x2="76.1" y2="222.9" stroke="#000" stroke-width="0.55" stroke-dasharray="0.7 1.0"/>
<line x1="97.04" y1="116.3" x2="102.7" y2="227.1" stroke="#000" stroke-width="0.55" stroke-dasharray="0.7 1.0"/>
<line x1="79.21" y1="76.5" x2="79.9" y2="181.1" stroke="#000" stroke-width="0.55" stroke-dasharray="0.7 1.0"/>
<line x1="71.12" y1="84.2" x2="78.99" y2="181.1" stroke="#000" stroke-width="0.55" stroke-dasharray="0.7 1.0"/>
<line x1="67.51" y1="110.2" x2="88.2" y2="183.9" stroke="#000" stroke-width="0.55" stroke-dasharray="0.7 1.0"/>
<line x1="91.23" y1="77.3" x2="89.2" y2="183.9" stroke="#000" stroke-width="0.55" stroke-dasharray="0.7 1.0"/>
<line x1="50.09" y1="94.9" x2="62.6" y2="190.3" stroke="#000" stroke-width="0.55" stroke-dasharray="0.7 1.0"/>
<line x1="86.2" y1="107.9" x2="73.8" y2="198.7" stroke="#000" stroke-width="0.55" stroke-dasharray="0.7 1.0"/>
<line x1="91.21" y1="77.3" x2="90.5" y2="197.2" stroke="#000" stroke-width="0.55" stroke-dasharray="0.7 1.0"/>
<line x1="103.96" y1="98" x2="91.28" y2="197.2" stroke="#000" stroke-width="0.55" stroke-dasharray="0.7 1.0"/>
<line x1="91.63" y1="77.3" x2="107" y2="195.7" stroke="#000" stroke-width="0.55" stroke-dasharray="0.7 1.0"/>
<line x1="116.72" y1="96.4" x2="117.3" y2="205.2" stroke="#000" stroke-width="0.55" stroke-dasharray="0.7 1.0"/>
<line x1="53.64" y1="78.8" x2="60.3" y2="208.7" stroke="#000" stroke-width="0.55" stroke-dasharray="0.7 1.0"/>
<line x1="65.11" y1="110.2" x2="60.73" y2="208.7" stroke="#000" stroke-width="0.55" stroke-dasharray="0.7 1.0"/>
<line x1="92.69" y1="77.3" x2="72.1" y2="213.7" stroke="#000" stroke-width="0.55" stroke-dasharray="0.7 1.0"/>
<line x1="94.4" y1="89.5" x2="106.7" y2="218.6" stroke="#000" stroke-width="0.55" stroke-dasharray="0.7 1.0"/>
<line x1="119.01" y1="114" x2="123.6" y2="221.4" stroke="#000" stroke-width="0.55" stroke-dasharray="0.7 1.0"/>
<line x1="93.96" y1="89.5" x2="125.7" y2="228.3" stroke="#000" stroke-width="0.55" stroke-dasharray="0.7 1.0"/>
<line x1="119.43" y1="76" x2="124.86" y2="228.3" stroke="#000" stroke-width="0.55" stroke-dasharray="0.7 1.0"/>
<line x1="115.13" y1="96.4" x2="102" y2="177.3" stroke="#000" stroke-width="0.55" stroke-dasharray="0.7 1.0"/>
<line x1="103.77" y1="98" x2="119" y2="186.2" stroke="#000" stroke-width="0.55" stroke-dasharray="0.7 1.0"/>
<line x1="78.76" y1="119.4" x2="82.1" y2="194.1" stroke="#000" stroke-width="0.55" stroke-dasharray="0.7 1.0"/>
<line x1="97.51" y1="116.3" x2="96.6" y2="191.4" stroke="#000" stroke-width="0.55" stroke-dasharray="0.7 1.0"/>
<line x1="91.96" y1="77.3" x2="108.3" y2="203" stroke="#000" stroke-width="0.55" stroke-dasharray="0.7 1.0"/>
<line x1="91.34" y1="77.3" x2="121.6" y2="177.7" stroke="#000" stroke-width="0.55" stroke-dasharray="0.7 1.0"/>
<line x1="53.03" y1="78.8" x2="54.6" y2="184.9" stroke="#000" stroke-width="0.55" stroke-dasharray="0.7 1.0"/>
<line x1="96.94" y1="116.3" x2="83" y2="212.8" stroke="#000" stroke-width="0.55" stroke-dasharray="0.7 1.0"/>
<line x1="93.76" y1="77.3" x2="91.7" y2="215.6" stroke="#000" stroke-width="0.55" stroke-dasharray="0.7 1.0"/>
<line x1="58.3" y1="124" x2="56.5" y2="219" stroke="#000" stroke-width="0.55" stroke-dasharray="0.7 1.0"/>
<line x1="50.6" y1="113.3" x2="47.3" y2="225.5" stroke="#000" stroke-width="0.55" stroke-dasharray="0.7 1.0"/>
<line x1="56.81" y1="124" x2="47.84" y2="225.5" stroke="#000" stroke-width="0.55" stroke-dasharray="0.7 1.0"/>
<line x1="52.34" y1="94.9" x2="55.4" y2="229.1" stroke="#000" stroke-width="0.55" stroke-dasharray="0.7 1.0"/>
<line x1="47" y1="136.5" x2="47" y2="143" stroke="#000" stroke-width="0.5" stroke-dasharray="0.7 0.8"/>
<path d="M46.1 141.3 L47.9 141.3 L47 143.4 Z" fill="#111"/>
<line x1="57.2" y1="137.3" x2="57.2" y2="143.8" stroke="#000" stroke-width="0.5" stroke-dasharray="0.7 0.8"/>
<path d="M56.3 142.1 L58.1 142.1 L57.2 144.2 Z" fill="#111"/>
<line x1="72.6" y1="138.3" x2="72.6" y2="144.8" stroke="#000" stroke-width="0.5" stroke-dasharray="0.7 0.8"/>
<path d="M71.7 143.1 L73.5 143.1 L72.6 145.2 Z" fill="#111"/>
<line x1="81.8" y1="142.6" x2="81.8" y2="149.1" stroke="#000" stroke-width="0.5" stroke-dasharray="0.7 0.8"/>
<path d="M80.9 147.4 L82.7 147.4 L81.8 149.5 Z" fill="#111"/>
<line x1="87.1" y1="141.9" x2="87.1" y2="148.4" stroke="#000" stroke-width="0.5" stroke-dasharray="0.7 0.8"/>
<path d="M86.2 146.7 L88 146.7 L87.1 148.8 Z" fill="#111"/>
<line x1="96.3" y1="139.6" x2="96.3" y2="146.1" stroke="#000" stroke-width="0.5" stroke-dasharray="0.7 0.8"/>
<path d="M95.4 144.4 L97.2 144.4 L96.3 146.5 Z" fill="#111"/>
<line x1="102.4" y1="141.9" x2="102.4" y2="148.4" stroke="#000" stroke-width="0.5" stroke-dasharray="0.7 0.8"/>
<path d="M101.5 146.7 L103.3 146.7 L102.4 148.8 Z" fill="#111"/>
<line x1="111.6" y1="138.8" x2="111.6" y2="145.3" stroke="#000" stroke-width="0.5" stroke-dasharray="0.7 0.8"/>
<path d="M110.7 143.6 L112.5 143.6 L111.6 145.7 Z" fill="#111"/>
<line x1="121.6" y1="136.2" x2="121.6" y2="142.7" stroke="#000" stroke-width="0.5" stroke-dasharray="0.7 0.8"/>
<path d="M120.7 141 L122.5 141 L121.6 143.1 Z" fill="#111"/>
<line x1="120.1" y1="142.6" x2="120.1" y2="149.1" stroke="#000" stroke-width="0.5" stroke-dasharray="0.7 0.8"/>
<path d="M119.2 147.4 L121 147.4 L120.1 149.5 Z" fill="#111"/>
<line x1="51.6" y1="146.5" x2="51.6" y2="153" stroke="#000" stroke-width="0.5" stroke-dasharray="0.7 0.8"/>
<path d="M50.7 151.3 L52.5 151.3 L51.6 153.4 Z" fill="#111"/>
<line x1="62.6" y1="148" x2="62.6" y2="154.5" stroke="#000" stroke-width="0.5" stroke-dasharray="0.7 0.8"/>
<path d="M61.7 152.8 L63.5 152.8 L62.6 154.9 Z" fill="#111"/>
<line x1="69.5" y1="151.1" x2="69.5" y2="157.6" stroke="#000" stroke-width="0.5" stroke-dasharray="0.7 0.8"/>
<path d="M68.6 155.9 L70.4 155.9 L69.5 158 Z" fill="#111"/>
<line x1="90.2" y1="149.5" x2="90.2" y2="156" stroke="#000" stroke-width="0.5" stroke-dasharray="0.7 0.8"/>
<path d="M89.3 154.3 L91.1 154.3 L90.2 156.4 Z" fill="#111"/>
<line x1="108.9" y1="151.8" x2="108.9" y2="158.3" stroke="#000" stroke-width="0.5" stroke-dasharray="0.7 0.8"/>
<path d="M108 156.6 L109.8 156.6 L108.9 158.7 Z" fill="#111"/>
<path d="M45.4 70.3 L128.5 70.3 L136.9 134.4 L38.4 134.4 Z" fill="none" stroke="#2a2a2a" stroke-width="0.85"/>
<path d="M45.7 170.1 L128.8 170.1 L136.9 234.3 L38.4 234.3 Z" fill="none" stroke="#2a2a2a" stroke-width="0.85"/>
<circle cx="54.2" cy="78.8" r="1.38" fill="#cfe8ec" />
<circle cx="51.83" cy="77.87" r="1.38" fill="#cfe8ec" />
<circle cx="53.82" cy="76.28" r="1.38" fill="#cfe8ec" />
<circle cx="56.19" cy="77.21" r="1.38" fill="#cfe8ec" />
<circle cx="56.57" cy="79.73" r="1.38" fill="#cfe8ec" />
<circle cx="54.58" cy="81.32" r="1.38" fill="#cfe8ec" />
<circle cx="52.21" cy="80.39" r="1.38" fill="#cfe8ec" />
<circle cx="58.08" cy="76.8" r="1.38" fill="#cfe8ec" />
<circle cx="55.59" cy="77.35" r="1.38" fill="#cfe8ec" />
<circle cx="56.36" cy="74.92" r="1.38" fill="#cfe8ec" />
<circle cx="58.85" cy="74.37" r="1.38" fill="#cfe8ec" />
<circle cx="60.57" cy="76.25" r="1.38" fill="#cfe8ec" />
<circle cx="59.8" cy="78.68" r="1.38" fill="#cfe8ec" />
<circle cx="57.31" cy="79.23" r="1.38" fill="#cfe8ec" />
<circle cx="54.2" cy="78.8" r="1.05" fill="#f1aa5a" />
<circle cx="51.83" cy="77.87" r="1.05" fill="#f1aa5a" />
<circle cx="53.82" cy="76.28" r="1.05" fill="#f1aa5a" />
<circle cx="56.19" cy="77.21" r="1.05" fill="#f1aa5a" />
<circle cx="56.57" cy="79.73" r="1.05" fill="#f1aa5a" />
<circle cx="54.58" cy="81.32" r="1.05" fill="#f1aa5a" />
<circle cx="52.21" cy="80.39" r="1.05" fill="#f1aa5a" />
<circle cx="58.08" cy="76.8" r="1.05" fill="#f1aa5a" />
<circle cx="55.59" cy="77.35" r="1.05" fill="#f1aa5a" />
<circle cx="56.36" cy="74.92" r="1.05" fill="#f1aa5a" />
<circle cx="58.85" cy="74.37" r="1.05" fill="#f1aa5a" />
<circle cx="60.57" cy="76.25" r="1.05" fill="#f1aa5a" />
<circle cx="59.8" cy="78.68" r="1.05" fill="#f1aa5a" />
<circle cx="57.31" cy="79.23" r="1.05" fill="#f1aa5a" />
<circle cx="70.3" cy="84.2" r="1.38" fill="#cfe8ec" />
<circle cx="68.9" cy="82.07" r="1.38" fill="#cfe8ec" />
<circle cx="71.44" cy="81.92" r="1.38" fill="#cfe8ec" />
<circle cx="72.85" cy="84.05" r="1.38" fill="#cfe8ec" />
<circle cx="71.7" cy="86.33" r="1.38" fill="#cfe8ec" />
<circle cx="69.16" cy="86.48" r="1.38" fill="#cfe8ec" />
<circle cx="67.75" cy="84.35" r="1.38" fill="#cfe8ec" />
<circle cx="67.78" cy="79.84" r="1.38" fill="#cfe8ec" />
<circle cx="69.37" cy="81.83" r="1.38" fill="#cfe8ec" />
<circle cx="66.85" cy="82.22" r="1.38" fill="#cfe8ec" />
<circle cx="65.25" cy="80.23" r="1.38" fill="#cfe8ec" />
<circle cx="66.18" cy="77.85" r="1.38" fill="#cfe8ec" />
<circle cx="68.7" cy="77.47" r="1.38" fill="#cfe8ec" />
<circle cx="70.3" cy="79.46" r="1.38" fill="#cfe8ec" />
<circle cx="75.32" cy="84.54" r="1.38" fill="#cfe8ec" />
<circle cx="73.53" cy="86.35" r="1.38" fill="#cfe8ec" />
<circle cx="72.86" cy="83.89" r="1.38" fill="#cfe8ec" />
<circle cx="74.66" cy="82.08" r="1.38" fill="#cfe8ec" />
<circle cx="77.12" cy="82.74" r="1.38" fill="#cfe8ec" />
<circle cx="77.79" cy="85.2" r="1.38" fill="#cfe8ec" />
<circle cx="75.99" cy="87" r="1.38" fill="#cfe8ec" />
<circle cx="70.3" cy="84.2" r="1.05" fill="#f1aa5a" />
<circle cx="68.9" cy="82.07" r="1.05" fill="#f1aa5a" />
<circle cx="71.44" cy="81.92" r="1.05" fill="#f1aa5a" />
<circle cx="72.85" cy="84.05" r="1.05" fill="#f1aa5a" />
<circle cx="71.7" cy="86.33" r="1.05" fill="#f1aa5a" />
<circle cx="69.16" cy="86.48" r="1.05" fill="#f1aa5a" />
<circle cx="67.75" cy="84.35" r="1.05" fill="#f1aa5a" />
<circle cx="67.78" cy="79.84" r="1.05" fill="#f1aa5a" />
<circle cx="69.37" cy="81.83" r="1.05" fill="#f1aa5a" />
<circle cx="66.85" cy="82.22" r="1.05" fill="#f1aa5a" />
<circle cx="65.25" cy="80.23" r="1.05" fill="#f1aa5a" />
<circle cx="66.18" cy="77.85" r="1.05" fill="#f1aa5a" />
<circle cx="68.7" cy="77.47" r="1.05" fill="#f1aa5a" />
<circle cx="70.3" cy="79.46" r="1.05" fill="#f1aa5a" />
<circle cx="75.32" cy="84.54" r="1.05" fill="#f1aa5a" />
<circle cx="73.53" cy="86.35" r="1.05" fill="#f1aa5a" />
<circle cx="72.86" cy="83.89" r="1.05" fill="#f1aa5a" />
<circle cx="74.66" cy="82.08" r="1.05" fill="#f1aa5a" />
<circle cx="77.12" cy="82.74" r="1.05" fill="#f1aa5a" />
<circle cx="77.79" cy="85.2" r="1.05" fill="#f1aa5a" />
<circle cx="75.99" cy="87" r="1.05" fill="#f1aa5a" />
<circle cx="80.7" cy="76.5" r="1.38" fill="#cfe8ec" />
<circle cx="79.69" cy="74.16" r="1.38" fill="#cfe8ec" />
<circle cx="82.22" cy="74.45" r="1.38" fill="#cfe8ec" />
<circle cx="83.23" cy="76.79" r="1.38" fill="#cfe8ec" />
<circle cx="81.71" cy="78.84" r="1.38" fill="#cfe8ec" />
<circle cx="79.18" cy="78.55" r="1.38" fill="#cfe8ec" />
<circle cx="78.17" cy="76.21" r="1.38" fill="#cfe8ec" />
<circle cx="78.67" cy="71.89" r="1.38" fill="#cfe8ec" />
<circle cx="80.16" cy="69.82" r="1.38" fill="#cfe8ec" />
<circle cx="81.21" cy="72.14" r="1.38" fill="#cfe8ec" />
<circle cx="79.73" cy="74.21" r="1.38" fill="#cfe8ec" />
<circle cx="77.19" cy="73.96" r="1.38" fill="#cfe8ec" />
<circle cx="76.14" cy="71.64" r="1.38" fill="#cfe8ec" />
<circle cx="77.62" cy="69.57" r="1.38" fill="#cfe8ec" />
<circle cx="82.68" cy="81.13" r="1.38" fill="#cfe8ec" />
<circle cx="82.99" cy="83.66" r="1.38" fill="#cfe8ec" />
<circle cx="80.64" cy="82.67" r="1.38" fill="#cfe8ec" />
<circle cx="80.33" cy="80.14" r="1.38" fill="#cfe8ec" />
<circle cx="82.37" cy="78.6" r="1.38" fill="#cfe8ec" />
<circle cx="84.71" cy="79.59" r="1.38" fill="#cfe8ec" />
<circle cx="85.03" cy="82.12" r="1.38" fill="#cfe8ec" />
<circle cx="80.7" cy="76.5" r="1.05" fill="#f1aa5a" />
<circle cx="79.69" cy="74.16" r="1.05" fill="#f1aa5a" />
<circle cx="82.22" cy="74.45" r="1.05" fill="#f1aa5a" />
<circle cx="83.23" cy="76.79" r="1.05" fill="#f1aa5a" />
<circle cx="81.71" cy="78.84" r="1.05" fill="#f1aa5a" />
<circle cx="79.18" cy="78.55" r="1.05" fill="#f1aa5a" />
<circle cx="78.17" cy="76.21" r="1.05" fill="#f1aa5a" />
<circle cx="78.67" cy="71.89" r="1.05" fill="#f1aa5a" />
<circle cx="80.16" cy="69.82" r="1.05" fill="#f1aa5a" />
<circle cx="81.21" cy="72.14" r="1.05" fill="#f1aa5a" />
<circle cx="79.73" cy="74.21" r="1.05" fill="#f1aa5a" />
<circle cx="77.19" cy="73.96" r="1.05" fill="#f1aa5a" />
<circle cx="76.14" cy="71.64" r="1.05" fill="#f1aa5a" />
<circle cx="77.62" cy="69.57" r="1.05" fill="#f1aa5a" />
<circle cx="82.68" cy="81.13" r="1.05" fill="#f1aa5a" />
<circle cx="82.99" cy="83.66" r="1.05" fill="#f1aa5a" />
<circle cx="80.64" cy="82.67" r="1.05" fill="#f1aa5a" />
<circle cx="80.33" cy="80.14" r="1.05" fill="#f1aa5a" />
<circle cx="82.37" cy="78.6" r="1.05" fill="#f1aa5a" />
<circle cx="84.71" cy="79.59" r="1.05" fill="#f1aa5a" />
<circle cx="85.03" cy="82.12" r="1.05" fill="#f1aa5a" />
<circle cx="92.5" cy="77.3" r="1.38" fill="#cfe8ec" />
<circle cx="91.75" cy="74.86" r="1.38" fill="#cfe8ec" />
<circle cx="94.23" cy="75.43" r="1.38" fill="#cfe8ec" />
<circle cx="94.99" cy="77.87" r="1.38" fill="#cfe8ec" />
<circle cx="93.25" cy="79.74" r="1.38" fill="#cfe8ec" />
<circle cx="90.77" cy="79.17" r="1.38" fill="#cfe8ec" />
<circle cx="90.01" cy="76.73" r="1.38" fill="#cfe8ec" />
<circle cx="92.5" cy="77.3" r="1.05" fill="#f1aa5a" />
<circle cx="91.75" cy="74.86" r="1.05" fill="#f1aa5a" />
<circle cx="94.23" cy="75.43" r="1.05" fill="#f1aa5a" />
<circle cx="94.99" cy="77.87" r="1.05" fill="#f1aa5a" />
<circle cx="93.25" cy="79.74" r="1.05" fill="#f1aa5a" />
<circle cx="90.77" cy="79.17" r="1.05" fill="#f1aa5a" />
<circle cx="90.01" cy="76.73" r="1.05" fill="#f1aa5a" />
<circle cx="108.6" cy="80.3" r="1.38" fill="#cfe8ec" />
<circle cx="111.14" cy="80.49" r="1.38" fill="#cfe8ec" />
<circle cx="109.71" cy="82.6" r="1.38" fill="#cfe8ec" />
<circle cx="107.17" cy="82.41" r="1.38" fill="#cfe8ec" />
<circle cx="106.06" cy="80.11" r="1.38" fill="#cfe8ec" />
<circle cx="107.49" cy="78" r="1.38" fill="#cfe8ec" />
<circle cx="110.03" cy="78.19" r="1.38" fill="#cfe8ec" />
<circle cx="108.16" cy="75.28" r="1.38" fill="#cfe8ec" />
<circle cx="109.55" cy="77.42" r="1.38" fill="#cfe8ec" />
<circle cx="107.01" cy="77.56" r="1.38" fill="#cfe8ec" />
<circle cx="105.61" cy="75.42" r="1.38" fill="#cfe8ec" />
<circle cx="106.76" cy="73.15" r="1.38" fill="#cfe8ec" />
<circle cx="109.31" cy="73.01" r="1.38" fill="#cfe8ec" />
<circle cx="110.7" cy="75.14" r="1.38" fill="#cfe8ec" />
<circle cx="113.62" cy="79.87" r="1.38" fill="#cfe8ec" />
<circle cx="116.15" cy="80.14" r="1.38" fill="#cfe8ec" />
<circle cx="114.65" cy="82.2" r="1.38" fill="#cfe8ec" />
<circle cx="112.11" cy="81.93" r="1.38" fill="#cfe8ec" />
<circle cx="111.08" cy="79.6" r="1.38" fill="#cfe8ec" />
<circle cx="112.58" cy="77.54" r="1.38" fill="#cfe8ec" />
<circle cx="115.12" cy="77.81" r="1.38" fill="#cfe8ec" />
<circle cx="108.6" cy="80.3" r="1.05" fill="#f1aa5a" />
<circle cx="111.14" cy="80.49" r="1.05" fill="#f1aa5a" />
<circle cx="109.71" cy="82.6" r="1.05" fill="#f1aa5a" />
<circle cx="107.17" cy="82.41" r="1.05" fill="#f1aa5a" />
<circle cx="106.06" cy="80.11" r="1.05" fill="#f1aa5a" />
<circle cx="107.49" cy="78" r="1.05" fill="#f1aa5a" />
<circle cx="110.03" cy="78.19" r="1.05" fill="#f1aa5a" />
<circle cx="108.16" cy="75.28" r="1.05" fill="#f1aa5a" />
<circle cx="109.55" cy="77.42" r="1.05" fill="#f1aa5a" />
<circle cx="107.01" cy="77.56" r="1.05" fill="#f1aa5a" />
<circle cx="105.61" cy="75.42" r="1.05" fill="#f1aa5a" />
<circle cx="106.76" cy="73.15" r="1.05" fill="#f1aa5a" />
<circle cx="109.31" cy="73.01" r="1.05" fill="#f1aa5a" />
<circle cx="110.7" cy="75.14" r="1.05" fill="#f1aa5a" />
<circle cx="113.62" cy="79.87" r="1.05" fill="#f1aa5a" />
<circle cx="116.15" cy="80.14" r="1.05" fill="#f1aa5a" />
<circle cx="114.65" cy="82.2" r="1.05" fill="#f1aa5a" />
<circle cx="112.11" cy="81.93" r="1.05" fill="#f1aa5a" />
<circle cx="111.08" cy="79.6" r="1.05" fill="#f1aa5a" />
<circle cx="112.58" cy="77.54" r="1.05" fill="#f1aa5a" />
<circle cx="115.12" cy="77.81" r="1.05" fill="#f1aa5a" />
<circle cx="120.8" cy="76" r="1.38" fill="#cfe8ec" />
<circle cx="118.27" cy="76.32" r="1.38" fill="#cfe8ec" />
<circle cx="119.26" cy="73.97" r="1.38" fill="#cfe8ec" />
<circle cx="121.79" cy="73.65" r="1.38" fill="#cfe8ec" />
<circle cx="123.33" cy="75.68" r="1.38" fill="#cfe8ec" />
<circle cx="122.34" cy="78.03" r="1.38" fill="#cfe8ec" />
<circle cx="119.81" cy="78.35" r="1.38" fill="#cfe8ec" />
<circle cx="116.44" cy="78.51" r="1.38" fill="#cfe8ec" />
<circle cx="114.03" cy="79.35" r="1.38" fill="#cfe8ec" />
<circle cx="114.5" cy="76.85" r="1.38" fill="#cfe8ec" />
<circle cx="116.91" cy="76" r="1.38" fill="#cfe8ec" />
<circle cx="118.84" cy="77.67" r="1.38" fill="#cfe8ec" />
<circle cx="118.37" cy="80.17" r="1.38" fill="#cfe8ec" />
<circle cx="115.96" cy="81.01" r="1.38" fill="#cfe8ec" />
<circle cx="116.56" cy="78.71" r="1.38" fill="#cfe8ec" />
<circle cx="115.16" cy="76.58" r="1.38" fill="#cfe8ec" />
<circle cx="117.7" cy="76.43" r="1.38" fill="#cfe8ec" />
<circle cx="119.1" cy="78.56" r="1.38" fill="#cfe8ec" />
<circle cx="117.96" cy="80.84" r="1.38" fill="#cfe8ec" />
<circle cx="115.41" cy="80.99" r="1.38" fill="#cfe8ec" />
<circle cx="114.01" cy="78.86" r="1.38" fill="#cfe8ec" />
<circle cx="120.8" cy="76" r="1.05" fill="#f1aa5a" />
<circle cx="118.27" cy="76.32" r="1.05" fill="#f1aa5a" />
<circle cx="119.26" cy="73.97" r="1.05" fill="#f1aa5a" />
<circle cx="121.79" cy="73.65" r="1.05" fill="#f1aa5a" />
<circle cx="123.33" cy="75.68" r="1.05" fill="#f1aa5a" />
<circle cx="122.34" cy="78.03" r="1.05" fill="#f1aa5a" />
<circle cx="119.81" cy="78.35" r="1.05" fill="#f1aa5a" />
<circle cx="116.44" cy="78.51" r="1.05" fill="#f1aa5a" />
<circle cx="114.03" cy="79.35" r="1.05" fill="#f1aa5a" />
<circle cx="114.5" cy="76.85" r="1.05" fill="#f1aa5a" />
<circle cx="116.91" cy="76" r="1.05" fill="#f1aa5a" />
<circle cx="118.84" cy="77.67" r="1.05" fill="#f1aa5a" />
<circle cx="118.37" cy="80.17" r="1.05" fill="#f1aa5a" />
<circle cx="115.96" cy="81.01" r="1.05" fill="#f1aa5a" />
<circle cx="116.56" cy="78.71" r="1.05" fill="#f1aa5a" />
<circle cx="115.16" cy="76.58" r="1.05" fill="#f1aa5a" />
<circle cx="117.7" cy="76.43" r="1.05" fill="#f1aa5a" />
<circle cx="119.1" cy="78.56" r="1.05" fill="#f1aa5a" />
<circle cx="117.96" cy="80.84" r="1.05" fill="#f1aa5a" />
<circle cx="115.41" cy="80.99" r="1.05" fill="#f1aa5a" />
<circle cx="114.01" cy="78.86" r="1.05" fill="#f1aa5a" />
<circle cx="51.1" cy="94.9" r="1.38" fill="#cfe8ec" />
<circle cx="51.98" cy="92.51" r="1.38" fill="#cfe8ec" />
<circle cx="53.61" cy="94.47" r="1.38" fill="#cfe8ec" />
<circle cx="52.73" cy="96.86" r="1.38" fill="#cfe8ec" />
<circle cx="50.22" cy="97.29" r="1.38" fill="#cfe8ec" />
<circle cx="48.59" cy="95.33" r="1.38" fill="#cfe8ec" />
<circle cx="49.47" cy="92.94" r="1.38" fill="#cfe8ec" />
<circle cx="55.98" cy="93.66" r="1.38" fill="#cfe8ec" />
<circle cx="55.35" cy="96.13" r="1.38" fill="#cfe8ec" />
<circle cx="53.53" cy="94.36" r="1.38" fill="#cfe8ec" />
<circle cx="54.15" cy="91.88" r="1.38" fill="#cfe8ec" />
<circle cx="56.61" cy="91.19" r="1.38" fill="#cfe8ec" />
<circle cx="58.43" cy="92.97" r="1.38" fill="#cfe8ec" />
<circle cx="57.81" cy="95.44" r="1.38" fill="#cfe8ec" />
<circle cx="51.61" cy="89.89" r="1.38" fill="#cfe8ec" />
<circle cx="50.88" cy="87.45" r="1.38" fill="#cfe8ec" />
<circle cx="53.36" cy="88.04" r="1.38" fill="#cfe8ec" />
<circle cx="54.09" cy="90.48" r="1.38" fill="#cfe8ec" />
<circle cx="52.34" cy="92.33" r="1.38" fill="#cfe8ec" />
<circle cx="49.86" cy="91.74" r="1.38" fill="#cfe8ec" />
<circle cx="49.13" cy="89.3" r="1.38" fill="#cfe8ec" />
<circle cx="51.1" cy="94.9" r="1.05" fill="#f1aa5a" />
<circle cx="51.98" cy="92.51" r="1.05" fill="#f1aa5a" />
<circle cx="53.61" cy="94.47" r="1.05" fill="#f1aa5a" />
<circle cx="52.73" cy="96.86" r="1.05" fill="#f1aa5a" />
<circle cx="50.22" cy="97.29" r="1.05" fill="#f1aa5a" />
<circle cx="48.59" cy="95.33" r="1.05" fill="#f1aa5a" />
<circle cx="49.47" cy="92.94" r="1.05" fill="#f1aa5a" />
<circle cx="55.98" cy="93.66" r="1.05" fill="#f1aa5a" />
<circle cx="55.35" cy="96.13" r="1.05" fill="#f1aa5a" />
<circle cx="53.53" cy="94.36" r="1.05" fill="#f1aa5a" />
<circle cx="54.15" cy="91.88" r="1.05" fill="#f1aa5a" />
<circle cx="56.61" cy="91.19" r="1.05" fill="#f1aa5a" />
<circle cx="58.43" cy="92.97" r="1.05" fill="#f1aa5a" />
<circle cx="57.81" cy="95.44" r="1.05" fill="#f1aa5a" />
<circle cx="51.61" cy="89.89" r="1.05" fill="#f1aa5a" />
<circle cx="50.88" cy="87.45" r="1.05" fill="#f1aa5a" />
<circle cx="53.36" cy="88.04" r="1.05" fill="#f1aa5a" />
<circle cx="54.09" cy="90.48" r="1.05" fill="#f1aa5a" />
<circle cx="52.34" cy="92.33" r="1.05" fill="#f1aa5a" />
<circle cx="49.86" cy="91.74" r="1.05" fill="#f1aa5a" />
<circle cx="49.13" cy="89.3" r="1.05" fill="#f1aa5a" />
<circle cx="74.1" cy="99.5" r="1.38" fill="#cfe8ec" />
<circle cx="72.75" cy="97.34" r="1.38" fill="#cfe8ec" />
<circle cx="75.3" cy="97.25" r="1.38" fill="#cfe8ec" />
<circle cx="76.65" cy="99.41" r="1.38" fill="#cfe8ec" />
<circle cx="75.45" cy="101.66" r="1.38" fill="#cfe8ec" />
<circle cx="72.9" cy="101.75" r="1.38" fill="#cfe8ec" />
<circle cx="71.55" cy="99.59" r="1.38" fill="#cfe8ec" />
<circle cx="71.55" cy="103.84" r="1.38" fill="#cfe8ec" />
<circle cx="72.37" cy="106.26" r="1.38" fill="#cfe8ec" />
<circle cx="69.87" cy="105.76" r="1.38" fill="#cfe8ec" />
<circle cx="69.05" cy="103.34" r="1.38" fill="#cfe8ec" />
<circle cx="70.73" cy="101.43" r="1.38" fill="#cfe8ec" />
<circle cx="73.23" cy="101.92" r="1.38" fill="#cfe8ec" />
<circle cx="74.05" cy="104.34" r="1.38" fill="#cfe8ec" />
<circle cx="69.08" cy="99.83" r="1.38" fill="#cfe8ec" />
<circle cx="66.53" cy="99.93" r="1.38" fill="#cfe8ec" />
<circle cx="67.72" cy="97.67" r="1.38" fill="#cfe8ec" />
<circle cx="70.26" cy="97.57" r="1.38" fill="#cfe8ec" />
<circle cx="71.62" cy="99.73" r="1.38" fill="#cfe8ec" />
<circle cx="70.44" cy="101.99" r="1.38" fill="#cfe8ec" />
<circle cx="67.89" cy="102.09" r="1.38" fill="#cfe8ec" />
<circle cx="74.1" cy="99.5" r="1.05" fill="#f1aa5a" />
<circle cx="72.75" cy="97.34" r="1.05" fill="#f1aa5a" />
<circle cx="75.3" cy="97.25" r="1.05" fill="#f1aa5a" />
<circle cx="76.65" cy="99.41" r="1.05" fill="#f1aa5a" />
<circle cx="75.45" cy="101.66" r="1.05" fill="#f1aa5a" />
<circle cx="72.9" cy="101.75" r="1.05" fill="#f1aa5a" />
<circle cx="71.55" cy="99.59" r="1.05" fill="#f1aa5a" />
<circle cx="71.55" cy="103.84" r="1.05" fill="#f1aa5a" />
<circle cx="72.37" cy="106.26" r="1.05" fill="#f1aa5a" />
<circle cx="69.87" cy="105.76" r="1.05" fill="#f1aa5a" />
<circle cx="69.05" cy="103.34" r="1.05" fill="#f1aa5a" />
<circle cx="70.73" cy="101.43" r="1.05" fill="#f1aa5a" />
<circle cx="73.23" cy="101.92" r="1.05" fill="#f1aa5a" />
<circle cx="74.05" cy="104.34" r="1.05" fill="#f1aa5a" />
<circle cx="69.08" cy="99.83" r="1.05" fill="#f1aa5a" />
<circle cx="66.53" cy="99.93" r="1.05" fill="#f1aa5a" />
<circle cx="67.72" cy="97.67" r="1.05" fill="#f1aa5a" />
<circle cx="70.26" cy="97.57" r="1.05" fill="#f1aa5a" />
<circle cx="71.62" cy="99.73" r="1.05" fill="#f1aa5a" />
<circle cx="70.44" cy="101.99" r="1.05" fill="#f1aa5a" />
<circle cx="67.89" cy="102.09" r="1.05" fill="#f1aa5a" />
<circle cx="84" cy="93.4" r="1.38" fill="#cfe8ec" />
<circle cx="84.55" cy="90.91" r="1.38" fill="#cfe8ec" />
<circle cx="86.43" cy="92.63" r="1.38" fill="#cfe8ec" />
<circle cx="85.88" cy="95.12" r="1.38" fill="#cfe8ec" />
<circle cx="83.45" cy="95.89" r="1.38" fill="#cfe8ec" />
<circle cx="81.57" cy="94.17" r="1.38" fill="#cfe8ec" />
<circle cx="82.12" cy="91.68" r="1.38" fill="#cfe8ec" />
<circle cx="79.67" cy="92.84" r="1.38" fill="#cfe8ec" />
<circle cx="77.12" cy="92.66" r="1.38" fill="#cfe8ec" />
<circle cx="78.55" cy="90.55" r="1.38" fill="#cfe8ec" />
<circle cx="81.09" cy="90.73" r="1.38" fill="#cfe8ec" />
<circle cx="82.21" cy="93.02" r="1.38" fill="#cfe8ec" />
<circle cx="80.78" cy="95.13" r="1.38" fill="#cfe8ec" />
<circle cx="78.24" cy="94.95" r="1.38" fill="#cfe8ec" />
<circle cx="84" cy="93.4" r="1.05" fill="#f1aa5a" />
<circle cx="84.55" cy="90.91" r="1.05" fill="#f1aa5a" />
<circle cx="86.43" cy="92.63" r="1.05" fill="#f1aa5a" />
<circle cx="85.88" cy="95.12" r="1.05" fill="#f1aa5a" />
<circle cx="83.45" cy="95.89" r="1.05" fill="#f1aa5a" />
<circle cx="81.57" cy="94.17" r="1.05" fill="#f1aa5a" />
<circle cx="82.12" cy="91.68" r="1.05" fill="#f1aa5a" />
<circle cx="79.67" cy="92.84" r="1.05" fill="#f1aa5a" />
<circle cx="77.12" cy="92.66" r="1.05" fill="#f1aa5a" />
<circle cx="78.55" cy="90.55" r="1.05" fill="#f1aa5a" />
<circle cx="81.09" cy="90.73" r="1.05" fill="#f1aa5a" />
<circle cx="82.21" cy="93.02" r="1.05" fill="#f1aa5a" />
<circle cx="80.78" cy="95.13" r="1.05" fill="#f1aa5a" />
<circle cx="78.24" cy="94.95" r="1.05" fill="#f1aa5a" />
<circle cx="94" cy="89.5" r="1.38" fill="#cfe8ec" />
<circle cx="93" cy="87.15" r="1.38" fill="#cfe8ec" />
<circle cx="95.53" cy="87.46" r="1.38" fill="#cfe8ec" />
<circle cx="96.53" cy="89.81" r="1.38" fill="#cfe8ec" />
<circle cx="95" cy="91.85" r="1.38" fill="#cfe8ec" />
<circle cx="92.47" cy="91.54" r="1.38" fill="#cfe8ec" />
<circle cx="91.47" cy="89.19" r="1.38" fill="#cfe8ec" />
<circle cx="94" cy="89.5" r="1.05" fill="#f1aa5a" />
<circle cx="93" cy="87.15" r="1.05" fill="#f1aa5a" />
<circle cx="95.53" cy="87.46" r="1.05" fill="#f1aa5a" />
<circle cx="96.53" cy="89.81" r="1.05" fill="#f1aa5a" />
<circle cx="95" cy="91.85" r="1.05" fill="#f1aa5a" />
<circle cx="92.47" cy="91.54" r="1.05" fill="#f1aa5a" />
<circle cx="91.47" cy="89.19" r="1.05" fill="#f1aa5a" />
<circle cx="104.7" cy="98" r="1.38" fill="#cfe8ec" />
<circle cx="103.75" cy="95.63" r="1.38" fill="#cfe8ec" />
<circle cx="106.28" cy="96" r="1.38" fill="#cfe8ec" />
<circle cx="107.22" cy="98.36" r="1.38" fill="#cfe8ec" />
<circle cx="105.65" cy="100.37" r="1.38" fill="#cfe8ec" />
<circle cx="103.12" cy="100" r="1.38" fill="#cfe8ec" />
<circle cx="102.18" cy="97.64" r="1.38" fill="#cfe8ec" />
<circle cx="104.7" cy="98" r="1.05" fill="#f1aa5a" />
<circle cx="103.75" cy="95.63" r="1.05" fill="#f1aa5a" />
<circle cx="106.28" cy="96" r="1.05" fill="#f1aa5a" />
<circle cx="107.22" cy="98.36" r="1.05" fill="#f1aa5a" />
<circle cx="105.65" cy="100.37" r="1.05" fill="#f1aa5a" />
<circle cx="103.12" cy="100" r="1.05" fill="#f1aa5a" />
<circle cx="102.18" cy="97.64" r="1.05" fill="#f1aa5a" />
<circle cx="116.2" cy="96.4" r="1.38" fill="#cfe8ec" />
<circle cx="117.82" cy="98.37" r="1.38" fill="#cfe8ec" />
<circle cx="115.31" cy="98.79" r="1.38" fill="#cfe8ec" />
<circle cx="113.68" cy="96.82" r="1.38" fill="#cfe8ec" />
<circle cx="114.58" cy="94.43" r="1.38" fill="#cfe8ec" />
<circle cx="117.09" cy="94.01" r="1.38" fill="#cfe8ec" />
<circle cx="118.72" cy="95.98" r="1.38" fill="#cfe8ec" />
<circle cx="116.2" cy="96.4" r="1.05" fill="#f1aa5a" />
<circle cx="117.82" cy="98.37" r="1.05" fill="#f1aa5a" />
<circle cx="115.31" cy="98.79" r="1.05" fill="#f1aa5a" />
<circle cx="113.68" cy="96.82" r="1.05" fill="#f1aa5a" />
<circle cx="114.58" cy="94.43" r="1.05" fill="#f1aa5a" />
<circle cx="117.09" cy="94.01" r="1.05" fill="#f1aa5a" />
<circle cx="118.72" cy="95.98" r="1.05" fill="#f1aa5a" />
<circle cx="66.4" cy="110.2" r="1.38" fill="#cfe8ec" />
<circle cx="68.82" cy="109.38" r="1.38" fill="#cfe8ec" />
<circle cx="68.31" cy="111.88" r="1.38" fill="#cfe8ec" />
<circle cx="65.9" cy="112.7" r="1.38" fill="#cfe8ec" />
<circle cx="63.98" cy="111.02" r="1.38" fill="#cfe8ec" />
<circle cx="64.49" cy="108.52" r="1.38" fill="#cfe8ec" />
<circle cx="66.9" cy="107.7" r="1.38" fill="#cfe8ec" />
<circle cx="70.33" cy="107.05" r="1.38" fill="#cfe8ec" />
<circle cx="72.54" cy="108.33" r="1.38" fill="#cfe8ec" />
<circle cx="70.33" cy="109.6" r="1.38" fill="#cfe8ec" />
<circle cx="68.12" cy="108.32" r="1.38" fill="#cfe8ec" />
<circle cx="68.12" cy="105.77" r="1.38" fill="#cfe8ec" />
<circle cx="70.33" cy="104.5" r="1.38" fill="#cfe8ec" />
<circle cx="72.54" cy="105.78" r="1.38" fill="#cfe8ec" />
<circle cx="62.18" cy="107.45" r="1.38" fill="#cfe8ec" />
<circle cx="59.92" cy="108.63" r="1.38" fill="#cfe8ec" />
<circle cx="60.03" cy="106.08" r="1.38" fill="#cfe8ec" />
<circle cx="62.29" cy="104.9" r="1.38" fill="#cfe8ec" />
<circle cx="64.44" cy="106.27" r="1.38" fill="#cfe8ec" />
<circle cx="64.33" cy="108.82" r="1.38" fill="#cfe8ec" />
<circle cx="62.07" cy="110" r="1.38" fill="#cfe8ec" />
<circle cx="66.4" cy="110.2" r="1.05" fill="#f1aa5a" />
<circle cx="68.82" cy="109.38" r="1.05" fill="#f1aa5a" />
<circle cx="68.31" cy="111.88" r="1.05" fill="#f1aa5a" />
<circle cx="65.9" cy="112.7" r="1.05" fill="#f1aa5a" />
<circle cx="63.98" cy="111.02" r="1.05" fill="#f1aa5a" />
<circle cx="64.49" cy="108.52" r="1.05" fill="#f1aa5a" />
<circle cx="66.9" cy="107.7" r="1.05" fill="#f1aa5a" />
<circle cx="70.33" cy="107.05" r="1.05" fill="#f1aa5a" />
<circle cx="72.54" cy="108.33" r="1.05" fill="#f1aa5a" />
<circle cx="70.33" cy="109.6" r="1.05" fill="#f1aa5a" />
<circle cx="68.12" cy="108.32" r="1.05" fill="#f1aa5a" />
<circle cx="68.12" cy="105.77" r="1.05" fill="#f1aa5a" />
<circle cx="70.33" cy="104.5" r="1.05" fill="#f1aa5a" />
<circle cx="72.54" cy="105.78" r="1.05" fill="#f1aa5a" />
<circle cx="62.18" cy="107.45" r="1.05" fill="#f1aa5a" />
<circle cx="59.92" cy="108.63" r="1.05" fill="#f1aa5a" />
<circle cx="60.03" cy="106.08" r="1.05" fill="#f1aa5a" />
<circle cx="62.29" cy="104.9" r="1.05" fill="#f1aa5a" />
<circle cx="64.44" cy="106.27" r="1.05" fill="#f1aa5a" />
<circle cx="64.33" cy="108.82" r="1.05" fill="#f1aa5a" />
<circle cx="62.07" cy="110" r="1.05" fill="#f1aa5a" />
<circle cx="87.1" cy="107.9" r="1.38" fill="#cfe8ec" />
<circle cx="88.46" cy="105.74" r="1.38" fill="#cfe8ec" />
<circle cx="89.65" cy="108" r="1.38" fill="#cfe8ec" />
<circle cx="88.29" cy="110.16" r="1.38" fill="#cfe8ec" />
<circle cx="85.74" cy="110.06" r="1.38" fill="#cfe8ec" />
<circle cx="84.55" cy="107.8" r="1.38" fill="#cfe8ec" />
<circle cx="85.91" cy="105.64" r="1.38" fill="#cfe8ec" />
<circle cx="88.9" cy="111.88" r="1.38" fill="#cfe8ec" />
<circle cx="91.45" cy="111.85" r="1.38" fill="#cfe8ec" />
<circle cx="90.2" cy="114.07" r="1.38" fill="#cfe8ec" />
<circle cx="87.65" cy="114.11" r="1.38" fill="#cfe8ec" />
<circle cx="86.35" cy="111.92" r="1.38" fill="#cfe8ec" />
<circle cx="87.59" cy="109.69" r="1.38" fill="#cfe8ec" />
<circle cx="90.14" cy="109.66" r="1.38" fill="#cfe8ec" />
<circle cx="87.1" cy="107.9" r="1.05" fill="#f1aa5a" />
<circle cx="88.46" cy="105.74" r="1.05" fill="#f1aa5a" />
<circle cx="89.65" cy="108" r="1.05" fill="#f1aa5a" />
<circle cx="88.29" cy="110.16" r="1.05" fill="#f1aa5a" />
<circle cx="85.74" cy="110.06" r="1.05" fill="#f1aa5a" />
<circle cx="84.55" cy="107.8" r="1.05" fill="#f1aa5a" />
<circle cx="85.91" cy="105.64" r="1.05" fill="#f1aa5a" />
<circle cx="88.9" cy="111.88" r="1.05" fill="#f1aa5a" />
<circle cx="91.45" cy="111.85" r="1.05" fill="#f1aa5a" />
<circle cx="90.2" cy="114.07" r="1.05" fill="#f1aa5a" />
<circle cx="87.65" cy="114.11" r="1.05" fill="#f1aa5a" />
<circle cx="86.35" cy="111.92" r="1.05" fill="#f1aa5a" />
<circle cx="87.59" cy="109.69" r="1.05" fill="#f1aa5a" />
<circle cx="90.14" cy="109.66" r="1.05" fill="#f1aa5a" />
<circle cx="51.6" cy="113.3" r="1.38" fill="#cfe8ec" />
<circle cx="53.88" cy="112.16" r="1.38" fill="#cfe8ec" />
<circle cx="53.73" cy="114.71" r="1.38" fill="#cfe8ec" />
<circle cx="51.45" cy="115.85" r="1.38" fill="#cfe8ec" />
<circle cx="49.32" cy="114.44" r="1.38" fill="#cfe8ec" />
<circle cx="49.47" cy="111.89" r="1.38" fill="#cfe8ec" />
<circle cx="51.75" cy="110.75" r="1.38" fill="#cfe8ec" />
<circle cx="51.6" cy="113.3" r="1.05" fill="#f1aa5a" />
<circle cx="53.88" cy="112.16" r="1.05" fill="#f1aa5a" />
<circle cx="53.73" cy="114.71" r="1.05" fill="#f1aa5a" />
<circle cx="51.45" cy="115.85" r="1.05" fill="#f1aa5a" />
<circle cx="49.32" cy="114.44" r="1.05" fill="#f1aa5a" />
<circle cx="49.47" cy="111.89" r="1.05" fill="#f1aa5a" />
<circle cx="51.75" cy="110.75" r="1.05" fill="#f1aa5a" />
<circle cx="97.8" cy="116.3" r="1.38" fill="#cfe8ec" />
<circle cx="98.55" cy="118.74" r="1.38" fill="#cfe8ec" />
<circle cx="96.06" cy="118.17" r="1.38" fill="#cfe8ec" />
<circle cx="95.31" cy="115.73" r="1.38" fill="#cfe8ec" />
<circle cx="97.05" cy="113.86" r="1.38" fill="#cfe8ec" />
<circle cx="99.54" cy="114.43" r="1.38" fill="#cfe8ec" />
<circle cx="100.29" cy="116.87" r="1.38" fill="#cfe8ec" />
<circle cx="99.2" cy="121.14" r="1.38" fill="#cfe8ec" />
<circle cx="97.14" cy="119.63" r="1.38" fill="#cfe8ec" />
<circle cx="99.47" cy="118.6" r="1.38" fill="#cfe8ec" />
<circle cx="101.53" cy="120.11" r="1.38" fill="#cfe8ec" />
<circle cx="101.26" cy="122.64" r="1.38" fill="#cfe8ec" />
<circle cx="98.93" cy="123.67" r="1.38" fill="#cfe8ec" />
<circle cx="96.87" cy="122.17" r="1.38" fill="#cfe8ec" />
<circle cx="102.52" cy="118.06" r="1.38" fill="#cfe8ec" />
<circle cx="102.93" cy="115.54" r="1.38" fill="#cfe8ec" />
<circle cx="104.9" cy="117.16" r="1.38" fill="#cfe8ec" />
<circle cx="104.49" cy="119.67" r="1.38" fill="#cfe8ec" />
<circle cx="102.1" cy="120.57" r="1.38" fill="#cfe8ec" />
<circle cx="100.13" cy="118.96" r="1.38" fill="#cfe8ec" />
<circle cx="100.55" cy="116.44" r="1.38" fill="#cfe8ec" />
<circle cx="97.8" cy="116.3" r="1.05" fill="#f1aa5a" />
<circle cx="98.55" cy="118.74" r="1.05" fill="#f1aa5a" />
<circle cx="96.06" cy="118.17" r="1.05" fill="#f1aa5a" />
<circle cx="95.31" cy="115.73" r="1.05" fill="#f1aa5a" />
<circle cx="97.05" cy="113.86" r="1.05" fill="#f1aa5a" />
<circle cx="99.54" cy="114.43" r="1.05" fill="#f1aa5a" />
<circle cx="100.29" cy="116.87" r="1.05" fill="#f1aa5a" />
<circle cx="99.2" cy="121.14" r="1.05" fill="#f1aa5a" />
<circle cx="97.14" cy="119.63" r="1.05" fill="#f1aa5a" />
<circle cx="99.47" cy="118.6" r="1.05" fill="#f1aa5a" />
<circle cx="101.53" cy="120.11" r="1.05" fill="#f1aa5a" />
<circle cx="101.26" cy="122.64" r="1.05" fill="#f1aa5a" />
<circle cx="98.93" cy="123.67" r="1.05" fill="#f1aa5a" />
<circle cx="96.87" cy="122.17" r="1.05" fill="#f1aa5a" />
<circle cx="102.52" cy="118.06" r="1.05" fill="#f1aa5a" />
<circle cx="102.93" cy="115.54" r="1.05" fill="#f1aa5a" />
<circle cx="104.9" cy="117.16" r="1.05" fill="#f1aa5a" />
<circle cx="104.49" cy="119.67" r="1.05" fill="#f1aa5a" />
<circle cx="102.1" cy="120.57" r="1.05" fill="#f1aa5a" />
<circle cx="100.13" cy="118.96" r="1.05" fill="#f1aa5a" />
<circle cx="100.55" cy="116.44" r="1.05" fill="#f1aa5a" />
<circle cx="120.1" cy="114" r="1.38" fill="#cfe8ec" />
<circle cx="119.33" cy="111.57" r="1.38" fill="#cfe8ec" />
<circle cx="121.82" cy="112.12" r="1.38" fill="#cfe8ec" />
<circle cx="122.59" cy="114.55" r="1.38" fill="#cfe8ec" />
<circle cx="120.87" cy="116.43" r="1.38" fill="#cfe8ec" />
<circle cx="118.38" cy="115.88" r="1.38" fill="#cfe8ec" />
<circle cx="117.61" cy="113.45" r="1.38" fill="#cfe8ec" />
<circle cx="124.95" cy="112.66" r="1.38" fill="#cfe8ec" />
<circle cx="125.8" cy="115.06" r="1.38" fill="#cfe8ec" />
<circle cx="123.29" cy="114.59" r="1.38" fill="#cfe8ec" />
<circle cx="122.45" cy="112.19" r="1.38" fill="#cfe8ec" />
<circle cx="124.11" cy="110.25" r="1.38" fill="#cfe8ec" />
<circle cx="126.61" cy="110.72" r="1.38" fill="#cfe8ec" />
<circle cx="127.46" cy="113.13" r="1.38" fill="#cfe8ec" />
<circle cx="124.72" cy="116.01" r="1.38" fill="#cfe8ec" />
<circle cx="125.86" cy="113.73" r="1.38" fill="#cfe8ec" />
<circle cx="127.26" cy="115.86" r="1.38" fill="#cfe8ec" />
<circle cx="126.12" cy="118.14" r="1.38" fill="#cfe8ec" />
<circle cx="123.58" cy="118.29" r="1.38" fill="#cfe8ec" />
<circle cx="122.17" cy="116.16" r="1.38" fill="#cfe8ec" />
<circle cx="123.31" cy="113.88" r="1.38" fill="#cfe8ec" />
<circle cx="120.1" cy="114" r="1.05" fill="#f1aa5a" />
<circle cx="119.33" cy="111.57" r="1.05" fill="#f1aa5a" />
<circle cx="121.82" cy="112.12" r="1.05" fill="#f1aa5a" />
<circle cx="122.59" cy="114.55" r="1.05" fill="#f1aa5a" />
<circle cx="120.87" cy="116.43" r="1.05" fill="#f1aa5a" />
<circle cx="118.38" cy="115.88" r="1.05" fill="#f1aa5a" />
<circle cx="117.61" cy="113.45" r="1.05" fill="#f1aa5a" />
<circle cx="124.95" cy="112.66" r="1.05" fill="#f1aa5a" />
<circle cx="125.8" cy="115.06" r="1.05" fill="#f1aa5a" />
<circle cx="123.29" cy="114.59" r="1.05" fill="#f1aa5a" />
<circle cx="122.45" cy="112.19" r="1.05" fill="#f1aa5a" />
<circle cx="124.11" cy="110.25" r="1.05" fill="#f1aa5a" />
<circle cx="126.61" cy="110.72" r="1.05" fill="#f1aa5a" />
<circle cx="127.46" cy="113.13" r="1.05" fill="#f1aa5a" />
<circle cx="124.72" cy="116.01" r="1.05" fill="#f1aa5a" />
<circle cx="125.86" cy="113.73" r="1.05" fill="#f1aa5a" />
<circle cx="127.26" cy="115.86" r="1.05" fill="#f1aa5a" />
<circle cx="126.12" cy="118.14" r="1.05" fill="#f1aa5a" />
<circle cx="123.58" cy="118.29" r="1.05" fill="#f1aa5a" />
<circle cx="122.17" cy="116.16" r="1.05" fill="#f1aa5a" />
<circle cx="123.31" cy="113.88" r="1.05" fill="#f1aa5a" />
<circle cx="80.2" cy="119.4" r="1.38" fill="#cfe8ec" />
<circle cx="81.94" cy="121.27" r="1.38" fill="#cfe8ec" />
<circle cx="79.45" cy="121.84" r="1.38" fill="#cfe8ec" />
<circle cx="77.71" cy="119.97" r="1.38" fill="#cfe8ec" />
<circle cx="78.46" cy="117.53" r="1.38" fill="#cfe8ec" />
<circle cx="80.95" cy="116.96" r="1.38" fill="#cfe8ec" />
<circle cx="82.69" cy="118.83" r="1.38" fill="#cfe8ec" />
<circle cx="80.2" cy="119.4" r="1.05" fill="#f1aa5a" />
<circle cx="81.94" cy="121.27" r="1.05" fill="#f1aa5a" />
<circle cx="79.45" cy="121.84" r="1.05" fill="#f1aa5a" />
<circle cx="77.71" cy="119.97" r="1.05" fill="#f1aa5a" />
<circle cx="78.46" cy="117.53" r="1.05" fill="#f1aa5a" />
<circle cx="80.95" cy="116.96" r="1.05" fill="#f1aa5a" />
<circle cx="82.69" cy="118.83" r="1.05" fill="#f1aa5a" />
<circle cx="57.7" cy="124" r="1.38" fill="#cfe8ec" />
<circle cx="56.26" cy="126.1" r="1.38" fill="#cfe8ec" />
<circle cx="55.16" cy="123.8" r="1.38" fill="#cfe8ec" />
<circle cx="56.6" cy="121.7" r="1.38" fill="#cfe8ec" />
<circle cx="59.14" cy="121.9" r="1.38" fill="#cfe8ec" />
<circle cx="60.24" cy="124.2" r="1.38" fill="#cfe8ec" />
<circle cx="58.8" cy="126.3" r="1.38" fill="#cfe8ec" />
<circle cx="57.7" cy="124" r="1.05" fill="#f1aa5a" />
<circle cx="56.26" cy="126.1" r="1.05" fill="#f1aa5a" />
<circle cx="55.16" cy="123.8" r="1.05" fill="#f1aa5a" />
<circle cx="56.6" cy="121.7" r="1.05" fill="#f1aa5a" />
<circle cx="59.14" cy="121.9" r="1.05" fill="#f1aa5a" />
<circle cx="60.24" cy="124.2" r="1.05" fill="#f1aa5a" />
<circle cx="58.8" cy="126.3" r="1.05" fill="#f1aa5a" />
<circle cx="112.4" cy="124.8" r="1.38" fill="#cfe8ec" />
<circle cx="111.78" cy="127.27" r="1.38" fill="#cfe8ec" />
<circle cx="109.95" cy="125.5" r="1.38" fill="#cfe8ec" />
<circle cx="110.57" cy="123.03" r="1.38" fill="#cfe8ec" />
<circle cx="113.02" cy="122.33" r="1.38" fill="#cfe8ec" />
<circle cx="114.85" cy="124.1" r="1.38" fill="#cfe8ec" />
<circle cx="114.23" cy="126.57" r="1.38" fill="#cfe8ec" />
<circle cx="117.35" cy="125.74" r="1.38" fill="#cfe8ec" />
<circle cx="115.89" cy="123.65" r="1.38" fill="#cfe8ec" />
<circle cx="118.43" cy="123.44" r="1.38" fill="#cfe8ec" />
<circle cx="119.89" cy="125.53" r="1.38" fill="#cfe8ec" />
<circle cx="118.8" cy="127.84" r="1.38" fill="#cfe8ec" />
<circle cx="116.26" cy="128.05" r="1.38" fill="#cfe8ec" />
<circle cx="114.8" cy="125.96" r="1.38" fill="#cfe8ec" />
<circle cx="113.65" cy="129.68" r="1.38" fill="#cfe8ec" />
<circle cx="113.54" cy="132.22" r="1.38" fill="#cfe8ec" />
<circle cx="111.39" cy="130.85" r="1.38" fill="#cfe8ec" />
<circle cx="111.5" cy="128.3" r="1.38" fill="#cfe8ec" />
<circle cx="113.77" cy="127.13" r="1.38" fill="#cfe8ec" />
<circle cx="115.92" cy="128.5" r="1.38" fill="#cfe8ec" />
<circle cx="115.8" cy="131.05" r="1.38" fill="#cfe8ec" />
<circle cx="112.4" cy="124.8" r="1.05" fill="#f1aa5a" />
<circle cx="111.78" cy="127.27" r="1.05" fill="#f1aa5a" />
<circle cx="109.95" cy="125.5" r="1.05" fill="#f1aa5a" />
<circle cx="110.57" cy="123.03" r="1.05" fill="#f1aa5a" />
<circle cx="113.02" cy="122.33" r="1.05" fill="#f1aa5a" />
<circle cx="114.85" cy="124.1" r="1.05" fill="#f1aa5a" />
<circle cx="114.23" cy="126.57" r="1.05" fill="#f1aa5a" />
<circle cx="117.35" cy="125.74" r="1.05" fill="#f1aa5a" />
<circle cx="115.89" cy="123.65" r="1.05" fill="#f1aa5a" />
<circle cx="118.43" cy="123.44" r="1.05" fill="#f1aa5a" />
<circle cx="119.89" cy="125.53" r="1.05" fill="#f1aa5a" />
<circle cx="118.8" cy="127.84" r="1.05" fill="#f1aa5a" />
<circle cx="116.26" cy="128.05" r="1.05" fill="#f1aa5a" />
<circle cx="114.8" cy="125.96" r="1.05" fill="#f1aa5a" />
<circle cx="113.65" cy="129.68" r="1.05" fill="#f1aa5a" />
<circle cx="113.54" cy="132.22" r="1.05" fill="#f1aa5a" />
<circle cx="111.39" cy="130.85" r="1.05" fill="#f1aa5a" />
<circle cx="111.5" cy="128.3" r="1.05" fill="#f1aa5a" />
<circle cx="113.77" cy="127.13" r="1.05" fill="#f1aa5a" />
<circle cx="115.92" cy="128.5" r="1.05" fill="#f1aa5a" />
<circle cx="115.8" cy="131.05" r="1.05" fill="#f1aa5a" />
<circle cx="45" cy="125.5" r="1.38" fill="#cfe8ec" />
<circle cx="45.79" cy="127.93" r="1.38" fill="#cfe8ec" />
<circle cx="43.29" cy="127.4" r="1.38" fill="#cfe8ec" />
<circle cx="42.51" cy="124.97" r="1.38" fill="#cfe8ec" />
<circle cx="44.21" cy="123.07" r="1.38" fill="#cfe8ec" />
<circle cx="46.71" cy="123.6" r="1.38" fill="#cfe8ec" />
<circle cx="47.49" cy="126.03" r="1.38" fill="#cfe8ec" />
<circle cx="45" cy="125.5" r="1.05" fill="#f1aa5a" />
<circle cx="45.79" cy="127.93" r="1.05" fill="#f1aa5a" />
<circle cx="43.29" cy="127.4" r="1.05" fill="#f1aa5a" />
<circle cx="42.51" cy="124.97" r="1.05" fill="#f1aa5a" />
<circle cx="44.21" cy="123.07" r="1.05" fill="#f1aa5a" />
<circle cx="46.71" cy="123.6" r="1.05" fill="#f1aa5a" />
<circle cx="47.49" cy="126.03" r="1.05" fill="#f1aa5a" />
<circle cx="87.1" cy="174.7" r="3.1" fill="#2f6b97" stroke="#234f72" stroke-width="0.4"/>
<circle cx="86.7" cy="175" r="1.4" fill="#4a88b5" />
<circle cx="112.4" cy="178.3" r="3.1" fill="#2f6b97" stroke="#234f72" stroke-width="0.4"/>
<circle cx="112" cy="178.6" r="1.4" fill="#4a88b5" />
<circle cx="55.4" cy="193.4" r="3.1" fill="#2f6b97" stroke="#234f72" stroke-width="0.4"/>
<circle cx="55" cy="193.7" r="1.4" fill="#4a88b5" />
<circle cx="117" cy="193.8" r="3.1" fill="#2f6b97" stroke="#234f72" stroke-width="0.4"/>
<circle cx="116.6" cy="194.1" r="1.4" fill="#4a88b5" />
<circle cx="49.9" cy="207.6" r="3.1" fill="#2f6b97" stroke="#234f72" stroke-width="0.4"/>
<circle cx="49.5" cy="207.9" r="1.4" fill="#4a88b5" />
<circle cx="68.7" cy="206.1" r="3.1" fill="#2f6b97" stroke="#234f72" stroke-width="0.4"/>
<circle cx="68.3" cy="206.4" r="1.4" fill="#4a88b5" />
<circle cx="77.6" cy="206.1" r="3.1" fill="#2f6b97" stroke="#234f72" stroke-width="0.4"/>
<circle cx="77.2" cy="206.4" r="1.4" fill="#4a88b5" />
<circle cx="105.5" cy="210.7" r="3.1" fill="#2f6b97" stroke="#234f72" stroke-width="0.4"/>
<circle cx="105.1" cy="211" r="1.4" fill="#4a88b5" />
<circle cx="112.4" cy="213" r="3.1" fill="#2f6b97" stroke="#234f72" stroke-width="0.4"/>
<circle cx="112" cy="213.3" r="1.4" fill="#4a88b5" />
<circle cx="121.1" cy="213.7" r="3.1" fill="#2f6b97" stroke="#234f72" stroke-width="0.4"/>
<circle cx="120.7" cy="214" r="1.4" fill="#4a88b5" />
<circle cx="76.1" cy="222.9" r="3.1" fill="#2f6b97" stroke="#234f72" stroke-width="0.4"/>
<circle cx="75.7" cy="223.2" r="1.4" fill="#4a88b5" />
<circle cx="102.7" cy="227.1" r="3.1" fill="#2f6b97" stroke="#234f72" stroke-width="0.4"/>
<circle cx="102.3" cy="227.4" r="1.4" fill="#4a88b5" />
<circle cx="79.9" cy="181.1" r="3.1" fill="#6dc6b4" stroke="#4aa896" stroke-width="0.4"/>
<path d="M78.5 182.1 l1.2 -1.1 l0.6 0.9 l0.9 -1.2" fill="none" stroke="#b06a30" stroke-width="0.6"/>
<circle cx="88.2" cy="183.9" r="3.1" fill="#6dc6b4" stroke="#4aa896" stroke-width="0.4"/>
<path d="M86.8 184.9 l1.2 -1.1 l0.6 0.9 l0.9 -1.2" fill="none" stroke="#b06a30" stroke-width="0.6"/>
<circle cx="62.6" cy="190.3" r="3.1" fill="#6dc6b4" stroke="#4aa896" stroke-width="0.4"/>
<path d="M61.2 191.3 l1.2 -1.1 l0.6 0.9 l0.9 -1.2" fill="none" stroke="#b06a30" stroke-width="0.6"/>
<circle cx="73.8" cy="198.7" r="3.1" fill="#6dc6b4" stroke="#4aa896" stroke-width="0.4"/>
<path d="M72.4 199.7 l1.2 -1.1 l0.6 0.9 l0.9 -1.2" fill="none" stroke="#b06a30" stroke-width="0.6"/>
<circle cx="90.5" cy="197.2" r="3.1" fill="#6dc6b4" stroke="#4aa896" stroke-width="0.4"/>
<path d="M89.1 198.2 l1.2 -1.1 l0.6 0.9 l0.9 -1.2" fill="none" stroke="#b06a30" stroke-width="0.6"/>
<circle cx="107" cy="195.7" r="3.1" fill="#6dc6b4" stroke="#4aa896" stroke-width="0.4"/>
<path d="M105.6 196.7 l1.2 -1.1 l0.6 0.9 l0.9 -1.2" fill="none" stroke="#b06a30" stroke-width="0.6"/>
<circle cx="117.3" cy="205.2" r="3.1" fill="#6dc6b4" stroke="#4aa896" stroke-width="0.4"/>
<path d="M115.9 206.2 l1.2 -1.1 l0.6 0.9 l0.9 -1.2" fill="none" stroke="#b06a30" stroke-width="0.6"/>
<circle cx="60.3" cy="208.7" r="3.1" fill="#6dc6b4" stroke="#4aa896" stroke-width="0.4"/>
<path d="M58.9 209.7 l1.2 -1.1 l0.6 0.9 l0.9 -1.2" fill="none" stroke="#b06a30" stroke-width="0.6"/>
<circle cx="72.1" cy="213.7" r="3.1" fill="#6dc6b4" stroke="#4aa896" stroke-width="0.4"/>
<path d="M70.7 214.7 l1.2 -1.1 l0.6 0.9 l0.9 -1.2" fill="none" stroke="#b06a30" stroke-width="0.6"/>
<circle cx="106.7" cy="218.6" r="3.1" fill="#6dc6b4" stroke="#4aa896" stroke-width="0.4"/>
<path d="M105.3 219.6 l1.2 -1.1 l0.6 0.9 l0.9 -1.2" fill="none" stroke="#b06a30" stroke-width="0.6"/>
<circle cx="123.6" cy="221.4" r="3.1" fill="#6dc6b4" stroke="#4aa896" stroke-width="0.4"/>
<path d="M122.2 222.4 l1.2 -1.1 l0.6 0.9 l0.9 -1.2" fill="none" stroke="#b06a30" stroke-width="0.6"/>
<circle cx="125.7" cy="228.3" r="3.1" fill="#6dc6b4" stroke="#4aa896" stroke-width="0.4"/>
<path d="M124.3 229.3 l1.2 -1.1 l0.6 0.9 l0.9 -1.2" fill="none" stroke="#b06a30" stroke-width="0.6"/>
<circle cx="102" cy="177.3" r="3.1" fill="#8a5cb6" stroke="#6d4098" stroke-width="0.4"/>
<circle cx="102.8" cy="178" r="1.18" fill="#5bc8e0" />
<circle cx="119" cy="186.2" r="3.1" fill="#8a5cb6" stroke="#6d4098" stroke-width="0.4"/>
<circle cx="119.8" cy="186.9" r="1.18" fill="#5bc8e0" />
<circle cx="82.1" cy="194.1" r="3.1" fill="#8a5cb6" stroke="#6d4098" stroke-width="0.4"/>
<circle cx="82.9" cy="194.8" r="1.18" fill="#5bc8e0" />
<circle cx="96.6" cy="191.4" r="3.1" fill="#8a5cb6" stroke="#6d4098" stroke-width="0.4"/>
<circle cx="97.4" cy="192.1" r="1.18" fill="#5bc8e0" />
<circle cx="108.3" cy="203" r="3.1" fill="#8a5cb6" stroke="#6d4098" stroke-width="0.4"/>
<circle cx="109.1" cy="203.7" r="1.18" fill="#5bc8e0" />
<path d="M124.8 177.7 L123.91 178.66 L123.86 179.96 L122.56 180.01 L121.6 180.9 L120.64 180.01 L119.34 179.96 L119.29 178.66 L118.4 177.7 L119.29 176.74 L119.34 175.44 L120.64 175.39 L121.6 174.5 L122.56 175.39 L123.86 175.44 L123.91 176.74 Z" fill="#d8642e" stroke="#7d6a60" stroke-width="0.45"/>
<circle cx="121.6" cy="177.7" r="1.34" fill="#c8282a" />
<path d="M57.8 184.9 L56.91 185.86 L56.86 187.16 L55.56 187.21 L54.6 188.1 L53.64 187.21 L52.34 187.16 L52.29 185.86 L51.4 184.9 L52.29 183.94 L52.34 182.64 L53.64 182.59 L54.6 181.7 L55.56 182.59 L56.86 182.64 L56.91 183.94 Z" fill="#d8642e" stroke="#7d6a60" stroke-width="0.45"/>
<circle cx="54.6" cy="184.9" r="1.34" fill="#c8282a" />
<path d="M86.2 212.8 L85.31 213.76 L85.26 215.06 L83.96 215.11 L83 216 L82.04 215.11 L80.74 215.06 L80.69 213.76 L79.8 212.8 L80.69 211.84 L80.74 210.54 L82.04 210.49 L83 209.6 L83.96 210.49 L85.26 210.54 L85.31 211.84 Z" fill="#d8642e" stroke="#7d6a60" stroke-width="0.45"/>
<circle cx="83" cy="212.8" r="1.34" fill="#c8282a" />
<path d="M94.9 215.6 L94.01 216.56 L93.96 217.86 L92.66 217.91 L91.7 218.8 L90.74 217.91 L89.44 217.86 L89.39 216.56 L88.5 215.6 L89.39 214.64 L89.44 213.34 L90.74 213.29 L91.7 212.4 L92.66 213.29 L93.96 213.34 L94.01 214.64 Z" fill="#d8642e" stroke="#7d6a60" stroke-width="0.45"/>
<circle cx="91.7" cy="215.6" r="1.34" fill="#c8282a" />
<path d="M59.7 219 L58.81 219.96 L58.76 221.26 L57.46 221.31 L56.5 222.2 L55.54 221.31 L54.24 221.26 L54.19 219.96 L53.3 219 L54.19 218.04 L54.24 216.74 L55.54 216.69 L56.5 215.8 L57.46 216.69 L58.76 216.74 L58.81 218.04 Z" fill="#d8642e" stroke="#7d6a60" stroke-width="0.45"/>
<circle cx="56.5" cy="219" r="1.34" fill="#c8282a" />
<path d="M50.5 225.5 L49.61 226.46 L49.56 227.76 L48.26 227.81 L47.3 228.7 L46.34 227.81 L45.04 227.76 L44.99 226.46 L44.1 225.5 L44.99 224.54 L45.04 223.24 L46.34 223.19 L47.3 222.3 L48.26 223.19 L49.56 223.24 L49.61 224.54 Z" fill="#d8642e" stroke="#7d6a60" stroke-width="0.45"/>
<circle cx="47.3" cy="225.5" r="1.34" fill="#c8282a" />
<path d="M58.6 229.1 L57.71 230.06 L57.66 231.36 L56.36 231.41 L55.4 232.3 L54.44 231.41 L53.14 231.36 L53.09 230.06 L52.2 229.1 L53.09 228.14 L53.14 226.84 L54.44 226.79 L55.4 225.9 L56.36 226.79 L57.66 226.84 L57.71 228.14 Z" fill="#d8642e" stroke="#7d6a60" stroke-width="0.45"/>
<circle cx="55.4" cy="229.1" r="1.34" fill="#c8282a" />
<circle cx="125.6" cy="190.6" r="1" fill="#eea04a" />
<circle cx="127" cy="189.6" r="1" fill="#eea04a" />
<circle cx="97.5" cy="209.9" r="1" fill="#eea04a" />
<defs><linearGradient id="hsc" x1="0.7" y1="0.1" x2="0.2" y2="0.9"><stop offset="0" stop-color="#e98830"/><stop offset="0.45" stop-color="#f0a658"/><stop offset="1" stop-color="#f8e0cc"/></linearGradient></defs>
<circle cx="29.1" cy="67.9" r="7" fill="#c2e6f0" />
<circle cx="29.1" cy="67.9" r="6.4" fill="#aad9e8" />
<circle cx="29.1" cy="67.9" r="5.3" fill="url(#hsc)" />
<circle cx="29.1" cy="85.8" r="7" fill="#c2e6f0" />
<circle cx="29.1" cy="85.8" r="6.4" fill="#aad9e8" />
<circle cx="29.1" cy="85.8" r="5.3" fill="url(#hsc)" />
<circle cx="29.1" cy="103" r="7" fill="#c2e6f0" />
<circle cx="29.1" cy="103" r="6.4" fill="#aad9e8" />
<circle cx="29.1" cy="103" r="5.3" fill="url(#hsc)" />
<circle cx="29.1" cy="120.2" r="7" fill="#c2e6f0" />
<circle cx="29.1" cy="120.2" r="6.4" fill="#aad9e8" />
<circle cx="29.1" cy="120.2" r="5.3" fill="url(#hsc)" />
<text x="11.3" y="98.2" font-size="6.68" text-anchor="middle" font-weight="normal" fill="#231f20" transform="rotate(-90 11.3 98.2)" >Clonally resolved HSCs</text>
<circle cx="30.5" cy="177.1" r="5.4" fill="#8e5eba" stroke="#7447a0" stroke-width="0.5"/>
<circle cx="32" cy="178.8" r="1.8" fill="#5bc8e0" />
<circle cx="30.5" cy="191.7" r="5.3" fill="#2f6b97" stroke="#234f72" stroke-width="0.5"/>
<circle cx="30" cy="192.2" r="2.4" fill="#4a88b5" />
<circle cx="29.9" cy="206.2" r="5.2" fill="#6dc6b4" stroke="#4aa896" stroke-width="0.5"/>
<path d="M29.2 208.6 l1.6 -1.6 l0.9 1.1 l1.3 -1.7" fill="none" stroke="#b06a30" stroke-width="0.8"/>
<path d="M35.4 222.8 L34.03 224.26 L33.96 226.26 L31.96 226.33 L30.5 227.7 L29.04 226.33 L27.04 226.26 L26.97 224.26 L25.6 222.8 L26.97 221.34 L27.04 219.34 L29.04 219.27 L30.5 217.9 L31.96 219.27 L33.96 219.34 L34.03 221.34 Z" fill="#d8642e" stroke="#7d6a60" stroke-width="0.45"/>
<circle cx="30.5" cy="222.8" r="2.06" fill="#c8282a" />
<text x="5.6" y="193.4" font-size="6.68" text-anchor="middle" font-weight="normal" fill="#231f20" transform="rotate(-90 5.6 193.4)" >Committed progenitors</text>
<text x="13.4" y="193.8" font-size="6.68" text-anchor="middle" font-weight="normal" fill="#231f20" transform="rotate(-90 13.4 193.8)" >and mature cells</text>
<text x="31.4" y="148.2" font-size="6.68" text-anchor="middle" font-weight="normal" fill="#231f20" >mtDNA</text>
<text x="32.1" y="156.1" font-size="6.68" text-anchor="middle" font-weight="normal" fill="#231f20" >mutations</text>
<text x="31.8" y="163.6" font-size="6.68" text-anchor="middle" font-weight="normal" fill="#231f20" >graph</text>
</svg></body></html>
